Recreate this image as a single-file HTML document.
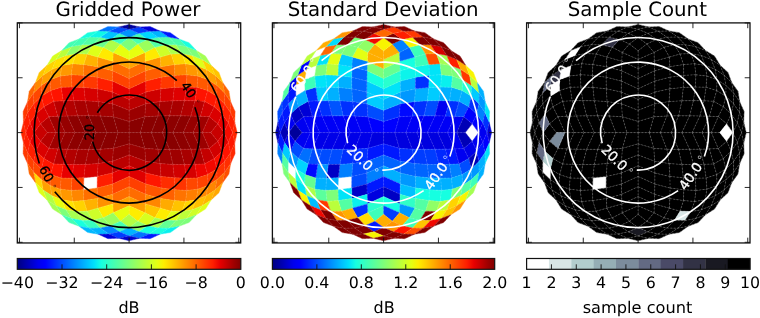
<!DOCTYPE html>
<html><head><meta charset="utf-8"><title>Gridded beam maps</title>
<style>html,body{margin:0;padding:0;background:#fff}body{will-change:transform}text{text-rendering:geometricPrecision}svg{display:block}</style></head>
<body>
<svg width="760" height="318" viewBox="0 0 760 318" font-family="'DejaVu Sans','Liberation Sans',sans-serif" fill="#000">
<rect width="760" height="318" fill="#fff"/>
<g stroke-width="0.35" stroke-linejoin="round">
<polygon points="129.10,132.60 129.10,121.42 144.84,116.85 140.28,132.60" fill="#890000" stroke="#890000"/>
<polygon points="129.10,132.60 117.92,132.60 113.36,116.85 129.10,121.42" fill="#890000" stroke="#890000"/>
<polygon points="129.10,132.60 129.10,143.78 113.36,148.35 117.92,132.60" fill="#890000" stroke="#890000"/>
<polygon points="129.10,132.60 140.28,132.60 144.84,148.35 129.10,143.78" fill="#890000" stroke="#890000"/>
<polygon points="140.28,132.60 144.84,116.85 157.83,116.00 151.37,132.60" fill="#890000" stroke="#890000"/>
<polygon points="129.10,121.42 129.10,110.32 145.69,103.85 144.84,116.85" fill="#9b0000" stroke="#9b0000"/>
<polygon points="129.10,121.42 113.36,116.85 112.51,103.85 129.10,110.32" fill="#9b0000" stroke="#9b0000"/>
<polygon points="117.92,132.60 106.83,132.60 100.37,116.00 113.36,116.85" fill="#890000" stroke="#890000"/>
<polygon points="117.92,132.60 113.36,148.35 100.37,149.20 106.83,132.60" fill="#890000" stroke="#890000"/>
<polygon points="129.10,143.78 129.10,154.88 112.51,161.35 113.36,148.35" fill="#9b0000" stroke="#9b0000"/>
<polygon points="129.10,143.78 144.84,148.35 145.69,161.35 129.10,154.88" fill="#9b0000" stroke="#9b0000"/>
<polygon points="140.28,132.60 151.37,132.60 157.83,149.20 144.84,148.35" fill="#890000" stroke="#890000"/>
<polygon points="151.37,132.60 157.83,116.00 169.59,115.82 162.28,132.60" fill="#890000" stroke="#890000"/>
<polygon points="144.84,116.85 145.69,103.85 160.09,101.60 157.83,116.00" fill="#a40000" stroke="#a40000"/>
<polygon points="129.10,110.32 129.10,99.41 145.87,92.10 145.69,103.85" fill="#bb0000" stroke="#bb0000"/>
<polygon points="129.10,110.32 112.51,103.85 112.33,92.10 129.10,99.41" fill="#bb0000" stroke="#bb0000"/>
<polygon points="113.36,116.85 100.37,116.00 98.11,101.60 112.51,103.85" fill="#a40000" stroke="#a40000"/>
<polygon points="106.83,132.60 95.92,132.60 88.61,115.82 100.37,116.00" fill="#890000" stroke="#890000"/>
<polygon points="106.83,132.60 100.37,149.20 88.61,149.38 95.92,132.60" fill="#890000" stroke="#890000"/>
<polygon points="113.36,148.35 112.51,161.35 98.11,163.60 100.37,149.20" fill="#a40000" stroke="#a40000"/>
<polygon points="129.10,154.88 129.10,165.79 112.33,173.10 112.51,161.35" fill="#bb0000" stroke="#bb0000"/>
<polygon points="129.10,154.88 145.69,161.35 145.87,173.10 129.10,165.79" fill="#bb0000" stroke="#bb0000"/>
<polygon points="144.84,148.35 157.83,149.20 160.09,163.60 145.69,161.35" fill="#9f0000" stroke="#9f0000"/>
<polygon points="151.37,132.60 162.28,132.60 169.59,149.38 157.83,149.20" fill="#890000" stroke="#890000"/>
<polygon points="162.28,132.60 169.59,115.82 180.56,115.87 172.92,132.60" fill="#8d0000" stroke="#8d0000"/>
<polygon points="157.83,116.00 160.09,101.60 172.87,100.78 169.59,115.82" fill="#a80000" stroke="#a80000"/>
<polygon points="145.69,103.85 145.87,92.10 160.90,88.81 160.09,101.60" fill="#cd0000" stroke="#cd0000"/>
<polygon points="129.10,99.41 129.10,88.76 145.82,81.12 145.87,92.10" fill="#e40000" stroke="#e40000"/>
<polygon points="129.10,99.41 112.33,92.10 112.38,81.12 129.10,88.76" fill="#e40000" stroke="#e40000"/>
<polygon points="112.51,103.85 98.11,101.60 97.30,88.81 112.33,92.10" fill="#cd0000" stroke="#cd0000"/>
<polygon points="100.37,116.00 88.61,115.82 85.33,100.78 98.11,101.60" fill="#a80000" stroke="#a80000"/>
<polygon points="95.92,132.60 85.28,132.60 77.64,115.87 88.61,115.82" fill="#8d0000" stroke="#8d0000"/>
<polygon points="95.92,132.60 88.61,149.38 77.64,149.33 85.28,132.60" fill="#8d0000" stroke="#8d0000"/>
<polygon points="100.37,149.20 98.11,163.60 85.33,164.42 88.61,149.38" fill="#a80000" stroke="#a80000"/>
<polygon points="112.51,161.35 112.33,173.10 97.30,176.39 98.11,163.60" fill="#cd0000" stroke="#cd0000"/>
<polygon points="129.10,165.79 129.10,176.44 112.38,184.08 112.33,173.10" fill="#e40000" stroke="#e40000"/>
<polygon points="129.10,165.79 145.87,173.10 145.82,184.08 129.10,176.44" fill="#df0000" stroke="#df0000"/>
<polygon points="145.69,161.35 160.09,163.60 160.90,176.39 145.87,173.10" fill="#c40000" stroke="#c40000"/>
<polygon points="157.83,149.20 169.59,149.38 172.87,164.42 160.09,163.60" fill="#9f0000" stroke="#9f0000"/>
<polygon points="162.28,132.60 172.92,132.60 180.56,149.33 169.59,149.38" fill="#890000" stroke="#890000"/>
<polygon points="172.92,132.60 180.56,115.87 190.84,116.05 183.20,132.60" fill="#8d0000" stroke="#8d0000"/>
<polygon points="169.59,115.82 172.87,100.78 184.46,100.62 180.56,115.87" fill="#a80000" stroke="#a80000"/>
<polygon points="160.09,101.60 160.90,88.81 174.30,87.38 172.87,100.78" fill="#d60000" stroke="#d60000"/>
<polygon points="145.87,92.10 145.82,81.12 161.06,77.22 160.90,88.81" fill="#ff1e00" stroke="#ff1e00"/>
<polygon points="129.10,88.76 129.10,78.47 145.64,70.83 145.82,81.12" fill="#ff4300" stroke="#ff4300"/>
<polygon points="129.10,88.76 112.38,81.12 112.56,70.83 129.10,78.47" fill="#ff4300" stroke="#ff4300"/>
<polygon points="112.33,92.10 97.30,88.81 97.14,77.22 112.38,81.12" fill="#ff1e00" stroke="#ff1e00"/>
<polygon points="98.11,101.60 85.33,100.78 83.90,87.38 97.30,88.81" fill="#d60000" stroke="#d60000"/>
<polygon points="88.61,115.82 77.64,115.87 73.74,100.62 85.33,100.78" fill="#a80000" stroke="#a80000"/>
<polygon points="85.28,132.60 75.00,132.60 67.36,116.05 77.64,115.87" fill="#8d0000" stroke="#8d0000"/>
<polygon points="85.28,132.60 77.64,149.33 67.36,149.15 75.00,132.60" fill="#8d0000" stroke="#8d0000"/>
<polygon points="88.61,149.38 85.33,164.42 73.74,164.58 77.64,149.33" fill="#a80000" stroke="#a80000"/>
<polygon points="98.11,163.60 97.30,176.39 83.90,177.82 85.33,164.42" fill="#d60000" stroke="#d60000"/>
<polygon points="112.33,173.10 112.38,184.08 97.14,187.98 97.30,176.39" fill="#ff1e00" stroke="#ff1e00"/>
<polygon points="129.10,176.44 129.10,186.73 112.56,194.37 112.38,184.08" fill="#ff4300" stroke="#ff4300"/>
<polygon points="129.10,176.44 145.82,184.08 145.64,194.37 129.10,186.73" fill="#ff3f00" stroke="#ff3f00"/>
<polygon points="145.87,173.10 160.90,176.39 161.06,187.98 145.82,184.08" fill="#ff1600" stroke="#ff1600"/>
<polygon points="160.09,163.60 172.87,164.42 174.30,177.82 160.90,176.39" fill="#c80000" stroke="#c80000"/>
<polygon points="169.59,149.38 180.56,149.33 184.46,164.58 172.87,164.42" fill="#9f0000" stroke="#9f0000"/>
<polygon points="172.92,132.60 183.20,132.60 190.84,149.15 180.56,149.33" fill="#8d0000" stroke="#8d0000"/>
<polygon points="183.20,132.60 190.84,116.05 200.43,116.31 193.02,132.60" fill="#960000" stroke="#960000"/>
<polygon points="180.56,115.87 184.46,100.62 195.02,100.84 190.84,116.05" fill="#b20000" stroke="#b20000"/>
<polygon points="172.87,100.78 174.30,87.38 186.31,86.96 184.46,100.62" fill="#df0000" stroke="#df0000"/>
<polygon points="160.90,88.81 161.06,77.22 174.72,75.37 174.30,87.38" fill="#ff3800" stroke="#ff3800"/>
<polygon points="145.82,81.12 145.64,70.83 160.85,66.65 161.06,77.22" fill="#ff5d00" stroke="#ff5d00"/>
<polygon points="129.10,78.47 129.10,68.65 145.38,61.23 145.64,70.83" fill="#ff6c00" stroke="#ff6c00"/>
<polygon points="129.10,78.47 112.56,70.83 112.82,61.23 129.10,68.65" fill="#ff6c00" stroke="#ff6c00"/>
<polygon points="112.38,81.12 97.14,77.22 97.35,66.65 112.56,70.83" fill="#ff5d00" stroke="#ff5d00"/>
<polygon points="97.30,88.81 83.90,87.38 83.48,75.37 97.14,77.22" fill="#ff3800" stroke="#ff3800"/>
<polygon points="85.33,100.78 73.74,100.62 71.89,86.96 83.90,87.38" fill="#df0000" stroke="#df0000"/>
<polygon points="77.64,115.87 67.36,116.05 63.18,100.84 73.74,100.62" fill="#b20000" stroke="#b20000"/>
<polygon points="75.00,132.60 65.18,132.60 57.77,116.31 67.36,116.05" fill="#960000" stroke="#960000"/>
<polygon points="75.00,132.60 67.36,149.15 57.77,148.89 65.18,132.60" fill="#960000" stroke="#960000"/>
<polygon points="77.64,149.33 73.74,164.58 63.18,164.36 67.36,149.15" fill="#b20000" stroke="#b20000"/>
<polygon points="85.33,164.42 83.90,177.82 71.89,178.24 73.74,164.58" fill="#df0000" stroke="#df0000"/>
<polygon points="112.38,184.08 112.56,194.37 97.35,198.55 97.14,187.98" fill="#ff5d00" stroke="#ff5d00"/>
<polygon points="129.10,186.73 129.10,196.55 112.82,203.97 112.56,194.37" fill="#ff6c00" stroke="#ff6c00"/>
<polygon points="129.10,186.73 145.64,194.37 145.38,203.97 129.10,196.55" fill="#ff6c00" stroke="#ff6c00"/>
<polygon points="145.82,184.08 161.06,187.98 160.85,198.55 145.64,194.37" fill="#ff5500" stroke="#ff5500"/>
<polygon points="160.90,176.39 174.30,177.82 174.72,189.83 161.06,187.98" fill="#ff2d00" stroke="#ff2d00"/>
<polygon points="172.87,164.42 184.46,164.58 186.31,178.24 174.30,177.82" fill="#d10000" stroke="#d10000"/>
<polygon points="180.56,149.33 190.84,149.15 195.02,164.36 184.46,164.58" fill="#a80000" stroke="#a80000"/>
<polygon points="183.20,132.60 193.02,132.60 200.43,148.89 190.84,149.15" fill="#920000" stroke="#920000"/>
<polygon points="193.02,132.60 200.43,116.31 209.26,116.65 202.27,132.60" fill="#9f0000" stroke="#9f0000"/>
<polygon points="190.84,116.05 195.02,100.84 204.61,101.31 200.43,116.31" fill="#bb0000" stroke="#bb0000"/>
<polygon points="184.46,100.62 186.31,86.96 197.05,87.17 195.02,100.84" fill="#e80000" stroke="#e80000"/>
<polygon points="174.30,87.38 174.72,75.37 186.89,74.78 186.31,86.96" fill="#ff4300" stroke="#ff4300"/>
<polygon points="161.06,77.22 160.85,66.65 174.51,64.61 174.72,75.37" fill="#ff6f00" stroke="#ff6f00"/>
<polygon points="145.64,70.83 145.38,61.23 160.38,57.06 160.85,66.65" fill="#ff9100" stroke="#ff9100"/>
<polygon points="129.10,68.65 129.10,59.40 145.04,52.41 145.38,61.23" fill="#ffa300" stroke="#ffa300"/>
<polygon points="129.10,68.65 112.82,61.23 113.16,52.41 129.10,59.40" fill="#ffa300" stroke="#ffa300"/>
<polygon points="112.56,70.83 97.35,66.65 97.82,57.06 112.82,61.23" fill="#ff9100" stroke="#ff9100"/>
<polygon points="97.14,77.22 83.48,75.37 83.69,64.61 97.35,66.65" fill="#ff6f00" stroke="#ff6f00"/>
<polygon points="83.90,87.38 71.89,86.96 71.31,74.78 83.48,75.37" fill="#ff4300" stroke="#ff4300"/>
<polygon points="73.74,100.62 63.18,100.84 61.15,87.17 71.89,86.96" fill="#e80000" stroke="#e80000"/>
<polygon points="67.36,116.05 57.77,116.31 53.59,101.31 63.18,100.84" fill="#bb0000" stroke="#bb0000"/>
<polygon points="65.18,132.60 55.93,132.60 48.94,116.65 57.77,116.31" fill="#9f0000" stroke="#9f0000"/>
<polygon points="65.18,132.60 57.77,148.89 48.94,148.55 55.93,132.60" fill="#9f0000" stroke="#9f0000"/>
<polygon points="67.36,149.15 63.18,164.36 53.59,163.89 57.77,148.89" fill="#bb0000" stroke="#bb0000"/>
<polygon points="73.74,164.58 71.89,178.24 61.15,178.03 63.18,164.36" fill="#e80000" stroke="#e80000"/>
<polygon points="83.90,177.82 83.48,189.83 71.31,190.42 71.89,178.24" fill="#ff4300" stroke="#ff4300"/>
<polygon points="97.14,187.98 97.35,198.55 83.69,200.59 83.48,189.83" fill="#ff6f00" stroke="#ff6f00"/>
<polygon points="112.56,194.37 112.82,203.97 97.82,208.14 97.35,198.55" fill="#ff9100" stroke="#ff9100"/>
<polygon points="129.10,196.55 129.10,205.80 113.16,212.79 112.82,203.97" fill="#ffa300" stroke="#ffa300"/>
<polygon points="129.10,196.55 145.38,203.97 145.04,212.79 129.10,205.80" fill="#ff9f00" stroke="#ff9f00"/>
<polygon points="145.64,194.37 160.85,198.55 160.38,208.14 145.38,203.97" fill="#ff8600" stroke="#ff8600"/>
<polygon points="161.06,187.98 174.72,189.83 174.51,200.59 160.85,198.55" fill="#ff6000" stroke="#ff6000"/>
<polygon points="174.30,177.82 186.31,178.24 186.89,190.42 174.72,189.83" fill="#ff3400" stroke="#ff3400"/>
<polygon points="184.46,164.58 195.02,164.36 197.05,178.03 186.31,178.24" fill="#d60000" stroke="#d60000"/>
<polygon points="190.84,149.15 200.43,148.89 204.61,163.89 195.02,164.36" fill="#ad0000" stroke="#ad0000"/>
<polygon points="193.02,132.60 202.27,132.60 209.26,148.55 200.43,148.89" fill="#9b0000" stroke="#9b0000"/>
<polygon points="202.27,132.60 209.26,116.65 217.73,123.87 210.83,132.60" fill="#b60000" stroke="#b60000"/>
<polygon points="200.43,116.31 204.61,101.31 214.33,106.74 209.26,116.65" fill="#d10000" stroke="#d10000"/>
<polygon points="195.02,100.84 197.05,87.17 207.65,90.60 204.61,101.31" fill="#ff1300" stroke="#ff1300"/>
<polygon points="186.31,86.96 186.89,74.78 197.95,76.07 197.05,87.17" fill="#ff5900" stroke="#ff5900"/>
<polygon points="174.72,75.37 174.51,64.61 185.60,63.72 186.89,74.78" fill="#ff8600" stroke="#ff8600"/>
<polygon points="160.85,66.65 160.38,57.06 171.08,54.02 174.51,64.61" fill="#ffb200" stroke="#ffb200"/>
<polygon points="145.38,61.23 145.04,52.41 154.95,47.33 160.38,57.06" fill="#ffea00" stroke="#ffea00"/>
<polygon points="129.10,59.40 129.10,50.83 137.83,43.93 145.04,52.41" fill="#e7ff0f" stroke="#e7ff0f"/>
<polygon points="129.10,59.40 113.16,52.41 120.37,43.93 129.10,50.83" fill="#e7ff0f" stroke="#e7ff0f"/>
<polygon points="112.82,61.23 97.82,57.06 103.25,47.33 113.16,52.41" fill="#ffea00" stroke="#ffea00"/>
<polygon points="97.35,66.65 83.69,64.61 87.12,54.02 97.82,57.06" fill="#ffb200" stroke="#ffb200"/>
<polygon points="83.48,75.37 71.31,74.78 72.60,63.72 83.69,64.61" fill="#ff8600" stroke="#ff8600"/>
<polygon points="71.89,86.96 61.15,87.17 60.25,76.07 71.31,74.78" fill="#ff5900" stroke="#ff5900"/>
<polygon points="63.18,100.84 53.59,101.31 50.55,90.60 61.15,87.17" fill="#ff1300" stroke="#ff1300"/>
<polygon points="57.77,116.31 48.94,116.65 43.87,106.74 53.59,101.31" fill="#d10000" stroke="#d10000"/>
<polygon points="55.93,132.60 47.37,132.60 40.47,123.87 48.94,116.65" fill="#b60000" stroke="#b60000"/>
<polygon points="55.93,132.60 48.94,148.55 40.47,141.33 47.37,132.60" fill="#b60000" stroke="#b60000"/>
<polygon points="57.77,148.89 53.59,163.89 43.87,158.46 48.94,148.55" fill="#d10000" stroke="#d10000"/>
<polygon points="63.18,164.36 61.15,178.03 50.55,174.60 53.59,163.89" fill="#ff1300" stroke="#ff1300"/>
<polygon points="71.89,178.24 71.31,190.42 60.25,189.13 61.15,178.03" fill="#ff5900" stroke="#ff5900"/>
<polygon points="83.48,189.83 83.69,200.59 72.60,201.48 71.31,190.42" fill="#ff8600" stroke="#ff8600"/>
<polygon points="97.35,198.55 97.82,208.14 87.12,211.18 83.69,200.59" fill="#ffb200" stroke="#ffb200"/>
<polygon points="112.82,203.97 113.16,212.79 103.25,217.87 97.82,208.14" fill="#ffea00" stroke="#ffea00"/>
<polygon points="129.10,205.80 129.10,214.37 120.37,221.27 113.16,212.79" fill="#e7ff0f" stroke="#e7ff0f"/>
<polygon points="129.10,205.80 145.04,212.79 137.83,221.27 129.10,214.37" fill="#feed00" stroke="#feed00"/>
<polygon points="145.38,203.97 160.38,208.14 154.95,217.87 145.04,212.79" fill="#ffc400" stroke="#ffc400"/>
<polygon points="160.85,198.55 174.51,200.59 171.08,211.18 160.38,208.14" fill="#ffab00" stroke="#ffab00"/>
<polygon points="174.72,189.83 186.89,190.42 185.60,201.48 174.51,200.59" fill="#ff7300" stroke="#ff7300"/>
<polygon points="186.31,178.24 197.05,178.03 197.95,189.13 186.89,190.42" fill="#ff4700" stroke="#ff4700"/>
<polygon points="195.02,164.36 204.61,163.89 207.65,174.60 197.05,178.03" fill="#ed0400" stroke="#ed0400"/>
<polygon points="200.43,148.89 209.26,148.55 214.33,158.46 204.61,163.89" fill="#c40000" stroke="#c40000"/>
<polygon points="202.27,132.60 210.83,132.60 217.73,141.33 209.26,148.55" fill="#b20000" stroke="#b20000"/>
<polygon points="209.26,116.65 214.33,106.74 222.24,114.07 217.73,123.87" fill="#da0000" stroke="#da0000"/>
<polygon points="204.61,101.31 207.65,90.60 216.83,96.24 214.33,106.74" fill="#ff1600" stroke="#ff1600"/>
<polygon points="197.05,87.17 197.95,76.07 208.06,79.82 207.65,90.60" fill="#ff5900" stroke="#ff5900"/>
<polygon points="186.89,74.78 185.60,63.72 196.25,65.42 197.95,76.07" fill="#ff9800" stroke="#ff9800"/>
<polygon points="174.51,64.61 171.08,54.02 181.86,53.61 185.60,63.72" fill="#ffd300" stroke="#ffd300"/>
<polygon points="160.38,57.06 154.95,47.33 165.44,44.83 171.08,54.02" fill="#ceff29" stroke="#ceff29"/>
<polygon points="145.04,52.41 137.83,43.93 147.63,39.42 154.95,47.33" fill="#9aff5d" stroke="#9aff5d"/>
<polygon points="129.10,50.83 120.37,43.93 129.10,37.60 137.83,43.93" fill="#7dff7a" stroke="#7dff7a"/>
<polygon points="113.16,52.41 103.25,47.33 110.57,39.42 120.37,43.93" fill="#adff49" stroke="#adff49"/>
<polygon points="97.82,57.06 87.12,54.02 92.76,44.83 103.25,47.33" fill="#deff19" stroke="#deff19"/>
<polygon points="83.69,64.61 72.60,63.72 76.34,53.61 87.12,54.02" fill="#ffd300" stroke="#ffd300"/>
<polygon points="71.31,74.78 60.25,76.07 61.95,65.42 72.60,63.72" fill="#ff9800" stroke="#ff9800"/>
<polygon points="61.15,87.17 50.55,90.60 50.14,79.82 60.25,76.07" fill="#ff5900" stroke="#ff5900"/>
<polygon points="53.59,101.31 43.87,106.74 41.37,96.24 50.55,90.60" fill="#ff1600" stroke="#ff1600"/>
<polygon points="48.94,116.65 40.47,123.87 35.96,114.07 43.87,106.74" fill="#da0000" stroke="#da0000"/>
<polygon points="47.37,132.60 40.47,141.33 34.14,132.60 40.47,123.87" fill="#c80000" stroke="#c80000"/>
<polygon points="48.94,148.55 43.87,158.46 35.96,151.13 40.47,141.33" fill="#da0000" stroke="#da0000"/>
<polygon points="53.59,163.89 50.55,174.60 41.37,168.96 43.87,158.46" fill="#ff1600" stroke="#ff1600"/>
<polygon points="61.15,178.03 60.25,189.13 50.14,185.38 50.55,174.60" fill="#ff5900" stroke="#ff5900"/>
<polygon points="71.31,190.42 72.60,201.48 61.95,199.78 60.25,189.13" fill="#ff9800" stroke="#ff9800"/>
<polygon points="83.69,200.59 87.12,211.18 76.34,211.59 72.60,201.48" fill="#ffd300" stroke="#ffd300"/>
<polygon points="97.82,208.14 103.25,217.87 92.76,220.37 87.12,211.18" fill="#ceff29" stroke="#ceff29"/>
<polygon points="113.16,212.79 120.37,221.27 110.57,225.78 103.25,217.87" fill="#9aff5d" stroke="#9aff5d"/>
<polygon points="129.10,214.37 137.83,221.27 129.10,227.60 120.37,221.27" fill="#b4ff43" stroke="#b4ff43"/>
<polygon points="145.04,212.79 154.95,217.87 147.63,225.78 137.83,221.27" fill="#d7ff1f" stroke="#d7ff1f"/>
<polygon points="160.38,208.14 171.08,211.18 165.44,220.37 154.95,217.87" fill="#feed00" stroke="#feed00"/>
<polygon points="174.51,200.59 185.60,201.48 181.86,211.59 171.08,211.18" fill="#ffc400" stroke="#ffc400"/>
<polygon points="186.89,190.42 197.95,189.13 196.25,199.78 185.60,201.48" fill="#ff7e00" stroke="#ff7e00"/>
<polygon points="197.05,178.03 207.65,174.60 208.06,185.38 197.95,189.13" fill="#ff4300" stroke="#ff4300"/>
<polygon points="204.61,163.89 214.33,158.46 216.83,168.96 207.65,174.60" fill="#f10800" stroke="#f10800"/>
<polygon points="209.26,148.55 217.73,141.33 222.24,151.13 214.33,158.46" fill="#d10000" stroke="#d10000"/>
<polygon points="210.83,132.60 217.73,123.87 224.06,132.60 217.73,141.33" fill="#c80000" stroke="#c80000"/>
<polygon points="217.73,123.87 222.24,114.07 228.30,122.83 224.06,132.60" fill="#e80000" stroke="#e80000"/>
<polygon points="214.33,106.74 216.83,96.24 224.49,103.65 222.24,114.07" fill="#ff1e00" stroke="#ff1e00"/>
<polygon points="207.65,90.60 208.06,79.82 217.01,85.59 216.83,96.24" fill="#ff5200" stroke="#ff5200"/>
<polygon points="197.95,76.07 196.25,65.42 206.15,69.34 208.06,79.82" fill="#ffa300" stroke="#ffa300"/>
<polygon points="185.60,63.72 181.86,53.61 192.34,55.51 196.25,65.42" fill="#ffe200" stroke="#ffe200"/>
<polygon points="171.08,54.02 165.44,44.83 176.09,44.65 181.86,53.61" fill="#adff49" stroke="#adff49"/>
<polygon points="154.95,47.33 147.63,39.42 158.04,37.17 165.44,44.83" fill="#53ffa4" stroke="#53ffa4"/>
<polygon points="137.83,43.93 129.10,37.60 138.87,33.36 147.63,39.42" fill="#46ffb1" stroke="#46ffb1"/>
<polygon points="120.37,43.93 110.57,39.42 119.33,33.36 129.10,37.60" fill="#39ffbe" stroke="#39ffbe"/>
<polygon points="103.25,47.33 92.76,44.83 100.16,37.17 110.57,39.42" fill="#6aff8d" stroke="#6aff8d"/>
<polygon points="87.12,54.02 76.34,53.61 82.11,44.65 92.76,44.83" fill="#adff49" stroke="#adff49"/>
<polygon points="72.60,63.72 61.95,65.42 65.86,55.51 76.34,53.61" fill="#ffe200" stroke="#ffe200"/>
<polygon points="60.25,76.07 50.14,79.82 52.05,69.34 61.95,65.42" fill="#ffa300" stroke="#ffa300"/>
<polygon points="50.55,90.60 41.37,96.24 41.19,85.59 50.14,79.82" fill="#ff5200" stroke="#ff5200"/>
<polygon points="43.87,106.74 35.96,114.07 33.71,103.65 41.37,96.24" fill="#ff1e00" stroke="#ff1e00"/>
<polygon points="40.47,123.87 34.14,132.60 29.90,122.83 35.96,114.07" fill="#e80000" stroke="#e80000"/>
<polygon points="40.47,141.33 35.96,151.13 29.90,142.37 34.14,132.60" fill="#e80000" stroke="#e80000"/>
<polygon points="43.87,158.46 41.37,168.96 33.71,161.55 35.96,151.13" fill="#ff1e00" stroke="#ff1e00"/>
<polygon points="50.55,174.60 50.14,185.38 41.19,179.61 41.37,168.96" fill="#ff5200" stroke="#ff5200"/>
<polygon points="60.25,189.13 61.95,199.78 52.05,195.86 50.14,185.38" fill="#ffa300" stroke="#ffa300"/>
<polygon points="72.60,201.48 76.34,211.59 65.86,209.69 61.95,199.78" fill="#ffe200" stroke="#ffe200"/>
<polygon points="87.12,211.18 92.76,220.37 82.11,220.55 76.34,211.59" fill="#adff49" stroke="#adff49"/>
<polygon points="103.25,217.87 110.57,225.78 100.16,228.03 92.76,220.37" fill="#8dff6a" stroke="#8dff6a"/>
<polygon points="120.37,221.27 129.10,227.60 119.33,231.84 110.57,225.78" fill="#46ffb1" stroke="#46ffb1"/>
<polygon points="137.83,221.27 147.63,225.78 138.87,231.84 129.10,227.60" fill="#8dff6a" stroke="#8dff6a"/>
<polygon points="154.95,217.87 165.44,220.37 158.04,228.03 147.63,225.78" fill="#a4ff53" stroke="#a4ff53"/>
<polygon points="171.08,211.18 181.86,211.59 176.09,220.55 165.44,220.37" fill="#deff19" stroke="#deff19"/>
<polygon points="185.60,201.48 196.25,199.78 192.34,209.69 181.86,211.59" fill="#ffd700" stroke="#ffd700"/>
<polygon points="197.95,189.13 208.06,185.38 206.15,195.86 196.25,199.78" fill="#ff8900" stroke="#ff8900"/>
<polygon points="207.65,174.60 216.83,168.96 217.01,179.61 208.06,185.38" fill="#ff3b00" stroke="#ff3b00"/>
<polygon points="214.33,158.46 222.24,151.13 224.49,161.55 216.83,168.96" fill="#fa0f00" stroke="#fa0f00"/>
<polygon points="217.73,141.33 224.06,132.60 228.30,142.37 222.24,151.13" fill="#df0000" stroke="#df0000"/>
<polygon points="222.24,114.07 224.49,103.65 230.49,112.42 228.30,122.83" fill="#ff1e00" stroke="#ff1e00"/>
<polygon points="216.83,96.24 217.01,85.59 224.61,93.02 224.49,103.65" fill="#ff4700" stroke="#ff4700"/>
<polygon points="208.06,79.82 206.15,69.34 215.06,75.14 217.01,85.59" fill="#ff9f00" stroke="#ff9f00"/>
<polygon points="196.25,65.42 192.34,55.51 202.20,59.47 206.15,69.34" fill="#deff19" stroke="#deff19"/>
<polygon points="181.86,53.61 176.09,44.65 186.53,46.60 192.34,55.51" fill="#7dff7a" stroke="#7dff7a"/>
<polygon points="165.44,44.83 158.04,37.17 168.66,37.05 176.09,44.65" fill="#50ffa7" stroke="#50ffa7"/>
<polygon points="147.63,39.42 138.87,33.36 149.27,31.16 158.04,37.17" fill="#00d8ff" stroke="#00d8ff"/>
<polygon points="129.10,37.60 119.33,33.36 129.10,29.17 138.87,33.36" fill="#0094ff" stroke="#0094ff"/>
<polygon points="110.57,39.42 100.16,37.17 108.93,31.16 119.33,33.36" fill="#00c4ff" stroke="#00c4ff"/>
<polygon points="92.76,44.83 82.11,44.65 89.54,37.05 100.16,37.17" fill="#53ffa4" stroke="#53ffa4"/>
<polygon points="76.34,53.61 65.86,55.51 71.67,46.60 82.11,44.65" fill="#8dff6a" stroke="#8dff6a"/>
<polygon points="61.95,65.42 52.05,69.34 56.00,59.47 65.86,55.51" fill="#ffde00" stroke="#ffde00"/>
<polygon points="50.14,79.82 41.19,85.59 43.14,75.14 52.05,69.34" fill="#ff9f00" stroke="#ff9f00"/>
<polygon points="41.37,96.24 33.71,103.65 33.59,93.02 41.19,85.59" fill="#ff4700" stroke="#ff4700"/>
<polygon points="35.96,114.07 29.90,122.83 27.71,112.42 33.71,103.65" fill="#ff1e00" stroke="#ff1e00"/>
<polygon points="34.14,132.60 29.90,142.37 25.72,132.60 29.90,122.83" fill="#f60b00" stroke="#f60b00"/>
<polygon points="35.96,151.13 33.71,161.55 27.71,152.78 29.90,142.37" fill="#ff1e00" stroke="#ff1e00"/>
<polygon points="41.37,168.96 41.19,179.61 33.59,172.18 33.71,161.55" fill="#ff4700" stroke="#ff4700"/>
<polygon points="50.14,185.38 52.05,195.86 43.14,190.06 41.19,179.61" fill="#ff9f00" stroke="#ff9f00"/>
<polygon points="61.95,199.78 65.86,209.69 56.00,205.73 52.05,195.86" fill="#e7ff0f" stroke="#e7ff0f"/>
<polygon points="76.34,211.59 82.11,220.55 71.67,218.60 65.86,209.69" fill="#a7ff50" stroke="#a7ff50"/>
<polygon points="92.76,220.37 100.16,228.03 89.54,228.15 82.11,220.55" fill="#39ffbe" stroke="#39ffbe"/>
<polygon points="110.57,225.78 119.33,231.84 108.93,234.04 100.16,228.03" fill="#0088ff" stroke="#0088ff"/>
<polygon points="129.10,227.60 138.87,231.84 129.10,236.03 119.33,231.84" fill="#00b4ff" stroke="#00b4ff"/>
<polygon points="147.63,225.78 158.04,228.03 149.27,234.04 138.87,231.84" fill="#19ffde" stroke="#19ffde"/>
<polygon points="165.44,220.37 176.09,220.55 168.66,228.15 158.04,228.03" fill="#63ff94" stroke="#63ff94"/>
<polygon points="181.86,211.59 192.34,209.69 186.53,218.60 176.09,220.55" fill="#beff39" stroke="#beff39"/>
<polygon points="196.25,199.78 206.15,195.86 202.20,205.73 192.34,209.69" fill="#ffc100" stroke="#ffc100"/>
<polygon points="208.06,185.38 217.01,179.61 215.06,190.06 206.15,195.86" fill="#ff8600" stroke="#ff8600"/>
<polygon points="216.83,168.96 224.49,161.55 224.61,172.18 217.01,179.61" fill="#ff3400" stroke="#ff3400"/>
<polygon points="222.24,151.13 228.30,142.37 230.49,152.78 224.49,161.55" fill="#ff1300" stroke="#ff1300"/>
<polygon points="224.06,132.60 228.30,122.83 232.48,132.60 228.30,142.37" fill="#f60b00" stroke="#f60b00"/>
<polygon points="228.30,122.83 230.49,112.42 234.76,122.19 232.48,132.60" fill="#ff1e00" stroke="#ff1e00"/>
<polygon points="224.49,103.65 224.61,93.02 230.70,101.77 230.49,112.42" fill="#ff3f00" stroke="#ff3f00"/>
<polygon points="217.01,85.59 215.06,75.14 222.73,82.53 224.61,93.02" fill="#ff8900" stroke="#ff8900"/>
<polygon points="206.15,69.34 202.20,59.47 211.17,65.22 215.06,75.14" fill="#ffd300" stroke="#ffd300"/>
<polygon points="192.34,55.51 186.53,46.60 196.45,50.49 202.20,59.47" fill="#7dff7a" stroke="#7dff7a"/>
<polygon points="176.09,44.65 168.66,37.05 179.15,38.93 186.53,46.60" fill="#49ffad" stroke="#49ffad"/>
<polygon points="158.04,37.17 149.27,31.16 159.92,30.96 168.66,37.05" fill="#00b4ff" stroke="#00b4ff"/>
<polygon points="138.87,33.36 129.10,29.17 139.51,26.89 149.27,31.16" fill="#003cff" stroke="#003cff"/>
<polygon points="119.33,33.36 108.93,31.16 118.69,26.89 129.10,29.17" fill="#004cff" stroke="#004cff"/>
<polygon points="100.16,37.17 89.54,37.05 98.28,30.96 108.93,31.16" fill="#0ff8e7" stroke="#0ff8e7"/>
<polygon points="82.11,44.65 71.67,46.60 79.05,38.93 89.54,37.05" fill="#43ffb4" stroke="#43ffb4"/>
<polygon points="65.86,55.51 56.00,59.47 61.75,50.49 71.67,46.60" fill="#baff3c" stroke="#baff3c"/>
<polygon points="52.05,69.34 43.14,75.14 47.03,65.22 56.00,59.47" fill="#ffd300" stroke="#ffd300"/>
<polygon points="41.19,85.59 33.59,93.02 35.47,82.53 43.14,75.14" fill="#ff8900" stroke="#ff8900"/>
<polygon points="33.71,103.65 27.71,112.42 27.50,101.77 33.59,93.02" fill="#ff3f00" stroke="#ff3f00"/>
<polygon points="29.90,122.83 25.72,132.60 23.44,122.19 27.71,112.42" fill="#ff1e00" stroke="#ff1e00"/>
<polygon points="29.90,142.37 27.71,152.78 23.44,143.01 25.72,132.60" fill="#ff1e00" stroke="#ff1e00"/>
<polygon points="33.71,161.55 33.59,172.18 27.50,163.43 27.71,152.78" fill="#ff3f00" stroke="#ff3f00"/>
<polygon points="41.19,179.61 43.14,190.06 35.47,182.67 33.59,172.18" fill="#ffd700" stroke="#ffd700"/>
<polygon points="52.05,195.86 56.00,205.73 47.03,199.98 43.14,190.06" fill="#b4ff43" stroke="#b4ff43"/>
<polygon points="65.86,209.69 71.67,218.60 61.75,214.71 56.00,205.73" fill="#7dff7a" stroke="#7dff7a"/>
<polygon points="82.11,220.55 89.54,228.15 79.05,226.27 71.67,218.60" fill="#19ffde" stroke="#19ffde"/>
<polygon points="100.16,228.03 108.93,234.04 98.28,234.24 89.54,228.15" fill="#00b4ff" stroke="#00b4ff"/>
<polygon points="119.33,231.84 129.10,236.03 118.69,238.31 108.93,234.04" fill="#003cff" stroke="#003cff"/>
<polygon points="138.87,231.84 149.27,234.04 139.51,238.31 129.10,236.03" fill="#0074ff" stroke="#0074ff"/>
<polygon points="158.04,228.03 168.66,228.15 159.92,234.24 149.27,234.04" fill="#19ffde" stroke="#19ffde"/>
<polygon points="176.09,220.55 186.53,218.60 179.15,226.27 168.66,228.15" fill="#7dff7a" stroke="#7dff7a"/>
<polygon points="192.34,209.69 202.20,205.73 196.45,214.71 186.53,218.60" fill="#ceff29" stroke="#ceff29"/>
<polygon points="206.15,195.86 215.06,190.06 211.17,199.98 202.20,205.73" fill="#ffb600" stroke="#ffb600"/>
<polygon points="217.01,179.61 224.61,172.18 222.73,182.67 215.06,190.06" fill="#ff6c00" stroke="#ff6c00"/>
<polygon points="224.49,161.55 230.49,152.78 230.70,163.43 224.61,172.18" fill="#ff2d00" stroke="#ff2d00"/>
<polygon points="228.30,142.37 232.48,132.60 234.76,143.01 230.49,152.78" fill="#ff1600" stroke="#ff1600"/>
<polygon points="230.49,112.42 230.70,101.77 235.14,111.50 234.76,122.19" fill="#ff3800" stroke="#ff3800"/>
<polygon points="224.61,93.02 222.73,82.53 228.99,91.21 230.70,101.77" fill="#ff6400" stroke="#ff6400"/>
<polygon points="215.06,75.14 211.17,65.22 219.00,72.51 222.73,82.53" fill="#ffc400" stroke="#ffc400"/>
<polygon points="202.20,59.47 196.45,50.49 205.55,56.12 211.17,65.22" fill="#a4ff53" stroke="#a4ff53"/>
<polygon points="186.53,46.60 179.15,38.93 189.17,42.66 196.45,50.49" fill="#19ffde" stroke="#19ffde"/>
<polygon points="168.66,37.05 159.92,30.96 170.47,32.67 179.15,38.93" fill="#0018ff" stroke="#0018ff"/>
<polygon points="149.27,31.16 139.51,26.89 150.19,26.51 159.92,30.96" fill="#0000da" stroke="#0000da"/>
<polygon points="129.10,29.17 118.69,26.89 129.10,24.43 139.51,26.89" fill="#00009f" stroke="#00009f"/>
<polygon points="108.93,31.16 98.28,30.96 108.01,26.51 118.69,26.89" fill="#0074ff" stroke="#0074ff"/>
<polygon points="89.54,37.05 79.05,38.93 87.73,32.67 98.28,30.96" fill="#19ffde" stroke="#19ffde"/>
<polygon points="71.67,46.60 61.75,50.49 69.03,42.66 79.05,38.93" fill="#43ffb4" stroke="#43ffb4"/>
<polygon points="56.00,59.47 47.03,65.22 52.65,56.12 61.75,50.49" fill="#d7ff1f" stroke="#d7ff1f"/>
<polygon points="43.14,75.14 35.47,82.53 39.20,72.51 47.03,65.22" fill="#ffc400" stroke="#ffc400"/>
<polygon points="33.59,93.02 27.50,101.77 29.21,91.21 35.47,82.53" fill="#ff6400" stroke="#ff6400"/>
<polygon points="27.71,112.42 23.44,122.19 23.06,111.50 27.50,101.77" fill="#ff3800" stroke="#ff3800"/>
<polygon points="25.72,132.60 23.44,143.01 20.98,132.60 23.44,122.19" fill="#ff2500" stroke="#ff2500"/>
<polygon points="27.71,152.78 27.50,163.43 23.06,153.70 23.44,143.01" fill="#ff3800" stroke="#ff3800"/>
<polygon points="33.59,172.18 35.47,182.67 29.21,173.99 27.50,163.43" fill="#ff6400" stroke="#ff6400"/>
<polygon points="43.14,190.06 47.03,199.98 39.20,192.69 35.47,182.67" fill="#deff19" stroke="#deff19"/>
<polygon points="56.00,205.73 61.75,214.71 52.65,209.08 47.03,199.98" fill="#a4ff53" stroke="#a4ff53"/>
<polygon points="71.67,218.60 79.05,226.27 69.03,222.54 61.75,214.71" fill="#43ffb4" stroke="#43ffb4"/>
<polygon points="89.54,228.15 98.28,234.24 87.73,232.53 79.05,226.27" fill="#00b8ff" stroke="#00b8ff"/>
<polygon points="108.93,234.04 118.69,238.31 108.01,238.69 98.28,234.24" fill="#0000da" stroke="#0000da"/>
<polygon points="129.10,236.03 139.51,238.31 129.10,240.77 118.69,238.31" fill="#0000cd" stroke="#0000cd"/>
<polygon points="149.27,234.04 159.92,234.24 150.19,238.69 139.51,238.31" fill="#0018ff" stroke="#0018ff"/>
<polygon points="168.66,228.15 179.15,226.27 170.47,232.53 159.92,234.24" fill="#09f0ee" stroke="#09f0ee"/>
<polygon points="186.53,218.60 196.45,214.71 189.17,222.54 179.15,226.27" fill="#7dff7a" stroke="#7dff7a"/>
<polygon points="202.20,205.73 211.17,199.98 205.55,209.08 196.45,214.71" fill="#deff19" stroke="#deff19"/>
<polygon points="215.06,190.06 222.73,182.67 219.00,192.69 211.17,199.98" fill="#ffa700" stroke="#ffa700"/>
<polygon points="224.61,172.18 230.70,163.43 228.99,173.99 222.73,182.67" fill="#ff4e00" stroke="#ff4e00"/>
<polygon points="230.49,152.78 234.76,143.01 235.14,153.70 230.70,163.43" fill="#ff2900" stroke="#ff2900"/>
<polygon points="232.48,132.60 234.76,122.19 237.22,132.60 234.76,143.01" fill="#ff2500" stroke="#ff2500"/>
</g>
<path d="M129.1 121.4L129.1 132.6M129.1 121.4L144.8 116.8M140.3 132.6L144.8 116.8M129.1 132.6L140.3 132.6M117.9 132.6L129.1 132.6M113.4 116.8L117.9 132.6M113.4 116.8L129.1 121.4M129.1 132.6L129.1 143.8M113.4 148.4L129.1 143.8M113.4 148.4L117.9 132.6M140.3 132.6L144.8 148.4M129.1 143.8L144.8 148.4M144.8 116.8L157.8 116.0M151.4 132.6L157.8 116.0M140.3 132.6L151.4 132.6M129.1 110.3L129.1 121.4M129.1 110.3L145.7 103.9M144.8 116.8L145.7 103.9M112.5 103.9L113.4 116.8M112.5 103.9L129.1 110.3M106.8 132.6L117.9 132.6M100.4 116.0L106.8 132.6M100.4 116.0L113.4 116.8M100.4 149.2L113.4 148.4M100.4 149.2L106.8 132.6M129.1 143.8L129.1 154.9M112.5 161.3L129.1 154.9M112.5 161.3L113.4 148.4M144.8 148.4L145.7 161.3M129.1 154.9L145.7 161.3M151.4 132.6L157.8 149.2M144.8 148.4L157.8 149.2M157.8 116.0L169.6 115.8M162.3 132.6L169.6 115.8M151.4 132.6L162.3 132.6M145.7 103.9L160.1 101.6M157.8 116.0L160.1 101.6M129.1 99.4L129.1 110.3M129.1 99.4L145.9 92.1M145.7 103.9L145.9 92.1M112.3 92.1L112.5 103.9M112.3 92.1L129.1 99.4M98.1 101.6L100.4 116.0M98.1 101.6L112.5 103.9M95.9 132.6L106.8 132.6M88.6 115.8L95.9 132.6M88.6 115.8L100.4 116.0M88.6 149.4L100.4 149.2M88.6 149.4L95.9 132.6M98.1 163.6L112.5 161.3M98.1 163.6L100.4 149.2M129.1 154.9L129.1 165.8M112.3 173.1L129.1 165.8M112.3 173.1L112.5 161.3M145.7 161.3L145.9 173.1M129.1 165.8L145.9 173.1M157.8 149.2L160.1 163.6M145.7 161.3L160.1 163.6M162.3 132.6L169.6 149.4M157.8 149.2L169.6 149.4M169.6 115.8L180.6 115.9M172.9 132.6L180.6 115.9M162.3 132.6L172.9 132.6M160.1 101.6L172.9 100.8M169.6 115.8L172.9 100.8M145.9 92.1L160.9 88.8M160.1 101.6L160.9 88.8M129.1 88.8L129.1 99.4M129.1 88.8L145.8 81.1M145.8 81.1L145.9 92.1M112.3 92.1L112.4 81.1M112.4 81.1L129.1 88.8M97.3 88.8L98.1 101.6M97.3 88.8L112.3 92.1M85.3 100.8L88.6 115.8M85.3 100.8L98.1 101.6M85.3 132.6L95.9 132.6M77.6 115.9L85.3 132.6M77.6 115.9L88.6 115.8M77.6 149.3L88.6 149.4M77.6 149.3L85.3 132.6M85.3 164.4L98.1 163.6M85.3 164.4L88.6 149.4M97.3 176.4L112.3 173.1M97.3 176.4L98.1 163.6M129.1 165.8L129.1 176.4M112.4 184.1L129.1 176.4M112.3 173.1L112.4 184.1M145.8 184.1L145.9 173.1M129.1 176.4L145.8 184.1M160.1 163.6L160.9 176.4M145.9 173.1L160.9 176.4M169.6 149.4L172.9 164.4M160.1 163.6L172.9 164.4M172.9 132.6L180.6 149.3M169.6 149.4L180.6 149.3M180.6 115.9L190.8 116.0M183.2 132.6L190.8 116.0M172.9 132.6L183.2 132.6M172.9 100.8L184.5 100.6M180.6 115.9L184.5 100.6M160.9 88.8L174.3 87.4M172.9 100.8L174.3 87.4M145.8 81.1L161.1 77.2M160.9 88.8L161.1 77.2M129.1 78.5L129.1 88.8M129.1 78.5L145.6 70.8M145.6 70.8L145.8 81.1M112.4 81.1L112.6 70.8M112.6 70.8L129.1 78.5M97.1 77.2L97.3 88.8M97.1 77.2L112.4 81.1M83.9 87.4L85.3 100.8M83.9 87.4L97.3 88.8M73.7 100.6L77.6 115.9M73.7 100.6L85.3 100.8M75.0 132.6L85.3 132.6M67.4 116.0L75.0 132.6M67.4 116.0L77.6 115.9M67.4 149.2L77.6 149.3M67.4 149.2L75.0 132.6M73.7 164.6L85.3 164.4M73.7 164.6L77.6 149.3M83.9 177.8L97.3 176.4M83.9 177.8L85.3 164.4M97.1 188.0L112.4 184.1M97.1 188.0L97.3 176.4M129.1 176.4L129.1 186.7M112.6 194.4L129.1 186.7M112.4 184.1L112.6 194.4M145.6 194.4L145.8 184.1M129.1 186.7L145.6 194.4M160.9 176.4L161.1 188.0M145.8 184.1L161.1 188.0M172.9 164.4L174.3 177.8M160.9 176.4L174.3 177.8M180.6 149.3L184.5 164.6M172.9 164.4L184.5 164.6M183.2 132.6L190.8 149.2M180.6 149.3L190.8 149.2M190.8 116.0L200.4 116.3M193.0 132.6L200.4 116.3M183.2 132.6L193.0 132.6M184.5 100.6L195.0 100.8M190.8 116.0L195.0 100.8M174.3 87.4L186.3 87.0M184.5 100.6L186.3 87.0M161.1 77.2L174.7 75.4M174.3 87.4L174.7 75.4M145.6 70.8L160.8 66.6M160.8 66.6L161.1 77.2M129.1 68.6L129.1 78.5M129.1 68.6L145.4 61.2M145.4 61.2L145.6 70.8M112.6 70.8L112.8 61.2M112.8 61.2L129.1 68.6M97.1 77.2L97.4 66.6M97.4 66.6L112.6 70.8M83.5 75.4L83.9 87.4M83.5 75.4L97.1 77.2M71.9 87.0L73.7 100.6M71.9 87.0L83.9 87.4M63.2 100.8L67.4 116.0M63.2 100.8L73.7 100.6M65.2 132.6L75.0 132.6M57.8 116.3L65.2 132.6M57.8 116.3L67.4 116.0M57.8 148.9L67.4 149.2M57.8 148.9L65.2 132.6M63.2 164.4L73.7 164.6M63.2 164.4L67.4 149.2M71.9 178.2L83.9 177.8M71.9 178.2L73.7 164.6M97.4 198.6L112.6 194.4M97.1 188.0L97.4 198.6M129.1 186.7L129.1 196.6M112.8 204.0L129.1 196.6M112.6 194.4L112.8 204.0M145.4 204.0L145.6 194.4M129.1 196.6L145.4 204.0M160.8 198.6L161.1 188.0M145.6 194.4L160.8 198.6M174.3 177.8L174.7 189.8M161.1 188.0L174.7 189.8M184.5 164.6L186.3 178.2M174.3 177.8L186.3 178.2M190.8 149.2L195.0 164.4M184.5 164.6L195.0 164.4M193.0 132.6L200.4 148.9M190.8 149.2L200.4 148.9M200.4 116.3L209.3 116.6M202.3 132.6L209.3 116.6M193.0 132.6L202.3 132.6M195.0 100.8L204.6 101.3M200.4 116.3L204.6 101.3M186.3 87.0L197.1 87.2M195.0 100.8L197.1 87.2M174.7 75.4L186.9 74.8M186.3 87.0L186.9 74.8M160.8 66.6L174.5 64.6M174.5 64.6L174.7 75.4M145.4 61.2L160.4 57.1M160.4 57.1L160.8 66.6M129.1 59.4L129.1 68.6M129.1 59.4L145.0 52.4M145.0 52.4L145.4 61.2M112.8 61.2L113.2 52.4M113.2 52.4L129.1 59.4M97.4 66.6L97.8 57.1M97.8 57.1L112.8 61.2M83.5 75.4L83.7 64.6M83.7 64.6L97.4 66.6M71.3 74.8L71.9 87.0M71.3 74.8L83.5 75.4M61.1 87.2L63.2 100.8M61.1 87.2L71.9 87.0M53.6 101.3L57.8 116.3M53.6 101.3L63.2 100.8M55.9 132.6L65.2 132.6M48.9 116.6L55.9 132.6M48.9 116.6L57.8 116.3M48.9 148.6L57.8 148.9M48.9 148.6L55.9 132.6M53.6 163.9L63.2 164.4M53.6 163.9L57.8 148.9M61.1 178.0L71.9 178.2M61.1 178.0L63.2 164.4M83.5 189.8L83.9 177.8M71.3 190.4L83.5 189.8M71.3 190.4L71.9 178.2M83.7 200.6L97.4 198.6M83.5 189.8L83.7 200.6M83.5 189.8L97.1 188.0M97.8 208.1L112.8 204.0M97.4 198.6L97.8 208.1M129.1 196.6L129.1 205.8M113.2 212.8L129.1 205.8M112.8 204.0L113.2 212.8M145.0 212.8L145.4 204.0M129.1 205.8L145.0 212.8M160.4 208.1L160.8 198.6M145.4 204.0L160.4 208.1M174.5 200.6L174.7 189.8M160.8 198.6L174.5 200.6M186.3 178.2L186.9 190.4M174.7 189.8L186.9 190.4M195.0 164.4L197.1 178.0M186.3 178.2L197.1 178.0M200.4 148.9L204.6 163.9M195.0 164.4L204.6 163.9M202.3 132.6L209.3 148.6M200.4 148.9L209.3 148.6M209.3 116.6L217.7 123.9M210.8 132.6L217.7 123.9M202.3 132.6L210.8 132.6M204.6 101.3L214.3 106.7M209.3 116.6L214.3 106.7M197.1 87.2L207.6 90.6M204.6 101.3L207.6 90.6M186.9 74.8L197.9 76.1M197.1 87.2L197.9 76.1M174.5 64.6L185.6 63.7M185.6 63.7L186.9 74.8M160.4 57.1L171.1 54.0M171.1 54.0L174.5 64.6M145.0 52.4L155.0 47.3M155.0 47.3L160.4 57.1M129.1 50.8L129.1 59.4M129.1 50.8L137.8 43.9M137.8 43.9L145.0 52.4M113.2 52.4L120.4 43.9M120.4 43.9L129.1 50.8M97.8 57.1L103.2 47.3M103.2 47.3L113.2 52.4M83.7 64.6L87.1 54.0M87.1 54.0L97.8 57.1M71.3 74.8L72.6 63.7M72.6 63.7L83.7 64.6M60.3 76.1L61.1 87.2M60.3 76.1L71.3 74.8M50.6 90.6L53.6 101.3M50.6 90.6L61.1 87.2M43.9 106.7L48.9 116.6M43.9 106.7L53.6 101.3M47.4 132.6L55.9 132.6M40.5 123.9L47.4 132.6M40.5 123.9L48.9 116.6M40.5 141.3L48.9 148.6M40.5 141.3L47.4 132.6M43.9 158.5L53.6 163.9M43.9 158.5L48.9 148.6M50.6 174.6L61.1 178.0M50.6 174.6L53.6 163.9M60.3 189.1L71.3 190.4M60.3 189.1L61.1 178.0M72.6 201.5L83.7 200.6M71.3 190.4L72.6 201.5M87.1 211.2L97.8 208.1M83.7 200.6L87.1 211.2M103.2 217.9L113.2 212.8M97.8 208.1L103.2 217.9M129.1 205.8L129.1 214.4M120.4 221.3L129.1 214.4M113.2 212.8L120.4 221.3M137.8 221.3L145.0 212.8M129.1 214.4L137.8 221.3M155.0 217.9L160.4 208.1M145.0 212.8L155.0 217.9M171.1 211.2L174.5 200.6M160.4 208.1L171.1 211.2M185.6 201.5L186.9 190.4M174.5 200.6L185.6 201.5M197.1 178.0L197.9 189.1M186.9 190.4L197.9 189.1M204.6 163.9L207.6 174.6M197.1 178.0L207.6 174.6M209.3 148.6L214.3 158.5M204.6 163.9L214.3 158.5M210.8 132.6L217.7 141.3M209.3 148.6L217.7 141.3M214.3 106.7L222.2 114.1M217.7 123.9L222.2 114.1M207.6 90.6L216.8 96.2M214.3 106.7L216.8 96.2M197.9 76.1L208.1 79.8M207.6 90.6L208.1 79.8M185.6 63.7L196.2 65.4M196.2 65.4L197.9 76.1M171.1 54.0L181.9 53.6M181.9 53.6L185.6 63.7M155.0 47.3L165.4 44.8M165.4 44.8L171.1 54.0M137.8 43.9L147.6 39.4M147.6 39.4L155.0 47.3M120.4 43.9L129.1 37.6M129.1 37.6L137.8 43.9M103.2 47.3L110.6 39.4M110.6 39.4L120.4 43.9M87.1 54.0L92.8 44.8M92.8 44.8L103.2 47.3M72.6 63.7L76.3 53.6M76.3 53.6L87.1 54.0M60.3 76.1L62.0 65.4M62.0 65.4L72.6 63.7M50.1 79.8L50.6 90.6M50.1 79.8L60.3 76.1M41.4 96.2L43.9 106.7M41.4 96.2L50.6 90.6M36.0 114.1L40.5 123.9M36.0 114.1L43.9 106.7M34.1 132.6L40.5 141.3M34.1 132.6L40.5 123.9M36.0 151.1L43.9 158.5M36.0 151.1L40.5 141.3M41.4 169.0L50.6 174.6M41.4 169.0L43.9 158.5M50.1 185.4L60.3 189.1M50.1 185.4L50.6 174.6M62.0 199.8L72.6 201.5M60.3 189.1L62.0 199.8M76.3 211.6L87.1 211.2M72.6 201.5L76.3 211.6M92.8 220.4L103.2 217.9M87.1 211.2L92.8 220.4M110.6 225.8L120.4 221.3M103.2 217.9L110.6 225.8M129.1 227.6L137.8 221.3M120.4 221.3L129.1 227.6M147.6 225.8L155.0 217.9M137.8 221.3L147.6 225.8M165.4 220.4L171.1 211.2M155.0 217.9L165.4 220.4M181.9 211.6L185.6 201.5M171.1 211.2L181.9 211.6M196.2 199.8L197.9 189.1M185.6 201.5L196.2 199.8M207.6 174.6L208.1 185.4M197.9 189.1L208.1 185.4M214.3 158.5L216.8 169.0M207.6 174.6L216.8 169.0M217.7 141.3L222.2 151.1M214.3 158.5L222.2 151.1M217.7 123.9L224.1 132.6M217.7 141.3L224.1 132.6M222.2 114.1L228.3 122.8M224.1 132.6L228.3 122.8M216.8 96.2L224.5 103.7M222.2 114.1L224.5 103.7M208.1 79.8L217.0 85.6M216.8 96.2L217.0 85.6M196.2 65.4L206.2 69.3M206.2 69.3L208.1 79.8M181.9 53.6L192.3 55.5M192.3 55.5L196.2 65.4M165.4 44.8L176.1 44.7M176.1 44.7L181.9 53.6M147.6 39.4L158.0 37.2M158.0 37.2L165.4 44.8M129.1 37.6L138.9 33.4M138.9 33.4L147.6 39.4M110.6 39.4L119.3 33.4M119.3 33.4L129.1 37.6M92.8 44.8L100.2 37.2M100.2 37.2L110.6 39.4M76.3 53.6L82.1 44.7M82.1 44.7L92.8 44.8M62.0 65.4L65.9 55.5M65.9 55.5L76.3 53.6M50.1 79.8L52.0 69.3M52.0 69.3L62.0 65.4M41.2 85.6L41.4 96.2M41.2 85.6L50.1 79.8M33.7 103.7L36.0 114.1M33.7 103.7L41.4 96.2M29.9 122.8L34.1 132.6M29.9 122.8L36.0 114.1M29.9 142.4L36.0 151.1M29.9 142.4L34.1 132.6M33.7 161.5L41.4 169.0M33.7 161.5L36.0 151.1M41.2 179.6L50.1 185.4M41.2 179.6L41.4 169.0M52.0 195.9L62.0 199.8M50.1 185.4L52.0 195.9M65.9 209.7L76.3 211.6M62.0 199.8L65.9 209.7M82.1 220.5L92.8 220.4M76.3 211.6L82.1 220.5M100.2 228.0L110.6 225.8M92.8 220.4L100.2 228.0M119.3 231.8L129.1 227.6M110.6 225.8L119.3 231.8M138.9 231.8L147.6 225.8M129.1 227.6L138.9 231.8M158.0 228.0L165.4 220.4M147.6 225.8L158.0 228.0M176.1 220.5L181.9 211.6M165.4 220.4L176.1 220.5M192.3 209.7L196.2 199.8M181.9 211.6L192.3 209.7M206.2 195.9L208.1 185.4M196.2 199.8L206.2 195.9M216.8 169.0L217.0 179.6M208.1 185.4L217.0 179.6M222.2 151.1L224.5 161.5M216.8 169.0L224.5 161.5M224.1 132.6L228.3 142.4M222.2 151.1L228.3 142.4M224.5 103.7L230.5 112.4M228.3 122.8L230.5 112.4M217.0 85.6L224.6 93.0M224.5 103.7L224.6 93.0M206.2 69.3L215.1 75.1M215.1 75.1L217.0 85.6M192.3 55.5L202.2 59.5M202.2 59.5L206.2 69.3M176.1 44.7L186.5 46.6M186.5 46.6L192.3 55.5M158.0 37.2L168.7 37.0M168.7 37.0L176.1 44.7M138.9 33.4L149.3 31.2M149.3 31.2L158.0 37.2M119.3 33.4L129.1 29.2M129.1 29.2L138.9 33.4M100.2 37.2L108.9 31.2M108.9 31.2L119.3 33.4M82.1 44.7L89.5 37.0M89.5 37.0L100.2 37.2M65.9 55.5L71.7 46.6M71.7 46.6L82.1 44.7M52.0 69.3L56.0 59.5M56.0 59.5L65.9 55.5M41.2 85.6L43.1 75.1M43.1 75.1L52.0 69.3M33.6 93.0L33.7 103.7M33.6 93.0L41.2 85.6M27.7 112.4L29.9 122.8M27.7 112.4L33.7 103.7M25.7 132.6L29.9 142.4M25.7 132.6L29.9 122.8M27.7 152.8L33.7 161.5M27.7 152.8L29.9 142.4M33.6 172.2L41.2 179.6M33.6 172.2L33.7 161.5M43.1 190.1L52.0 195.9M41.2 179.6L43.1 190.1M56.0 205.7L65.9 209.7M52.0 195.9L56.0 205.7M71.7 218.6L82.1 220.5M65.9 209.7L71.7 218.6M89.5 228.2L100.2 228.0M82.1 220.5L89.5 228.2M108.9 234.0L119.3 231.8M100.2 228.0L108.9 234.0M129.1 236.0L138.9 231.8M119.3 231.8L129.1 236.0M149.3 234.0L158.0 228.0M138.9 231.8L149.3 234.0M168.7 228.2L176.1 220.5M158.0 228.0L168.7 228.2M186.5 218.6L192.3 209.7M176.1 220.5L186.5 218.6M202.2 205.7L206.2 195.9M192.3 209.7L202.2 205.7M215.1 190.1L217.0 179.6M206.2 195.9L215.1 190.1M224.5 161.5L224.6 172.2M217.0 179.6L224.6 172.2M228.3 142.4L230.5 152.8M224.5 161.5L230.5 152.8M228.3 122.8L232.5 132.6M228.3 142.4L232.5 132.6M230.5 112.4L234.8 122.2M232.5 132.6L234.8 122.2M224.6 93.0L230.7 101.8M230.5 112.4L230.7 101.8M215.1 75.1L222.7 82.5M222.7 82.5L224.6 93.0M202.2 59.5L211.2 65.2M211.2 65.2L215.1 75.1M186.5 46.6L196.5 50.5M196.5 50.5L202.2 59.5M168.7 37.0L179.1 38.9M179.1 38.9L186.5 46.6M149.3 31.2L159.9 31.0M159.9 31.0L168.7 37.0M129.1 29.2L139.5 26.9M139.5 26.9L149.3 31.2M108.9 31.2L118.7 26.9M118.7 26.9L129.1 29.2M89.5 37.0L98.3 31.0M98.3 31.0L108.9 31.2M71.7 46.6L79.1 38.9M79.1 38.9L89.5 37.0M56.0 59.5L61.7 50.5M61.7 50.5L71.7 46.6M43.1 75.1L47.0 65.2M47.0 65.2L56.0 59.5M33.6 93.0L35.5 82.5M35.5 82.5L43.1 75.1M27.5 101.8L27.7 112.4M27.5 101.8L33.6 93.0M23.4 122.2L25.7 132.6M23.4 122.2L27.7 112.4M23.4 143.0L27.7 152.8M23.4 143.0L25.7 132.6M27.5 163.4L33.6 172.2M27.5 163.4L27.7 152.8M35.5 182.7L43.1 190.1M33.6 172.2L35.5 182.7M47.0 200.0L56.0 205.7M43.1 190.1L47.0 200.0M61.7 214.7L71.7 218.6M56.0 205.7L61.7 214.7M79.1 226.3L89.5 228.2M71.7 218.6L79.1 226.3M98.3 234.2L108.9 234.0M89.5 228.2L98.3 234.2M118.7 238.3L129.1 236.0M108.9 234.0L118.7 238.3M139.5 238.3L149.3 234.0M129.1 236.0L139.5 238.3M159.9 234.2L168.7 228.2M149.3 234.0L159.9 234.2M179.1 226.3L186.5 218.6M168.7 228.2L179.1 226.3M196.5 214.7L202.2 205.7M186.5 218.6L196.5 214.7M211.2 200.0L215.1 190.1M202.2 205.7L211.2 200.0M222.7 182.7L224.6 172.2M215.1 190.1L222.7 182.7M230.5 152.8L230.7 163.4M224.6 172.2L230.7 163.4M232.5 132.6L234.8 143.0M230.5 152.8L234.8 143.0M230.7 101.8L235.1 111.5M234.8 122.2L235.1 111.5M222.7 82.5L229.0 91.2M229.0 91.2L230.7 101.8M211.2 65.2L219.0 72.5M219.0 72.5L222.7 82.5M196.5 50.5L205.5 56.1M205.5 56.1L211.2 65.2M179.1 38.9L189.2 42.7M189.2 42.7L196.5 50.5M159.9 31.0L170.5 32.7M170.5 32.7L179.1 38.9M139.5 26.9L150.2 26.5M150.2 26.5L159.9 31.0M118.7 26.9L129.1 24.4M129.1 24.4L139.5 26.9M98.3 31.0L108.0 26.5M108.0 26.5L118.7 26.9M79.1 38.9L87.7 32.7M87.7 32.7L98.3 31.0M61.7 50.5L69.0 42.7M69.0 42.7L79.1 38.9M47.0 65.2L52.7 56.1M52.7 56.1L61.7 50.5M35.5 82.5L39.2 72.5M39.2 72.5L47.0 65.2M27.5 101.8L29.2 91.2M29.2 91.2L35.5 82.5M23.1 111.5L23.4 122.2M23.1 111.5L27.5 101.8M21.0 132.6L23.4 143.0M21.0 132.6L23.4 122.2M23.1 153.7L27.5 163.4M23.1 153.7L23.4 143.0M29.2 174.0L35.5 182.7M27.5 163.4L29.2 174.0M39.2 192.7L47.0 200.0M35.5 182.7L39.2 192.7M52.7 209.1L61.7 214.7M47.0 200.0L52.7 209.1M69.0 222.5L79.1 226.3M61.7 214.7L69.0 222.5M87.7 232.5L98.3 234.2M79.1 226.3L87.7 232.5M108.0 238.7L118.7 238.3M98.3 234.2L108.0 238.7M129.1 240.8L139.5 238.3M118.7 238.3L129.1 240.8M150.2 238.7L159.9 234.2M139.5 238.3L150.2 238.7M170.5 232.5L179.1 226.3M159.9 234.2L170.5 232.5M189.2 222.5L196.5 214.7M179.1 226.3L189.2 222.5M205.5 209.1L211.2 200.0M196.5 214.7L205.5 209.1M219.0 192.7L222.7 182.7M211.2 200.0L219.0 192.7M229.0 174.0L230.7 163.4M222.7 182.7L229.0 174.0M234.8 143.0L235.1 153.7M230.7 163.4L235.1 153.7M234.8 122.2L237.2 132.6M234.8 143.0L237.2 132.6" fill="none" stroke="rgba(255,255,255,0.25)" stroke-width="0.5" stroke-dasharray="1.8 1.6"/>
<g stroke-width="0.35" stroke-linejoin="round">
<polygon points="383.60,132.60 383.60,121.42 399.34,116.85 394.78,132.60" fill="#0000ff" stroke="#0000ff"/>
<polygon points="383.60,132.60 372.42,132.60 367.86,116.85 383.60,121.42" fill="#0000ff" stroke="#0000ff"/>
<polygon points="383.60,132.60 383.60,143.78 367.86,148.35 372.42,132.60" fill="#0000df" stroke="#0000df"/>
<polygon points="383.60,132.60 394.78,132.60 399.34,148.35 383.60,143.78" fill="#0000df" stroke="#0000df"/>
<polygon points="394.78,132.60 399.34,116.85 412.33,116.00 405.87,132.60" fill="#0000f6" stroke="#0000f6"/>
<polygon points="383.60,121.42 383.60,110.32 400.19,103.85 399.34,116.85" fill="#0030ff" stroke="#0030ff"/>
<polygon points="383.60,121.42 367.86,116.85 367.01,103.85 383.60,110.32" fill="#004cff" stroke="#004cff"/>
<polygon points="372.42,132.60 361.33,132.60 354.87,116.00 367.86,116.85" fill="#0000f6" stroke="#0000f6"/>
<polygon points="372.42,132.60 367.86,148.35 354.87,149.20 361.33,132.60" fill="#0000e8" stroke="#0000e8"/>
<polygon points="383.60,143.78 383.60,154.88 367.01,161.35 367.86,148.35" fill="#0018ff" stroke="#0018ff"/>
<polygon points="383.60,143.78 399.34,148.35 400.19,161.35 383.60,154.88" fill="#0018ff" stroke="#0018ff"/>
<polygon points="394.78,132.60 405.87,132.60 412.33,149.20 399.34,148.35" fill="#0000df" stroke="#0000df"/>
<polygon points="405.87,132.60 412.33,116.00 424.09,115.82 416.78,132.60" fill="#0000f6" stroke="#0000f6"/>
<polygon points="399.34,116.85 400.19,103.85 414.59,101.60 412.33,116.00" fill="#0008ff" stroke="#0008ff"/>
<polygon points="383.60,110.32 383.60,99.41 400.37,92.10 400.19,103.85" fill="#00b0ff" stroke="#00b0ff"/>
<polygon points="383.60,110.32 367.01,103.85 366.83,92.10 383.60,99.41" fill="#00ccff" stroke="#00ccff"/>
<polygon points="367.86,116.85 354.87,116.00 352.61,101.60 367.01,103.85" fill="#0030ff" stroke="#0030ff"/>
<polygon points="361.33,132.60 350.42,132.60 343.11,115.82 354.87,116.00" fill="#0000f6" stroke="#0000f6"/>
<polygon points="361.33,132.60 354.87,149.20 343.11,149.38 350.42,132.60" fill="#0000e8" stroke="#0000e8"/>
<polygon points="367.86,148.35 367.01,161.35 352.61,163.60 354.87,149.20" fill="#0030ff" stroke="#0030ff"/>
<polygon points="383.60,154.88 383.60,165.79 366.83,173.10 367.01,161.35" fill="#0064ff" stroke="#0064ff"/>
<polygon points="383.60,154.88 400.19,161.35 400.37,173.10 383.60,165.79" fill="#0064ff" stroke="#0064ff"/>
<polygon points="399.34,148.35 412.33,149.20 414.59,163.60 400.19,161.35" fill="#0030ff" stroke="#0030ff"/>
<polygon points="405.87,132.60 416.78,132.60 424.09,149.38 412.33,149.20" fill="#0000df" stroke="#0000df"/>
<polygon points="416.78,132.60 424.09,115.82 435.06,115.87 427.42,132.60" fill="#0000f6" stroke="#0000f6"/>
<polygon points="412.33,116.00 414.59,101.60 427.37,100.78 424.09,115.82" fill="#0030ff" stroke="#0030ff"/>
<polygon points="400.19,103.85 400.37,92.10 415.40,88.81 414.59,101.60" fill="#0098ff" stroke="#0098ff"/>
<polygon points="383.60,99.41 383.60,88.76 400.32,81.12 400.37,92.10" fill="#00e4f8" stroke="#00e4f8"/>
<polygon points="383.60,99.41 366.83,92.10 366.88,81.12 383.60,88.76" fill="#00ccff" stroke="#00ccff"/>
<polygon points="367.01,103.85 352.61,101.60 351.80,88.81 366.83,92.10" fill="#0064ff" stroke="#0064ff"/>
<polygon points="354.87,116.00 343.11,115.82 339.83,100.78 352.61,101.60" fill="#0030ff" stroke="#0030ff"/>
<polygon points="350.42,132.60 339.78,132.60 332.14,115.87 343.11,115.82" fill="#0000f6" stroke="#0000f6"/>
<polygon points="350.42,132.60 343.11,149.38 332.14,149.33 339.78,132.60" fill="#0000e8" stroke="#0000e8"/>
<polygon points="354.87,149.20 352.61,163.60 339.83,164.42 343.11,149.38" fill="#0030ff" stroke="#0030ff"/>
<polygon points="367.01,161.35 366.83,173.10 351.80,176.39 352.61,163.60" fill="#004cff" stroke="#004cff"/>
<polygon points="383.60,165.79 383.60,176.44 366.88,184.08 366.83,173.10" fill="#0080ff" stroke="#0080ff"/>
<polygon points="383.60,165.79 400.37,173.10 400.32,184.08 383.60,176.44" fill="#00b0ff" stroke="#00b0ff"/>
<polygon points="400.19,161.35 414.59,163.60 415.40,176.39 400.37,173.10" fill="#0064ff" stroke="#0064ff"/>
<polygon points="412.33,149.20 424.09,149.38 427.37,164.42 414.59,163.60" fill="#003cff" stroke="#003cff"/>
<polygon points="416.78,132.60 427.42,132.60 435.06,149.33 424.09,149.38" fill="#0000df" stroke="#0000df"/>
<polygon points="427.42,132.60 435.06,115.87 445.34,116.05 437.70,132.60" fill="#0000f6" stroke="#0000f6"/>
<polygon points="424.09,115.82 427.37,100.78 438.96,100.62 435.06,115.87" fill="#004cff" stroke="#004cff"/>
<polygon points="414.59,101.60 415.40,88.81 428.80,87.38 427.37,100.78" fill="#00b0ff" stroke="#00b0ff"/>
<polygon points="400.37,92.10 400.32,81.12 415.56,77.22 415.40,88.81" fill="#00b0ff" stroke="#00b0ff"/>
<polygon points="383.60,88.76 383.60,78.47 400.14,70.83 400.32,81.12" fill="#29ffce" stroke="#29ffce"/>
<polygon points="383.60,88.76 366.88,81.12 367.06,70.83 383.60,78.47" fill="#16ffe1" stroke="#16ffe1"/>
<polygon points="366.83,92.10 351.80,88.81 351.64,77.22 366.88,81.12" fill="#0064ff" stroke="#0064ff"/>
<polygon points="352.61,101.60 339.83,100.78 338.40,87.38 351.80,88.81" fill="#0080ff" stroke="#0080ff"/>
<polygon points="343.11,115.82 332.14,115.87 328.24,100.62 339.83,100.78" fill="#0054ff" stroke="#0054ff"/>
<polygon points="339.78,132.60 329.50,132.60 321.86,116.05 332.14,115.87" fill="#0000f6" stroke="#0000f6"/>
<polygon points="339.78,132.60 332.14,149.33 321.86,149.15 329.50,132.60" fill="#0000e8" stroke="#0000e8"/>
<polygon points="343.11,149.38 339.83,164.42 328.24,164.58 332.14,149.33" fill="#004cff" stroke="#004cff"/>
<polygon points="352.61,163.60 351.80,176.39 338.40,177.82 339.83,164.42" fill="#0080ff" stroke="#0080ff"/>
<polygon points="366.83,173.10 366.88,184.08 351.64,187.98 351.80,176.39" fill="#004cff" stroke="#004cff"/>
<polygon points="383.60,176.44 383.60,186.73 367.06,194.37 366.88,184.08" fill="#0018ff" stroke="#0018ff"/>
<polygon points="383.60,176.44 400.32,184.08 400.14,194.37 383.60,186.73" fill="#0018ff" stroke="#0018ff"/>
<polygon points="400.37,173.10 415.40,176.39 415.56,187.98 400.32,184.08" fill="#0098ff" stroke="#0098ff"/>
<polygon points="414.59,163.60 427.37,164.42 428.80,177.82 415.40,176.39" fill="#0064ff" stroke="#0064ff"/>
<polygon points="424.09,149.38 435.06,149.33 438.96,164.58 427.37,164.42" fill="#003cff" stroke="#003cff"/>
<polygon points="427.42,132.60 437.70,132.60 445.34,149.15 435.06,149.33" fill="#0000df" stroke="#0000df"/>
<polygon points="437.70,132.60 445.34,116.05 454.93,116.31 447.52,132.60" fill="#0000f6" stroke="#0000f6"/>
<polygon points="435.06,115.87 438.96,100.62 449.52,100.84 445.34,116.05" fill="#0000f1" stroke="#0000f1"/>
<polygon points="427.37,100.78 428.80,87.38 440.81,86.96 438.96,100.62" fill="#00ccff" stroke="#00ccff"/>
<polygon points="415.40,88.81 415.56,77.22 429.22,75.37 428.80,87.38" fill="#0030ff" stroke="#0030ff"/>
<polygon points="400.32,81.12 400.14,70.83 415.35,66.65 415.56,77.22" fill="#0cf4eb" stroke="#0cf4eb"/>
<polygon points="383.60,78.47 383.60,68.65 399.88,61.23 400.14,70.83" fill="#66ff90" stroke="#66ff90"/>
<polygon points="383.60,78.47 367.06,70.83 367.32,61.23 383.60,68.65" fill="#7dff7a" stroke="#7dff7a"/>
<polygon points="366.88,81.12 351.64,77.22 351.85,66.65 367.06,70.83" fill="#0064ff" stroke="#0064ff"/>
<polygon points="351.80,88.81 338.40,87.38 337.98,75.37 351.64,77.22" fill="#00b0ff" stroke="#00b0ff"/>
<polygon points="339.83,100.78 328.24,100.62 326.39,86.96 338.40,87.38" fill="#00b0ff" stroke="#00b0ff"/>
<polygon points="332.14,115.87 321.86,116.05 317.68,100.84 328.24,100.62" fill="#0030ff" stroke="#0030ff"/>
<polygon points="329.50,132.60 319.68,132.60 312.27,116.31 321.86,116.05" fill="#0000f6" stroke="#0000f6"/>
<polygon points="329.50,132.60 321.86,149.15 312.27,148.89 319.68,132.60" fill="#0000e8" stroke="#0000e8"/>
<polygon points="332.14,149.33 328.24,164.58 317.68,164.36 321.86,149.15" fill="#004cff" stroke="#004cff"/>
<polygon points="339.83,164.42 338.40,177.82 326.39,178.24 328.24,164.58" fill="#0000c4" stroke="#0000c4"/>
<polygon points="366.88,184.08 367.06,194.37 351.85,198.55 351.64,187.98" fill="#0000c8" stroke="#0000c8"/>
<polygon points="383.60,186.73 383.60,196.55 367.32,203.97 367.06,194.37" fill="#0000df" stroke="#0000df"/>
<polygon points="383.60,186.73 400.14,194.37 399.88,203.97 383.60,196.55" fill="#0000c4" stroke="#0000c4"/>
<polygon points="400.32,184.08 415.56,187.98 415.35,198.55 400.14,194.37" fill="#00c0ff" stroke="#00c0ff"/>
<polygon points="415.40,176.39 428.80,177.82 429.22,189.83 415.56,187.98" fill="#00b0ff" stroke="#00b0ff"/>
<polygon points="427.37,164.42 438.96,164.58 440.81,178.24 428.80,177.82" fill="#0064ff" stroke="#0064ff"/>
<polygon points="435.06,149.33 445.34,149.15 449.52,164.36 438.96,164.58" fill="#0028ff" stroke="#0028ff"/>
<polygon points="437.70,132.60 447.52,132.60 454.93,148.89 445.34,149.15" fill="#0000df" stroke="#0000df"/>
<polygon points="447.52,132.60 454.93,116.31 463.76,116.65 456.77,132.60" fill="#0000f1" stroke="#0000f1"/>
<polygon points="445.34,116.05 449.52,100.84 459.11,101.31 454.93,116.31" fill="#0030ff" stroke="#0030ff"/>
<polygon points="438.96,100.62 440.81,86.96 451.55,87.17 449.52,100.84" fill="#00b0ff" stroke="#00b0ff"/>
<polygon points="428.80,87.38 429.22,75.37 441.39,74.78 440.81,86.96" fill="#00e4f8" stroke="#00e4f8"/>
<polygon points="415.56,77.22 415.35,66.65 429.01,64.61 429.22,75.37" fill="#0cf4eb" stroke="#0cf4eb"/>
<polygon points="400.14,70.83 399.88,61.23 414.88,57.06 415.35,66.65" fill="#16ffe1" stroke="#16ffe1"/>
<polygon points="383.60,68.65 383.60,59.40 399.54,52.41 399.88,61.23" fill="#baff3c" stroke="#baff3c"/>
<polygon points="383.60,68.65 367.32,61.23 367.66,52.41 383.60,59.40" fill="#ffae00" stroke="#ffae00"/>
<polygon points="367.06,70.83 351.85,66.65 352.32,57.06 367.32,61.23" fill="#0080ff" stroke="#0080ff"/>
<polygon points="351.64,77.22 337.98,75.37 338.19,64.61 351.85,66.65" fill="#00e4f8" stroke="#00e4f8"/>
<polygon points="338.40,87.38 326.39,86.96 325.81,74.78 337.98,75.37" fill="#00dcfe" stroke="#00dcfe"/>
<polygon points="328.24,100.62 317.68,100.84 315.65,87.17 326.39,86.96" fill="#00ccff" stroke="#00ccff"/>
<polygon points="321.86,116.05 312.27,116.31 308.09,101.31 317.68,100.84" fill="#0018ff" stroke="#0018ff"/>
<polygon points="319.68,132.60 310.43,132.60 303.44,116.65 312.27,116.31" fill="#0000f6" stroke="#0000f6"/>
<polygon points="319.68,132.60 312.27,148.89 303.44,148.55 310.43,132.60" fill="#0000f6" stroke="#0000f6"/>
<polygon points="321.86,149.15 317.68,164.36 308.09,163.89 312.27,148.89" fill="#004cff" stroke="#004cff"/>
<polygon points="328.24,164.58 326.39,178.24 315.65,178.03 317.68,164.36" fill="#0098ff" stroke="#0098ff"/>
<polygon points="338.40,177.82 337.98,189.83 325.81,190.42 326.39,178.24" fill="#00b0ff" stroke="#00b0ff"/>
<polygon points="351.64,187.98 351.85,198.55 338.19,200.59 337.98,189.83" fill="#00e4f8" stroke="#00e4f8"/>
<polygon points="367.06,194.37 367.32,203.97 352.32,208.14 351.85,198.55" fill="#09f0ee" stroke="#09f0ee"/>
<polygon points="383.60,196.55 383.60,205.80 367.66,212.79 367.32,203.97" fill="#29ffce" stroke="#29ffce"/>
<polygon points="383.60,196.55 399.88,203.97 399.54,212.79 383.60,205.80" fill="#16ffe1" stroke="#16ffe1"/>
<polygon points="400.14,194.37 415.35,198.55 414.88,208.14 399.88,203.97" fill="#30ffc7" stroke="#30ffc7"/>
<polygon points="415.56,187.98 429.22,189.83 429.01,200.59 415.35,198.55" fill="#16ffe1" stroke="#16ffe1"/>
<polygon points="428.80,177.82 440.81,178.24 441.39,190.42 429.22,189.83" fill="#00b0ff" stroke="#00b0ff"/>
<polygon points="438.96,164.58 449.52,164.36 451.55,178.03 440.81,178.24" fill="#0064ff" stroke="#0064ff"/>
<polygon points="445.34,149.15 454.93,148.89 459.11,163.89 449.52,164.36" fill="#0018ff" stroke="#0018ff"/>
<polygon points="447.52,132.60 456.77,132.60 463.76,148.55 454.93,148.89" fill="#0000f1" stroke="#0000f1"/>
<polygon points="456.77,132.60 463.76,116.65 472.23,123.87 465.33,132.60" fill="#0000b6" stroke="#0000b6"/>
<polygon points="454.93,116.31 459.11,101.31 468.83,106.74 463.76,116.65" fill="#004cff" stroke="#004cff"/>
<polygon points="449.52,100.84 451.55,87.17 462.15,90.60 459.11,101.31" fill="#00b0ff" stroke="#00b0ff"/>
<polygon points="440.81,86.96 441.39,74.78 452.45,76.07 451.55,87.17" fill="#09f0ee" stroke="#09f0ee"/>
<polygon points="429.22,75.37 429.01,64.61 440.10,63.72 441.39,74.78" fill="#00e4f8" stroke="#00e4f8"/>
<polygon points="415.35,66.65 414.88,57.06 425.58,54.02 429.01,64.61" fill="#3cffba" stroke="#3cffba"/>
<polygon points="399.88,61.23 399.54,52.41 409.45,47.33 414.88,57.06" fill="#0064ff" stroke="#0064ff"/>
<polygon points="383.60,59.40 383.60,50.83 392.33,43.93 399.54,52.41" fill="#ffae00" stroke="#ffae00"/>
<polygon points="383.60,59.40 367.66,52.41 374.87,43.93 383.60,50.83" fill="#ffae00" stroke="#ffae00"/>
<polygon points="367.32,61.23 352.32,57.06 357.75,47.33 367.66,52.41" fill="#e4ff13" stroke="#e4ff13"/>
<polygon points="351.85,66.65 338.19,64.61 341.62,54.02 352.32,57.06" fill="#00ccff" stroke="#00ccff"/>
<polygon points="337.98,75.37 325.81,74.78 327.10,63.72 338.19,64.61" fill="#baff3c" stroke="#baff3c"/>
<polygon points="326.39,86.96 315.65,87.17 314.75,76.07 325.81,74.78" fill="#00e4f8" stroke="#00e4f8"/>
<polygon points="317.68,100.84 308.09,101.31 305.05,90.60 315.65,87.17" fill="#0030ff" stroke="#0030ff"/>
<polygon points="312.27,116.31 303.44,116.65 298.37,106.74 308.09,101.31" fill="#0000d6" stroke="#0000d6"/>
<polygon points="310.43,132.60 301.87,132.60 294.97,123.87 303.44,116.65" fill="#0000f1" stroke="#0000f1"/>
<polygon points="310.43,132.60 303.44,148.55 294.97,141.33 301.87,132.60" fill="#0000f1" stroke="#0000f1"/>
<polygon points="312.27,148.89 308.09,163.89 298.37,158.46 303.44,148.55" fill="#0070ff" stroke="#0070ff"/>
<polygon points="317.68,164.36 315.65,178.03 305.05,174.60 308.09,163.89" fill="#0008ff" stroke="#0008ff"/>
<polygon points="326.39,178.24 325.81,190.42 314.75,189.13 315.65,178.03" fill="#00b0ff" stroke="#00b0ff"/>
<polygon points="337.98,189.83 338.19,200.59 327.10,201.48 325.81,190.42" fill="#7dff7a" stroke="#7dff7a"/>
<polygon points="351.85,198.55 352.32,208.14 341.62,211.18 338.19,200.59" fill="#53ffa4" stroke="#53ffa4"/>
<polygon points="367.32,203.97 367.66,212.79 357.75,217.87 352.32,208.14" fill="#0030ff" stroke="#0030ff"/>
<polygon points="383.60,205.80 383.60,214.37 374.87,221.27 367.66,212.79" fill="#3cffba" stroke="#3cffba"/>
<polygon points="383.60,205.80 399.54,212.79 392.33,221.27 383.60,214.37" fill="#003cff" stroke="#003cff"/>
<polygon points="399.88,203.97 414.88,208.14 409.45,217.87 399.54,212.79" fill="#0098ff" stroke="#0098ff"/>
<polygon points="415.35,198.55 429.01,200.59 425.58,211.18 414.88,208.14" fill="#53ffa4" stroke="#53ffa4"/>
<polygon points="429.22,189.83 441.39,190.42 440.10,201.48 429.01,200.59" fill="#16ffe1" stroke="#16ffe1"/>
<polygon points="440.81,178.24 451.55,178.03 452.45,189.13 441.39,190.42" fill="#00b0ff" stroke="#00b0ff"/>
<polygon points="449.52,164.36 459.11,163.89 462.15,174.60 451.55,178.03" fill="#0080ff" stroke="#0080ff"/>
<polygon points="454.93,148.89 463.76,148.55 468.83,158.46 459.11,163.89" fill="#0000f1" stroke="#0000f1"/>
<polygon points="456.77,132.60 465.33,132.60 472.23,141.33 463.76,148.55" fill="#0000b6" stroke="#0000b6"/>
<polygon points="463.76,116.65 468.83,106.74 476.74,114.07 472.23,123.87" fill="#0000ff" stroke="#0000ff"/>
<polygon points="459.11,101.31 462.15,90.60 471.33,96.24 468.83,106.74" fill="#00b0ff" stroke="#00b0ff"/>
<polygon points="451.55,87.17 452.45,76.07 462.56,79.82 462.15,90.60" fill="#53ffa4" stroke="#53ffa4"/>
<polygon points="441.39,74.78 440.10,63.72 450.75,65.42 452.45,76.07" fill="#7dff7a" stroke="#7dff7a"/>
<polygon points="429.01,64.61 425.58,54.02 436.36,53.61 440.10,63.72" fill="#ff4e00" stroke="#ff4e00"/>
<polygon points="414.88,57.06 409.45,47.33 419.94,44.83 425.58,54.02" fill="#3cffba" stroke="#3cffba"/>
<polygon points="399.54,52.41 392.33,43.93 402.13,39.42 409.45,47.33" fill="#0080ff" stroke="#0080ff"/>
<polygon points="383.60,50.83 374.87,43.93 383.60,37.60 392.33,43.93" fill="#f8f500" stroke="#f8f500"/>
<polygon points="367.66,52.41 357.75,47.33 365.07,39.42 374.87,43.93" fill="#90ff66" stroke="#90ff66"/>
<polygon points="352.32,57.06 341.62,54.02 347.26,44.83 357.75,47.33" fill="#7dff7a" stroke="#7dff7a"/>
<polygon points="338.19,64.61 327.10,63.72 330.84,53.61 341.62,54.02" fill="#e4ff13" stroke="#e4ff13"/>
<polygon points="325.81,74.78 314.75,76.07 316.45,65.42 327.10,63.72" fill="#7dff7a" stroke="#7dff7a"/>
<polygon points="315.65,87.17 305.05,90.60 304.64,79.82 314.75,76.07" fill="#3cffba" stroke="#3cffba"/>
<polygon points="308.09,101.31 298.37,106.74 295.87,96.24 305.05,90.60" fill="#00b0ff" stroke="#00b0ff"/>
<polygon points="303.44,116.65 294.97,123.87 290.46,114.07 298.37,106.74" fill="#0000c4" stroke="#0000c4"/>
<polygon points="301.87,132.60 294.97,141.33 288.64,132.60 294.97,123.87" fill="#00009b" stroke="#00009b"/>
<polygon points="303.44,148.55 298.37,158.46 290.46,151.13 294.97,141.33" fill="#004cff" stroke="#004cff"/>
<polygon points="308.09,163.89 305.05,174.60 295.87,168.96 298.37,158.46" fill="#00d4ff" stroke="#00d4ff"/>
<polygon points="315.65,178.03 314.75,189.13 304.64,185.38 305.05,174.60" fill="#66ff90" stroke="#66ff90"/>
<polygon points="325.81,190.42 327.10,201.48 316.45,199.78 314.75,189.13" fill="#5aff9d" stroke="#5aff9d"/>
<polygon points="338.19,200.59 341.62,211.18 330.84,211.59 327.10,201.48" fill="#baff3c" stroke="#baff3c"/>
<polygon points="352.32,208.14 357.75,217.87 347.26,220.37 341.62,211.18" fill="#ffae00" stroke="#ffae00"/>
<polygon points="367.66,212.79 374.87,221.27 365.07,225.78 357.75,217.87" fill="#ffde00" stroke="#ffde00"/>
<polygon points="383.60,214.37 392.33,221.27 383.60,227.60 374.87,221.27" fill="#ffae00" stroke="#ffae00"/>
<polygon points="399.54,212.79 409.45,217.87 402.13,225.78 392.33,221.27" fill="#ffae00" stroke="#ffae00"/>
<polygon points="414.88,208.14 425.58,211.18 419.94,220.37 409.45,217.87" fill="#53ffa4" stroke="#53ffa4"/>
<polygon points="429.01,200.59 440.10,201.48 436.36,211.59 425.58,211.18" fill="#90ff66" stroke="#90ff66"/>
<polygon points="441.39,190.42 452.45,189.13 450.75,199.78 440.10,201.48" fill="#16ffe1" stroke="#16ffe1"/>
<polygon points="451.55,178.03 462.15,174.60 462.56,185.38 452.45,189.13" fill="#00b0ff" stroke="#00b0ff"/>
<polygon points="459.11,163.89 468.83,158.46 471.33,168.96 462.15,174.60" fill="#004cff" stroke="#004cff"/>
<polygon points="463.76,148.55 472.23,141.33 476.74,151.13 468.83,158.46" fill="#0000e8" stroke="#0000e8"/>
<polygon points="472.23,123.87 476.74,114.07 482.80,122.83 478.56,132.60" fill="#0000ff" stroke="#0000ff"/>
<polygon points="468.83,106.74 471.33,96.24 478.99,103.65 476.74,114.07" fill="#0030ff" stroke="#0030ff"/>
<polygon points="462.15,90.60 462.56,79.82 471.51,85.59 471.33,96.24" fill="#29ffce" stroke="#29ffce"/>
<polygon points="452.45,76.07 450.75,65.42 460.65,69.34 462.56,79.82" fill="#7dff7a" stroke="#7dff7a"/>
<polygon points="440.10,63.72 436.36,53.61 446.84,55.51 450.75,65.42" fill="#a4ff53" stroke="#a4ff53"/>
<polygon points="425.58,54.02 419.94,44.83 430.59,44.65 436.36,53.61" fill="#ff9400" stroke="#ff9400"/>
<polygon points="409.45,47.33 402.13,39.42 412.54,37.17 419.94,44.83" fill="#f8f500" stroke="#f8f500"/>
<polygon points="392.33,43.93 383.60,37.60 393.37,33.36 402.13,39.42" fill="#800000" stroke="#800000"/>
<polygon points="374.87,43.93 365.07,39.42 373.83,33.36 383.60,37.60" fill="#f10800" stroke="#f10800"/>
<polygon points="357.75,47.33 347.26,44.83 354.66,37.17 365.07,39.42" fill="#7dff7a" stroke="#7dff7a"/>
<polygon points="341.62,54.02 330.84,53.61 336.61,44.65 347.26,44.83" fill="#7dff7a" stroke="#7dff7a"/>
<polygon points="327.10,63.72 316.45,65.42 320.36,55.51 330.84,53.61" fill="#00e4f8" stroke="#00e4f8"/>
<polygon points="298.37,106.74 290.46,114.07 288.21,103.65 295.87,96.24" fill="#0098ff" stroke="#0098ff"/>
<polygon points="294.97,123.87 288.64,132.60 284.40,122.83 290.46,114.07" fill="#0000f1" stroke="#0000f1"/>
<polygon points="294.97,141.33 290.46,151.13 284.40,142.37 288.64,132.60" fill="#0000f1" stroke="#0000f1"/>
<polygon points="298.37,158.46 295.87,168.96 288.21,161.55 290.46,151.13" fill="#0098ff" stroke="#0098ff"/>
<polygon points="305.05,174.60 304.64,185.38 295.69,179.61 295.87,168.96" fill="#1fffd7" stroke="#1fffd7"/>
<polygon points="314.75,189.13 316.45,199.78 306.55,195.86 304.64,185.38" fill="#adff49" stroke="#adff49"/>
<polygon points="327.10,201.48 330.84,211.59 320.36,209.69 316.45,199.78" fill="#ff3800" stroke="#ff3800"/>
<polygon points="341.62,211.18 347.26,220.37 336.61,220.55 330.84,211.59" fill="#ff9400" stroke="#ff9400"/>
<polygon points="357.75,217.87 365.07,225.78 354.66,228.03 347.26,220.37" fill="#800000" stroke="#800000"/>
<polygon points="374.87,221.27 383.60,227.60 373.83,231.84 365.07,225.78" fill="#0018ff" stroke="#0018ff"/>
<polygon points="392.33,221.27 402.13,225.78 393.37,231.84 383.60,227.60" fill="#ff9400" stroke="#ff9400"/>
<polygon points="409.45,217.87 419.94,220.37 412.54,228.03 402.13,225.78" fill="#3cffba" stroke="#3cffba"/>
<polygon points="425.58,211.18 436.36,211.59 430.59,220.55 419.94,220.37" fill="#800000" stroke="#800000"/>
<polygon points="440.10,201.48 450.75,199.78 446.84,209.69 436.36,211.59" fill="#baff3c" stroke="#baff3c"/>
<polygon points="452.45,189.13 462.56,185.38 460.65,195.86 450.75,199.78" fill="#7dff7a" stroke="#7dff7a"/>
<polygon points="462.15,174.60 471.33,168.96 471.51,179.61 462.56,185.38" fill="#0098ff" stroke="#0098ff"/>
<polygon points="468.83,158.46 476.74,151.13 478.99,161.55 471.33,168.96" fill="#0000b6" stroke="#0000b6"/>
<polygon points="472.23,141.33 478.56,132.60 482.80,142.37 476.74,151.13" fill="#0000f1" stroke="#0000f1"/>
<polygon points="476.74,114.07 478.99,103.65 484.99,112.42 482.80,122.83" fill="#0080ff" stroke="#0080ff"/>
<polygon points="471.33,96.24 471.51,85.59 479.11,93.02 478.99,103.65" fill="#00ccff" stroke="#00ccff"/>
<polygon points="462.56,79.82 460.65,69.34 469.56,75.14 471.51,85.59" fill="#ff3800" stroke="#ff3800"/>
<polygon points="450.75,65.42 446.84,55.51 456.70,59.47 460.65,69.34" fill="#ff1e00" stroke="#ff1e00"/>
<polygon points="436.36,53.61 430.59,44.65 441.03,46.60 446.84,55.51" fill="#d60000" stroke="#d60000"/>
<polygon points="419.94,44.83 412.54,37.17 423.16,37.05 430.59,44.65" fill="#800000" stroke="#800000"/>
<polygon points="402.13,39.42 393.37,33.36 403.77,31.16 412.54,37.17" fill="#ff1e00" stroke="#ff1e00"/>
<polygon points="383.60,37.60 373.83,33.36 383.60,29.17 393.37,33.36" fill="#ff6800" stroke="#ff6800"/>
<polygon points="365.07,39.42 354.66,37.17 363.43,31.16 373.83,33.36" fill="#800000" stroke="#800000"/>
<polygon points="347.26,44.83 336.61,44.65 344.04,37.05 354.66,37.17" fill="#800000" stroke="#800000"/>
<polygon points="330.84,53.61 320.36,55.51 326.17,46.60 336.61,44.65" fill="#ff6800" stroke="#ff6800"/>
<polygon points="316.45,65.42 306.55,69.34 310.50,59.47 320.36,55.51" fill="#baff3c" stroke="#baff3c"/>
<polygon points="304.64,79.82 295.69,85.59 297.64,75.14 306.55,69.34" fill="#ffae00" stroke="#ffae00"/>
<polygon points="295.87,96.24 288.21,103.65 288.09,93.02 295.69,85.59" fill="#0018ff" stroke="#0018ff"/>
<polygon points="290.46,114.07 284.40,122.83 282.21,112.42 288.21,103.65" fill="#0018ff" stroke="#0018ff"/>
<polygon points="288.64,132.60 284.40,142.37 280.22,132.60 284.40,122.83" fill="#0000b6" stroke="#0000b6"/>
<polygon points="290.46,151.13 288.21,161.55 282.21,152.78 284.40,142.37" fill="#00ccff" stroke="#00ccff"/>
<polygon points="304.64,185.38 306.55,195.86 297.64,190.06 295.69,179.61" fill="#00e4f8" stroke="#00e4f8"/>
<polygon points="316.45,199.78 320.36,209.69 310.50,205.73 306.55,195.86" fill="#00bcff" stroke="#00bcff"/>
<polygon points="330.84,211.59 336.61,220.55 326.17,218.60 320.36,209.69" fill="#800000" stroke="#800000"/>
<polygon points="347.26,220.37 354.66,228.03 344.04,228.15 336.61,220.55" fill="#800000" stroke="#800000"/>
<polygon points="365.07,225.78 373.83,231.84 363.43,234.04 354.66,228.03" fill="#800000" stroke="#800000"/>
<polygon points="383.60,227.60 393.37,231.84 383.60,236.03 373.83,231.84" fill="#800000" stroke="#800000"/>
<polygon points="402.13,225.78 412.54,228.03 403.77,234.04 393.37,231.84" fill="#ff1300" stroke="#ff1300"/>
<polygon points="419.94,220.37 430.59,220.55 423.16,228.15 412.54,228.03" fill="#ffc400" stroke="#ffc400"/>
<polygon points="436.36,211.59 446.84,209.69 441.03,218.60 430.59,220.55" fill="#f8f500" stroke="#f8f500"/>
<polygon points="450.75,199.78 460.65,195.86 456.70,205.73 446.84,209.69" fill="#ffd300" stroke="#ffd300"/>
<polygon points="462.56,185.38 471.51,179.61 469.56,190.06 460.65,195.86" fill="#53ffa4" stroke="#53ffa4"/>
<polygon points="471.33,168.96 478.99,161.55 479.11,172.18 471.51,179.61" fill="#0098ff" stroke="#0098ff"/>
<polygon points="476.74,151.13 482.80,142.37 484.99,152.78 478.99,161.55" fill="#0018ff" stroke="#0018ff"/>
<polygon points="478.56,132.60 482.80,122.83 486.98,132.60 482.80,142.37" fill="#0000f1" stroke="#0000f1"/>
<polygon points="482.80,122.83 484.99,112.42 489.26,122.19 486.98,132.60" fill="#0030ff" stroke="#0030ff"/>
<polygon points="478.99,103.65 479.11,93.02 485.20,101.77 484.99,112.42" fill="#0098ff" stroke="#0098ff"/>
<polygon points="471.51,85.59 469.56,75.14 477.23,82.53 479.11,93.02" fill="#baff3c" stroke="#baff3c"/>
<polygon points="460.65,69.34 456.70,59.47 465.67,65.22 469.56,75.14" fill="#ffae00" stroke="#ffae00"/>
<polygon points="446.84,55.51 441.03,46.60 450.95,50.49 456.70,59.47" fill="#800000" stroke="#800000"/>
<polygon points="430.59,44.65 423.16,37.05 433.65,38.93 441.03,46.60" fill="#800000" stroke="#800000"/>
<polygon points="412.54,37.17 403.77,31.16 414.42,30.96 423.16,37.05" fill="#ff3800" stroke="#ff3800"/>
<polygon points="393.37,33.36 383.60,29.17 394.01,26.89 403.77,31.16" fill="#ff3800" stroke="#ff3800"/>
<polygon points="373.83,33.36 363.43,31.16 373.19,26.89 383.60,29.17" fill="#800000" stroke="#800000"/>
<polygon points="354.66,37.17 344.04,37.05 352.78,30.96 363.43,31.16" fill="#800000" stroke="#800000"/>
<polygon points="336.61,44.65 326.17,46.60 333.55,38.93 344.04,37.05" fill="#00dcfe" stroke="#00dcfe"/>
<polygon points="306.55,69.34 297.64,75.14 301.53,65.22 310.50,59.47" fill="#0000ff" stroke="#0000ff"/>
<polygon points="295.69,85.59 288.09,93.02 289.97,82.53 297.64,75.14" fill="#0000f1" stroke="#0000f1"/>
<polygon points="288.21,103.65 282.21,112.42 282.00,101.77 288.09,93.02" fill="#0030ff" stroke="#0030ff"/>
<polygon points="284.40,122.83 280.22,132.60 277.94,122.19 282.21,112.42" fill="#0018ff" stroke="#0018ff"/>
<polygon points="284.40,142.37 282.21,152.78 277.94,143.01 280.22,132.60" fill="#0018ff" stroke="#0018ff"/>
<polygon points="288.21,161.55 288.09,172.18 282.00,163.43 282.21,152.78" fill="#53ffa4" stroke="#53ffa4"/>
<polygon points="295.69,179.61 297.64,190.06 289.97,182.67 288.09,172.18" fill="#baff3c" stroke="#baff3c"/>
<polygon points="306.55,195.86 310.50,205.73 301.53,199.98 297.64,190.06" fill="#f8f500" stroke="#f8f500"/>
<polygon points="320.36,209.69 326.17,218.60 316.25,214.71 310.50,205.73" fill="#f10800" stroke="#f10800"/>
<polygon points="336.61,220.55 344.04,228.15 333.55,226.27 326.17,218.60" fill="#800000" stroke="#800000"/>
<polygon points="354.66,228.03 363.43,234.04 352.78,234.24 344.04,228.15" fill="#800000" stroke="#800000"/>
<polygon points="373.83,231.84 383.60,236.03 373.19,238.31 363.43,234.04" fill="#f8f500" stroke="#f8f500"/>
<polygon points="393.37,231.84 403.77,234.04 394.01,238.31 383.60,236.03" fill="#800000" stroke="#800000"/>
<polygon points="412.54,228.03 423.16,228.15 414.42,234.24 403.77,234.04" fill="#ff4e00" stroke="#ff4e00"/>
<polygon points="430.59,220.55 441.03,218.60 433.65,226.27 423.16,228.15" fill="#f10800" stroke="#f10800"/>
<polygon points="446.84,209.69 456.70,205.73 450.95,214.71 441.03,218.60" fill="#ffc400" stroke="#ffc400"/>
<polygon points="460.65,195.86 469.56,190.06 465.67,199.98 456.70,205.73" fill="#f8f500" stroke="#f8f500"/>
<polygon points="471.51,179.61 479.11,172.18 477.23,182.67 469.56,190.06" fill="#3cffba" stroke="#3cffba"/>
<polygon points="478.99,161.55 484.99,152.78 485.20,163.43 479.11,172.18" fill="#00b0ff" stroke="#00b0ff"/>
<polygon points="482.80,142.37 486.98,132.60 489.26,143.01 484.99,152.78" fill="#0000ff" stroke="#0000ff"/>
<polygon points="484.99,112.42 485.20,101.77 489.64,111.50 489.26,122.19" fill="#00e4f8" stroke="#00e4f8"/>
<polygon points="479.11,93.02 477.23,82.53 483.49,91.21 485.20,101.77" fill="#00b0ff" stroke="#00b0ff"/>
<polygon points="469.56,75.14 465.67,65.22 473.50,72.51 477.23,82.53" fill="#f8f500" stroke="#f8f500"/>
<polygon points="456.70,59.47 450.95,50.49 460.05,56.12 465.67,65.22" fill="#800000" stroke="#800000"/>
<polygon points="441.03,46.60 433.65,38.93 443.67,42.66 450.95,50.49" fill="#800000" stroke="#800000"/>
<polygon points="423.16,37.05 414.42,30.96 424.97,32.67 433.65,38.93" fill="#800000" stroke="#800000"/>
<polygon points="403.77,31.16 394.01,26.89 404.69,26.51 414.42,30.96" fill="#800000" stroke="#800000"/>
<polygon points="383.60,29.17 373.19,26.89 383.60,24.43 394.01,26.89" fill="#800000" stroke="#800000"/>
<polygon points="363.43,31.16 352.78,30.96 362.51,26.51 373.19,26.89" fill="#800000" stroke="#800000"/>
<polygon points="344.04,37.05 333.55,38.93 342.23,32.67 352.78,30.96" fill="#ff9400" stroke="#ff9400"/>
<polygon points="326.17,46.60 316.25,50.49 323.53,42.66 333.55,38.93" fill="#ffae00" stroke="#ffae00"/>
<polygon points="310.50,59.47 301.53,65.22 307.15,56.12 316.25,50.49" fill="#baff3c" stroke="#baff3c"/>
<polygon points="297.64,75.14 289.97,82.53 293.70,72.51 301.53,65.22" fill="#7dff7a" stroke="#7dff7a"/>
<polygon points="288.09,93.02 282.00,101.77 283.71,91.21 289.97,82.53" fill="#53ffa4" stroke="#53ffa4"/>
<polygon points="282.21,112.42 277.94,122.19 277.56,111.50 282.00,101.77" fill="#004cff" stroke="#004cff"/>
<polygon points="280.22,132.60 277.94,143.01 275.48,132.60 277.94,122.19" fill="#0000b6" stroke="#0000b6"/>
<polygon points="282.21,152.78 282.00,163.43 277.56,153.70 277.94,143.01" fill="#0080ff" stroke="#0080ff"/>
<polygon points="288.09,172.18 289.97,182.67 283.71,173.99 282.00,163.43" fill="#7dff7a" stroke="#7dff7a"/>
<polygon points="297.64,190.06 301.53,199.98 293.70,192.69 289.97,182.67" fill="#800000" stroke="#800000"/>
<polygon points="310.50,205.73 316.25,214.71 307.15,209.08 301.53,199.98" fill="#800000" stroke="#800000"/>
<polygon points="326.17,218.60 333.55,226.27 323.53,222.54 316.25,214.71" fill="#800000" stroke="#800000"/>
<polygon points="344.04,228.15 352.78,234.24 342.23,232.53 333.55,226.27" fill="#800000" stroke="#800000"/>
<polygon points="363.43,234.04 373.19,238.31 362.51,238.69 352.78,234.24" fill="#800000" stroke="#800000"/>
<polygon points="383.60,236.03 394.01,238.31 383.60,240.77 373.19,238.31" fill="#800000" stroke="#800000"/>
<polygon points="403.77,234.04 414.42,234.24 404.69,238.69 394.01,238.31" fill="#800000" stroke="#800000"/>
<polygon points="423.16,228.15 433.65,226.27 424.97,232.53 414.42,234.24" fill="#800000" stroke="#800000"/>
<polygon points="441.03,218.60 450.95,214.71 443.67,222.54 433.65,226.27" fill="#800000" stroke="#800000"/>
<polygon points="456.70,205.73 465.67,199.98 460.05,209.08 450.95,214.71" fill="#ff9400" stroke="#ff9400"/>
<polygon points="469.56,190.06 477.23,182.67 473.50,192.69 465.67,199.98" fill="#a4ff53" stroke="#a4ff53"/>
<polygon points="479.11,172.18 485.20,163.43 483.49,173.99 477.23,182.67" fill="#00b0ff" stroke="#00b0ff"/>
<polygon points="484.99,152.78 489.26,143.01 489.64,153.70 485.20,163.43" fill="#00e4f8" stroke="#00e4f8"/>
<polygon points="486.98,132.60 489.26,122.19 491.72,132.60 489.26,143.01" fill="#0000d6" stroke="#0000d6"/>
</g>
<path d="M383.6 121.4L383.6 132.6M383.6 121.4L399.3 116.8M394.8 132.6L399.3 116.8M383.6 132.6L394.8 132.6M372.4 132.6L383.6 132.6M367.9 116.8L372.4 132.6M367.9 116.8L383.6 121.4M383.6 132.6L383.6 143.8M367.9 148.4L383.6 143.8M367.9 148.4L372.4 132.6M394.8 132.6L399.3 148.4M383.6 143.8L399.3 148.4M399.3 116.8L412.3 116.0M405.9 132.6L412.3 116.0M394.8 132.6L405.9 132.6M383.6 110.3L383.6 121.4M383.6 110.3L400.2 103.9M399.3 116.8L400.2 103.9M367.0 103.9L367.9 116.8M367.0 103.9L383.6 110.3M361.3 132.6L372.4 132.6M354.9 116.0L361.3 132.6M354.9 116.0L367.9 116.8M354.9 149.2L367.9 148.4M354.9 149.2L361.3 132.6M383.6 143.8L383.6 154.9M367.0 161.3L383.6 154.9M367.0 161.3L367.9 148.4M399.3 148.4L400.2 161.3M383.6 154.9L400.2 161.3M405.9 132.6L412.3 149.2M399.3 148.4L412.3 149.2M412.3 116.0L424.1 115.8M416.8 132.6L424.1 115.8M405.9 132.6L416.8 132.6M400.2 103.9L414.6 101.6M412.3 116.0L414.6 101.6M383.6 99.4L383.6 110.3M383.6 99.4L400.4 92.1M400.2 103.9L400.4 92.1M366.8 92.1L367.0 103.9M366.8 92.1L383.6 99.4M352.6 101.6L354.9 116.0M352.6 101.6L367.0 103.9M350.4 132.6L361.3 132.6M343.1 115.8L350.4 132.6M343.1 115.8L354.9 116.0M343.1 149.4L354.9 149.2M343.1 149.4L350.4 132.6M352.6 163.6L367.0 161.3M352.6 163.6L354.9 149.2M383.6 154.9L383.6 165.8M366.8 173.1L383.6 165.8M366.8 173.1L367.0 161.3M400.2 161.3L400.4 173.1M383.6 165.8L400.4 173.1M412.3 149.2L414.6 163.6M400.2 161.3L414.6 163.6M416.8 132.6L424.1 149.4M412.3 149.2L424.1 149.4M424.1 115.8L435.1 115.9M427.4 132.6L435.1 115.9M416.8 132.6L427.4 132.6M414.6 101.6L427.4 100.8M424.1 115.8L427.4 100.8M400.4 92.1L415.4 88.8M414.6 101.6L415.4 88.8M383.6 88.8L383.6 99.4M383.6 88.8L400.3 81.1M400.3 81.1L400.4 92.1M366.8 92.1L366.9 81.1M366.9 81.1L383.6 88.8M351.8 88.8L352.6 101.6M351.8 88.8L366.8 92.1M339.8 100.8L343.1 115.8M339.8 100.8L352.6 101.6M339.8 132.6L350.4 132.6M332.1 115.9L339.8 132.6M332.1 115.9L343.1 115.8M332.1 149.3L343.1 149.4M332.1 149.3L339.8 132.6M339.8 164.4L352.6 163.6M339.8 164.4L343.1 149.4M351.8 176.4L366.8 173.1M351.8 176.4L352.6 163.6M383.6 165.8L383.6 176.4M366.9 184.1L383.6 176.4M366.8 173.1L366.9 184.1M400.3 184.1L400.4 173.1M383.6 176.4L400.3 184.1M414.6 163.6L415.4 176.4M400.4 173.1L415.4 176.4M424.1 149.4L427.4 164.4M414.6 163.6L427.4 164.4M427.4 132.6L435.1 149.3M424.1 149.4L435.1 149.3M435.1 115.9L445.3 116.0M437.7 132.6L445.3 116.0M427.4 132.6L437.7 132.6M427.4 100.8L439.0 100.6M435.1 115.9L439.0 100.6M415.4 88.8L428.8 87.4M427.4 100.8L428.8 87.4M400.3 81.1L415.6 77.2M415.4 88.8L415.6 77.2M383.6 78.5L383.6 88.8M383.6 78.5L400.1 70.8M400.1 70.8L400.3 81.1M366.9 81.1L367.1 70.8M367.1 70.8L383.6 78.5M351.6 77.2L351.8 88.8M351.6 77.2L366.9 81.1M338.4 87.4L339.8 100.8M338.4 87.4L351.8 88.8M328.2 100.6L332.1 115.9M328.2 100.6L339.8 100.8M329.5 132.6L339.8 132.6M321.9 116.0L329.5 132.6M321.9 116.0L332.1 115.9M321.9 149.2L332.1 149.3M321.9 149.2L329.5 132.6M328.2 164.6L339.8 164.4M328.2 164.6L332.1 149.3M338.4 177.8L351.8 176.4M338.4 177.8L339.8 164.4M351.6 188.0L366.9 184.1M351.6 188.0L351.8 176.4M383.6 176.4L383.6 186.7M367.1 194.4L383.6 186.7M366.9 184.1L367.1 194.4M400.1 194.4L400.3 184.1M383.6 186.7L400.1 194.4M415.4 176.4L415.6 188.0M400.3 184.1L415.6 188.0M427.4 164.4L428.8 177.8M415.4 176.4L428.8 177.8M435.1 149.3L439.0 164.6M427.4 164.4L439.0 164.6M437.7 132.6L445.3 149.2M435.1 149.3L445.3 149.2M445.3 116.0L454.9 116.3M447.5 132.6L454.9 116.3M437.7 132.6L447.5 132.6M439.0 100.6L449.5 100.8M445.3 116.0L449.5 100.8M428.8 87.4L440.8 87.0M439.0 100.6L440.8 87.0M415.6 77.2L429.2 75.4M428.8 87.4L429.2 75.4M400.1 70.8L415.3 66.6M415.3 66.6L415.6 77.2M383.6 68.6L383.6 78.5M383.6 68.6L399.9 61.2M399.9 61.2L400.1 70.8M367.1 70.8L367.3 61.2M367.3 61.2L383.6 68.6M351.6 77.2L351.9 66.6M351.9 66.6L367.1 70.8M338.0 75.4L338.4 87.4M338.0 75.4L351.6 77.2M326.4 87.0L328.2 100.6M326.4 87.0L338.4 87.4M317.7 100.8L321.9 116.0M317.7 100.8L328.2 100.6M319.7 132.6L329.5 132.6M312.3 116.3L319.7 132.6M312.3 116.3L321.9 116.0M312.3 148.9L321.9 149.2M312.3 148.9L319.7 132.6M317.7 164.4L328.2 164.6M317.7 164.4L321.9 149.2M326.4 178.2L338.4 177.8M326.4 178.2L328.2 164.6M351.9 198.6L367.1 194.4M351.6 188.0L351.9 198.6M383.6 186.7L383.6 196.6M367.3 204.0L383.6 196.6M367.1 194.4L367.3 204.0M399.9 204.0L400.1 194.4M383.6 196.6L399.9 204.0M415.3 198.6L415.6 188.0M400.1 194.4L415.3 198.6M428.8 177.8L429.2 189.8M415.6 188.0L429.2 189.8M439.0 164.6L440.8 178.2M428.8 177.8L440.8 178.2M445.3 149.2L449.5 164.4M439.0 164.6L449.5 164.4M447.5 132.6L454.9 148.9M445.3 149.2L454.9 148.9M454.9 116.3L463.8 116.6M456.8 132.6L463.8 116.6M447.5 132.6L456.8 132.6M449.5 100.8L459.1 101.3M454.9 116.3L459.1 101.3M440.8 87.0L451.6 87.2M449.5 100.8L451.6 87.2M429.2 75.4L441.4 74.8M440.8 87.0L441.4 74.8M415.3 66.6L429.0 64.6M429.0 64.6L429.2 75.4M399.9 61.2L414.9 57.1M414.9 57.1L415.3 66.6M383.6 59.4L383.6 68.6M383.6 59.4L399.5 52.4M399.5 52.4L399.9 61.2M367.3 61.2L367.7 52.4M367.7 52.4L383.6 59.4M351.9 66.6L352.3 57.1M352.3 57.1L367.3 61.2M338.0 75.4L338.2 64.6M338.2 64.6L351.9 66.6M325.8 74.8L326.4 87.0M325.8 74.8L338.0 75.4M315.6 87.2L317.7 100.8M315.6 87.2L326.4 87.0M308.1 101.3L312.3 116.3M308.1 101.3L317.7 100.8M310.4 132.6L319.7 132.6M303.4 116.6L310.4 132.6M303.4 116.6L312.3 116.3M303.4 148.6L312.3 148.9M303.4 148.6L310.4 132.6M308.1 163.9L317.7 164.4M308.1 163.9L312.3 148.9M315.6 178.0L326.4 178.2M315.6 178.0L317.7 164.4M338.0 189.8L338.4 177.8M325.8 190.4L338.0 189.8M325.8 190.4L326.4 178.2M338.2 200.6L351.9 198.6M338.0 189.8L338.2 200.6M338.0 189.8L351.6 188.0M352.3 208.1L367.3 204.0M351.9 198.6L352.3 208.1M383.6 196.6L383.6 205.8M367.7 212.8L383.6 205.8M367.3 204.0L367.7 212.8M399.5 212.8L399.9 204.0M383.6 205.8L399.5 212.8M414.9 208.1L415.3 198.6M399.9 204.0L414.9 208.1M429.0 200.6L429.2 189.8M415.3 198.6L429.0 200.6M440.8 178.2L441.4 190.4M429.2 189.8L441.4 190.4M449.5 164.4L451.6 178.0M440.8 178.2L451.6 178.0M454.9 148.9L459.1 163.9M449.5 164.4L459.1 163.9M456.8 132.6L463.8 148.6M454.9 148.9L463.8 148.6M463.8 116.6L472.2 123.9M465.3 132.6L472.2 123.9M456.8 132.6L465.3 132.6M459.1 101.3L468.8 106.7M463.8 116.6L468.8 106.7M451.6 87.2L462.1 90.6M459.1 101.3L462.1 90.6M441.4 74.8L452.4 76.1M451.6 87.2L452.4 76.1M429.0 64.6L440.1 63.7M440.1 63.7L441.4 74.8M414.9 57.1L425.6 54.0M425.6 54.0L429.0 64.6M399.5 52.4L409.5 47.3M409.5 47.3L414.9 57.1M383.6 50.8L383.6 59.4M383.6 50.8L392.3 43.9M392.3 43.9L399.5 52.4M367.7 52.4L374.9 43.9M374.9 43.9L383.6 50.8M352.3 57.1L357.7 47.3M357.7 47.3L367.7 52.4M338.2 64.6L341.6 54.0M341.6 54.0L352.3 57.1M325.8 74.8L327.1 63.7M327.1 63.7L338.2 64.6M314.8 76.1L315.6 87.2M314.8 76.1L325.8 74.8M305.1 90.6L308.1 101.3M305.1 90.6L315.6 87.2M298.4 106.7L303.4 116.6M298.4 106.7L308.1 101.3M301.9 132.6L310.4 132.6M295.0 123.9L301.9 132.6M295.0 123.9L303.4 116.6M295.0 141.3L303.4 148.6M295.0 141.3L301.9 132.6M298.4 158.5L308.1 163.9M298.4 158.5L303.4 148.6M305.1 174.6L315.6 178.0M305.1 174.6L308.1 163.9M314.8 189.1L325.8 190.4M314.8 189.1L315.6 178.0M327.1 201.5L338.2 200.6M325.8 190.4L327.1 201.5M341.6 211.2L352.3 208.1M338.2 200.6L341.6 211.2M357.7 217.9L367.7 212.8M352.3 208.1L357.7 217.9M383.6 205.8L383.6 214.4M374.9 221.3L383.6 214.4M367.7 212.8L374.9 221.3M392.3 221.3L399.5 212.8M383.6 214.4L392.3 221.3M409.5 217.9L414.9 208.1M399.5 212.8L409.5 217.9M425.6 211.2L429.0 200.6M414.9 208.1L425.6 211.2M440.1 201.5L441.4 190.4M429.0 200.6L440.1 201.5M451.6 178.0L452.4 189.1M441.4 190.4L452.4 189.1M459.1 163.9L462.1 174.6M451.6 178.0L462.1 174.6M463.8 148.6L468.8 158.5M459.1 163.9L468.8 158.5M465.3 132.6L472.2 141.3M463.8 148.6L472.2 141.3M468.8 106.7L476.7 114.1M472.2 123.9L476.7 114.1M462.1 90.6L471.3 96.2M468.8 106.7L471.3 96.2M452.4 76.1L462.6 79.8M462.1 90.6L462.6 79.8M440.1 63.7L450.7 65.4M450.7 65.4L452.4 76.1M425.6 54.0L436.4 53.6M436.4 53.6L440.1 63.7M409.5 47.3L419.9 44.8M419.9 44.8L425.6 54.0M392.3 43.9L402.1 39.4M402.1 39.4L409.5 47.3M374.9 43.9L383.6 37.6M383.6 37.6L392.3 43.9M357.7 47.3L365.1 39.4M365.1 39.4L374.9 43.9M341.6 54.0L347.3 44.8M347.3 44.8L357.7 47.3M327.1 63.7L330.8 53.6M330.8 53.6L341.6 54.0M314.8 76.1L316.5 65.4M316.5 65.4L327.1 63.7M304.6 79.8L305.1 90.6M304.6 79.8L314.8 76.1M295.9 96.2L298.4 106.7M295.9 96.2L305.1 90.6M290.5 114.1L295.0 123.9M290.5 114.1L298.4 106.7M288.6 132.6L295.0 141.3M288.6 132.6L295.0 123.9M290.5 151.1L298.4 158.5M290.5 151.1L295.0 141.3M295.9 169.0L305.1 174.6M295.9 169.0L298.4 158.5M304.6 185.4L314.8 189.1M304.6 185.4L305.1 174.6M316.5 199.8L327.1 201.5M314.8 189.1L316.5 199.8M330.8 211.6L341.6 211.2M327.1 201.5L330.8 211.6M347.3 220.4L357.7 217.9M341.6 211.2L347.3 220.4M365.1 225.8L374.9 221.3M357.7 217.9L365.1 225.8M383.6 227.6L392.3 221.3M374.9 221.3L383.6 227.6M402.1 225.8L409.5 217.9M392.3 221.3L402.1 225.8M419.9 220.4L425.6 211.2M409.5 217.9L419.9 220.4M436.4 211.6L440.1 201.5M425.6 211.2L436.4 211.6M450.7 199.8L452.4 189.1M440.1 201.5L450.7 199.8M462.1 174.6L462.6 185.4M452.4 189.1L462.6 185.4M468.8 158.5L471.3 169.0M462.1 174.6L471.3 169.0M472.2 141.3L476.7 151.1M468.8 158.5L476.7 151.1M476.7 114.1L482.8 122.8M478.6 132.6L482.8 122.8M472.2 123.9L478.6 132.6M471.3 96.2L479.0 103.7M476.7 114.1L479.0 103.7M462.6 79.8L471.5 85.6M471.3 96.2L471.5 85.6M450.7 65.4L460.7 69.3M460.7 69.3L462.6 79.8M436.4 53.6L446.8 55.5M446.8 55.5L450.7 65.4M419.9 44.8L430.6 44.7M430.6 44.7L436.4 53.6M402.1 39.4L412.5 37.2M412.5 37.2L419.9 44.8M383.6 37.6L393.4 33.4M393.4 33.4L402.1 39.4M365.1 39.4L373.8 33.4M373.8 33.4L383.6 37.6M347.3 44.8L354.7 37.2M354.7 37.2L365.1 39.4M330.8 53.6L336.6 44.7M336.6 44.7L347.3 44.8M316.5 65.4L320.4 55.5M320.4 55.5L330.8 53.6M288.2 103.7L290.5 114.1M288.2 103.7L295.9 96.2M284.4 122.8L288.6 132.6M284.4 122.8L290.5 114.1M284.4 142.4L290.5 151.1M284.4 142.4L288.6 132.6M288.2 161.5L295.9 169.0M288.2 161.5L290.5 151.1M295.7 179.6L304.6 185.4M295.7 179.6L295.9 169.0M306.5 195.9L316.5 199.8M304.6 185.4L306.5 195.9M320.4 209.7L330.8 211.6M316.5 199.8L320.4 209.7M336.6 220.5L347.3 220.4M330.8 211.6L336.6 220.5M354.7 228.0L365.1 225.8M347.3 220.4L354.7 228.0M373.8 231.8L383.6 227.6M365.1 225.8L373.8 231.8M393.4 231.8L402.1 225.8M383.6 227.6L393.4 231.8M412.5 228.0L419.9 220.4M402.1 225.8L412.5 228.0M430.6 220.5L436.4 211.6M419.9 220.4L430.6 220.5M446.8 209.7L450.7 199.8M436.4 211.6L446.8 209.7M460.7 195.9L462.6 185.4M450.7 199.8L460.7 195.9M471.3 169.0L471.5 179.6M462.6 185.4L471.5 179.6M476.7 151.1L479.0 161.5M471.3 169.0L479.0 161.5M472.2 141.3L478.6 132.6M478.6 132.6L482.8 142.4M476.7 151.1L482.8 142.4M479.0 103.7L485.0 112.4M482.8 122.8L485.0 112.4M471.5 85.6L479.1 93.0M479.0 103.7L479.1 93.0M460.7 69.3L469.6 75.1M469.6 75.1L471.5 85.6M446.8 55.5L456.7 59.5M456.7 59.5L460.7 69.3M430.6 44.7L441.0 46.6M441.0 46.6L446.8 55.5M412.5 37.2L423.2 37.0M423.2 37.0L430.6 44.7M393.4 33.4L403.8 31.2M403.8 31.2L412.5 37.2M373.8 33.4L383.6 29.2M383.6 29.2L393.4 33.4M354.7 37.2L363.4 31.2M363.4 31.2L373.8 33.4M336.6 44.7L344.0 37.0M344.0 37.0L354.7 37.2M320.4 55.5L326.2 46.6M326.2 46.6L336.6 44.7M306.5 69.3L316.5 65.4M306.5 69.3L310.5 59.5M310.5 59.5L320.4 55.5M295.7 85.6L304.6 79.8M295.7 85.6L297.6 75.1M297.6 75.1L306.5 69.3M304.6 79.8L306.5 69.3M288.1 93.0L288.2 103.7M288.1 93.0L295.7 85.6M295.7 85.6L295.9 96.2M282.2 112.4L284.4 122.8M282.2 112.4L288.2 103.7M280.2 132.6L284.4 142.4M280.2 132.6L284.4 122.8M282.2 152.8L288.2 161.5M282.2 152.8L284.4 142.4M297.6 190.1L306.5 195.9M295.7 179.6L297.6 190.1M310.5 205.7L320.4 209.7M306.5 195.9L310.5 205.7M326.2 218.6L336.6 220.5M320.4 209.7L326.2 218.6M344.0 228.2L354.7 228.0M336.6 220.5L344.0 228.2M363.4 234.0L373.8 231.8M354.7 228.0L363.4 234.0M383.6 236.0L393.4 231.8M373.8 231.8L383.6 236.0M403.8 234.0L412.5 228.0M393.4 231.8L403.8 234.0M423.2 228.2L430.6 220.5M412.5 228.0L423.2 228.2M441.0 218.6L446.8 209.7M430.6 220.5L441.0 218.6M456.7 205.7L460.7 195.9M446.8 209.7L456.7 205.7M469.6 190.1L471.5 179.6M460.7 195.9L469.6 190.1M479.0 161.5L479.1 172.2M471.5 179.6L479.1 172.2M482.8 142.4L485.0 152.8M479.0 161.5L485.0 152.8M482.8 122.8L487.0 132.6M482.8 142.4L487.0 132.6M485.0 112.4L489.3 122.2M487.0 132.6L489.3 122.2M479.1 93.0L485.2 101.8M485.0 112.4L485.2 101.8M469.6 75.1L477.2 82.5M477.2 82.5L479.1 93.0M456.7 59.5L465.7 65.2M465.7 65.2L469.6 75.1M441.0 46.6L451.0 50.5M451.0 50.5L456.7 59.5M423.2 37.0L433.6 38.9M433.6 38.9L441.0 46.6M403.8 31.2L414.4 31.0M414.4 31.0L423.2 37.0M383.6 29.2L394.0 26.9M394.0 26.9L403.8 31.2M363.4 31.2L373.2 26.9M373.2 26.9L383.6 29.2M344.0 37.0L352.8 31.0M352.8 31.0L363.4 31.2M326.2 46.6L333.6 38.9M333.6 38.9L344.0 37.0M297.6 75.1L301.5 65.2M301.5 65.2L310.5 59.5M288.1 93.0L290.0 82.5M290.0 82.5L297.6 75.1M282.0 101.8L282.2 112.4M282.0 101.8L288.1 93.0M277.9 122.2L280.2 132.6M277.9 122.2L282.2 112.4M277.9 143.0L282.2 152.8M277.9 143.0L280.2 132.6M288.1 172.2L288.2 161.5M282.0 163.4L288.1 172.2M282.0 163.4L282.2 152.8M290.0 182.7L297.6 190.1M288.1 172.2L290.0 182.7M288.1 172.2L295.7 179.6M301.5 200.0L310.5 205.7M297.6 190.1L301.5 200.0M316.2 214.7L326.2 218.6M310.5 205.7L316.2 214.7M333.6 226.3L344.0 228.2M326.2 218.6L333.6 226.3M352.8 234.2L363.4 234.0M344.0 228.2L352.8 234.2M373.2 238.3L383.6 236.0M363.4 234.0L373.2 238.3M394.0 238.3L403.8 234.0M383.6 236.0L394.0 238.3M414.4 234.2L423.2 228.2M403.8 234.0L414.4 234.2M433.6 226.3L441.0 218.6M423.2 228.2L433.6 226.3M451.0 214.7L456.7 205.7M441.0 218.6L451.0 214.7M465.7 200.0L469.6 190.1M456.7 205.7L465.7 200.0M477.2 182.7L479.1 172.2M469.6 190.1L477.2 182.7M485.0 152.8L485.2 163.4M479.1 172.2L485.2 163.4M487.0 132.6L489.3 143.0M485.0 152.8L489.3 143.0M485.2 101.8L489.6 111.5M489.3 122.2L489.6 111.5M477.2 82.5L483.5 91.2M483.5 91.2L485.2 101.8M465.7 65.2L473.5 72.5M473.5 72.5L477.2 82.5M451.0 50.5L460.0 56.1M460.0 56.1L465.7 65.2M433.6 38.9L443.7 42.7M443.7 42.7L451.0 50.5M414.4 31.0L425.0 32.7M425.0 32.7L433.6 38.9M394.0 26.9L404.7 26.5M404.7 26.5L414.4 31.0M373.2 26.9L383.6 24.4M383.6 24.4L394.0 26.9M352.8 31.0L362.5 26.5M362.5 26.5L373.2 26.9M333.6 38.9L342.2 32.7M342.2 32.7L352.8 31.0M316.2 50.5L326.2 46.6M316.2 50.5L323.5 42.7M323.5 42.7L333.6 38.9M301.5 65.2L307.2 56.1M307.2 56.1L316.2 50.5M310.5 59.5L316.2 50.5M290.0 82.5L293.7 72.5M293.7 72.5L301.5 65.2M282.0 101.8L283.7 91.2M283.7 91.2L290.0 82.5M277.6 111.5L277.9 122.2M277.6 111.5L282.0 101.8M275.5 132.6L277.9 143.0M275.5 132.6L277.9 122.2M277.6 153.7L282.0 163.4M277.6 153.7L277.9 143.0M283.7 174.0L290.0 182.7M282.0 163.4L283.7 174.0M293.7 192.7L301.5 200.0M290.0 182.7L293.7 192.7M307.2 209.1L316.2 214.7M301.5 200.0L307.2 209.1M323.5 222.5L333.6 226.3M316.2 214.7L323.5 222.5M342.2 232.5L352.8 234.2M333.6 226.3L342.2 232.5M362.5 238.7L373.2 238.3M352.8 234.2L362.5 238.7M383.6 240.8L394.0 238.3M373.2 238.3L383.6 240.8M404.7 238.7L414.4 234.2M394.0 238.3L404.7 238.7M425.0 232.5L433.6 226.3M414.4 234.2L425.0 232.5M443.7 222.5L451.0 214.7M433.6 226.3L443.7 222.5M460.0 209.1L465.7 200.0M451.0 214.7L460.0 209.1M473.5 192.7L477.2 182.7M465.7 200.0L473.5 192.7M483.5 174.0L485.2 163.4M477.2 182.7L483.5 174.0M489.3 143.0L489.6 153.7M485.2 163.4L489.6 153.7M489.3 122.2L491.7 132.6M489.3 143.0L491.7 132.6" fill="none" stroke="rgba(255,255,255,0.3)" stroke-width="0.5" stroke-dasharray="1.8 1.6"/>
<g stroke-width="0.35" stroke-linejoin="round">
<polygon points="638.10,132.60 638.10,121.42 653.84,116.85 649.28,132.60" fill="#000000" stroke="#000000"/>
<polygon points="638.10,132.60 626.92,132.60 622.36,116.85 638.10,121.42" fill="#000000" stroke="#000000"/>
<polygon points="638.10,132.60 638.10,143.78 622.36,148.35 626.92,132.60" fill="#000000" stroke="#000000"/>
<polygon points="638.10,132.60 649.28,132.60 653.84,148.35 638.10,143.78" fill="#000000" stroke="#000000"/>
<polygon points="649.28,132.60 653.84,116.85 666.83,116.00 660.37,132.60" fill="#000000" stroke="#000000"/>
<polygon points="638.10,121.42 638.10,110.32 654.69,103.85 653.84,116.85" fill="#000000" stroke="#000000"/>
<polygon points="638.10,121.42 622.36,116.85 621.51,103.85 638.10,110.32" fill="#000000" stroke="#000000"/>
<polygon points="626.92,132.60 615.83,132.60 609.37,116.00 622.36,116.85" fill="#000000" stroke="#000000"/>
<polygon points="626.92,132.60 622.36,148.35 609.37,149.20 615.83,132.60" fill="#000000" stroke="#000000"/>
<polygon points="638.10,143.78 638.10,154.88 621.51,161.35 622.36,148.35" fill="#000000" stroke="#000000"/>
<polygon points="638.10,143.78 653.84,148.35 654.69,161.35 638.10,154.88" fill="#000000" stroke="#000000"/>
<polygon points="649.28,132.60 660.37,132.60 666.83,149.20 653.84,148.35" fill="#000000" stroke="#000000"/>
<polygon points="660.37,132.60 666.83,116.00 678.59,115.82 671.28,132.60" fill="#000000" stroke="#000000"/>
<polygon points="653.84,116.85 654.69,103.85 669.09,101.60 666.83,116.00" fill="#000000" stroke="#000000"/>
<polygon points="638.10,110.32 638.10,99.41 654.87,92.10 654.69,103.85" fill="#000000" stroke="#000000"/>
<polygon points="638.10,110.32 621.51,103.85 621.33,92.10 638.10,99.41" fill="#000000" stroke="#000000"/>
<polygon points="622.36,116.85 609.37,116.00 607.11,101.60 621.51,103.85" fill="#000000" stroke="#000000"/>
<polygon points="615.83,132.60 604.92,132.60 597.61,115.82 609.37,116.00" fill="#000000" stroke="#000000"/>
<polygon points="615.83,132.60 609.37,149.20 597.61,149.38 604.92,132.60" fill="#000000" stroke="#000000"/>
<polygon points="622.36,148.35 621.51,161.35 607.11,163.60 609.37,149.20" fill="#000000" stroke="#000000"/>
<polygon points="638.10,154.88 638.10,165.79 621.33,173.10 621.51,161.35" fill="#000000" stroke="#000000"/>
<polygon points="638.10,154.88 654.69,161.35 654.87,173.10 638.10,165.79" fill="#000000" stroke="#000000"/>
<polygon points="653.84,148.35 666.83,149.20 669.09,163.60 654.69,161.35" fill="#000000" stroke="#000000"/>
<polygon points="660.37,132.60 671.28,132.60 678.59,149.38 666.83,149.20" fill="#000000" stroke="#000000"/>
<polygon points="671.28,132.60 678.59,115.82 689.56,115.87 681.92,132.60" fill="#000000" stroke="#000000"/>
<polygon points="666.83,116.00 669.09,101.60 681.87,100.78 678.59,115.82" fill="#000000" stroke="#000000"/>
<polygon points="654.69,103.85 654.87,92.10 669.90,88.81 669.09,101.60" fill="#000000" stroke="#000000"/>
<polygon points="638.10,99.41 638.10,88.76 654.82,81.12 654.87,92.10" fill="#000000" stroke="#000000"/>
<polygon points="638.10,99.41 621.33,92.10 621.38,81.12 638.10,88.76" fill="#000000" stroke="#000000"/>
<polygon points="621.51,103.85 607.11,101.60 606.30,88.81 621.33,92.10" fill="#000000" stroke="#000000"/>
<polygon points="609.37,116.00 597.61,115.82 594.33,100.78 607.11,101.60" fill="#000000" stroke="#000000"/>
<polygon points="604.92,132.60 594.28,132.60 586.64,115.87 597.61,115.82" fill="#000000" stroke="#000000"/>
<polygon points="604.92,132.60 597.61,149.38 586.64,149.33 594.28,132.60" fill="#000000" stroke="#000000"/>
<polygon points="609.37,149.20 607.11,163.60 594.33,164.42 597.61,149.38" fill="#000000" stroke="#000000"/>
<polygon points="621.51,161.35 621.33,173.10 606.30,176.39 607.11,163.60" fill="#000000" stroke="#000000"/>
<polygon points="638.10,165.79 638.10,176.44 621.38,184.08 621.33,173.10" fill="#000000" stroke="#000000"/>
<polygon points="638.10,165.79 654.87,173.10 654.82,184.08 638.10,176.44" fill="#000000" stroke="#000000"/>
<polygon points="654.69,161.35 669.09,163.60 669.90,176.39 654.87,173.10" fill="#000000" stroke="#000000"/>
<polygon points="666.83,149.20 678.59,149.38 681.87,164.42 669.09,163.60" fill="#000000" stroke="#000000"/>
<polygon points="671.28,132.60 681.92,132.60 689.56,149.33 678.59,149.38" fill="#000000" stroke="#000000"/>
<polygon points="681.92,132.60 689.56,115.87 699.84,116.05 692.20,132.60" fill="#000000" stroke="#000000"/>
<polygon points="678.59,115.82 681.87,100.78 693.46,100.62 689.56,115.87" fill="#000000" stroke="#000000"/>
<polygon points="669.09,101.60 669.90,88.81 683.30,87.38 681.87,100.78" fill="#000000" stroke="#000000"/>
<polygon points="654.87,92.10 654.82,81.12 670.06,77.22 669.90,88.81" fill="#000000" stroke="#000000"/>
<polygon points="638.10,88.76 638.10,78.47 654.64,70.83 654.82,81.12" fill="#000000" stroke="#000000"/>
<polygon points="638.10,88.76 621.38,81.12 621.56,70.83 638.10,78.47" fill="#000000" stroke="#000000"/>
<polygon points="621.33,92.10 606.30,88.81 606.14,77.22 621.38,81.12" fill="#000000" stroke="#000000"/>
<polygon points="607.11,101.60 594.33,100.78 592.90,87.38 606.30,88.81" fill="#000000" stroke="#000000"/>
<polygon points="597.61,115.82 586.64,115.87 582.74,100.62 594.33,100.78" fill="#000000" stroke="#000000"/>
<polygon points="594.28,132.60 584.00,132.60 576.36,116.05 586.64,115.87" fill="#000000" stroke="#000000"/>
<polygon points="594.28,132.60 586.64,149.33 576.36,149.15 584.00,132.60" fill="#000000" stroke="#000000"/>
<polygon points="597.61,149.38 594.33,164.42 582.74,164.58 586.64,149.33" fill="#000000" stroke="#000000"/>
<polygon points="607.11,163.60 606.30,176.39 592.90,177.82 594.33,164.42" fill="#000000" stroke="#000000"/>
<polygon points="621.33,173.10 621.38,184.08 606.14,187.98 606.30,176.39" fill="#000000" stroke="#000000"/>
<polygon points="638.10,176.44 638.10,186.73 621.56,194.37 621.38,184.08" fill="#000000" stroke="#000000"/>
<polygon points="638.10,176.44 654.82,184.08 654.64,194.37 638.10,186.73" fill="#000000" stroke="#000000"/>
<polygon points="654.87,173.10 669.90,176.39 670.06,187.98 654.82,184.08" fill="#000000" stroke="#000000"/>
<polygon points="669.09,163.60 681.87,164.42 683.30,177.82 669.90,176.39" fill="#000000" stroke="#000000"/>
<polygon points="678.59,149.38 689.56,149.33 693.46,164.58 681.87,164.42" fill="#000000" stroke="#000000"/>
<polygon points="681.92,132.60 692.20,132.60 699.84,149.15 689.56,149.33" fill="#000000" stroke="#000000"/>
<polygon points="692.20,132.60 699.84,116.05 709.43,116.31 702.02,132.60" fill="#000000" stroke="#000000"/>
<polygon points="689.56,115.87 693.46,100.62 704.02,100.84 699.84,116.05" fill="#000000" stroke="#000000"/>
<polygon points="681.87,100.78 683.30,87.38 695.31,86.96 693.46,100.62" fill="#000000" stroke="#000000"/>
<polygon points="669.90,88.81 670.06,77.22 683.72,75.37 683.30,87.38" fill="#000000" stroke="#000000"/>
<polygon points="654.82,81.12 654.64,70.83 669.85,66.65 670.06,77.22" fill="#000000" stroke="#000000"/>
<polygon points="638.10,78.47 638.10,68.65 654.38,61.23 654.64,70.83" fill="#000000" stroke="#000000"/>
<polygon points="638.10,78.47 621.56,70.83 621.82,61.23 638.10,68.65" fill="#000000" stroke="#000000"/>
<polygon points="621.38,81.12 606.14,77.22 606.35,66.65 621.56,70.83" fill="#000000" stroke="#000000"/>
<polygon points="606.30,88.81 592.90,87.38 592.48,75.37 606.14,77.22" fill="#000000" stroke="#000000"/>
<polygon points="594.33,100.78 582.74,100.62 580.89,86.96 592.90,87.38" fill="#000000" stroke="#000000"/>
<polygon points="586.64,115.87 576.36,116.05 572.18,100.84 582.74,100.62" fill="#000000" stroke="#000000"/>
<polygon points="584.00,132.60 574.18,132.60 566.77,116.31 576.36,116.05" fill="#000000" stroke="#000000"/>
<polygon points="584.00,132.60 576.36,149.15 566.77,148.89 574.18,132.60" fill="#000000" stroke="#000000"/>
<polygon points="586.64,149.33 582.74,164.58 572.18,164.36 576.36,149.15" fill="#000000" stroke="#000000"/>
<polygon points="594.33,164.42 592.90,177.82 580.89,178.24 582.74,164.58" fill="#000000" stroke="#000000"/>
<polygon points="621.38,184.08 621.56,194.37 606.35,198.55 606.14,187.98" fill="#000000" stroke="#000000"/>
<polygon points="638.10,186.73 638.10,196.55 621.82,203.97 621.56,194.37" fill="#000000" stroke="#000000"/>
<polygon points="638.10,186.73 654.64,194.37 654.38,203.97 638.10,196.55" fill="#000000" stroke="#000000"/>
<polygon points="654.82,184.08 670.06,187.98 669.85,198.55 654.64,194.37" fill="#000000" stroke="#000000"/>
<polygon points="669.90,176.39 683.30,177.82 683.72,189.83 670.06,187.98" fill="#000000" stroke="#000000"/>
<polygon points="681.87,164.42 693.46,164.58 695.31,178.24 683.30,177.82" fill="#000000" stroke="#000000"/>
<polygon points="689.56,149.33 699.84,149.15 704.02,164.36 693.46,164.58" fill="#000000" stroke="#000000"/>
<polygon points="692.20,132.60 702.02,132.60 709.43,148.89 699.84,149.15" fill="#000000" stroke="#000000"/>
<polygon points="702.02,132.60 709.43,116.31 718.26,116.65 711.27,132.60" fill="#000000" stroke="#000000"/>
<polygon points="699.84,116.05 704.02,100.84 713.61,101.31 709.43,116.31" fill="#000000" stroke="#000000"/>
<polygon points="693.46,100.62 695.31,86.96 706.05,87.17 704.02,100.84" fill="#000000" stroke="#000000"/>
<polygon points="683.30,87.38 683.72,75.37 695.89,74.78 695.31,86.96" fill="#000000" stroke="#000000"/>
<polygon points="670.06,77.22 669.85,66.65 683.51,64.61 683.72,75.37" fill="#000000" stroke="#000000"/>
<polygon points="654.64,70.83 654.38,61.23 669.38,57.06 669.85,66.65" fill="#000000" stroke="#000000"/>
<polygon points="638.10,68.65 638.10,59.40 654.04,52.41 654.38,61.23" fill="#000000" stroke="#000000"/>
<polygon points="638.10,68.65 621.82,61.23 622.16,52.41 638.10,59.40" fill="#000000" stroke="#000000"/>
<polygon points="621.56,70.83 606.35,66.65 606.82,57.06 621.82,61.23" fill="#000000" stroke="#000000"/>
<polygon points="606.14,77.22 592.48,75.37 592.69,64.61 606.35,66.65" fill="#000000" stroke="#000000"/>
<polygon points="592.90,87.38 580.89,86.96 580.31,74.78 592.48,75.37" fill="#000000" stroke="#000000"/>
<polygon points="582.74,100.62 572.18,100.84 570.15,87.17 580.89,86.96" fill="#000000" stroke="#000000"/>
<polygon points="576.36,116.05 566.77,116.31 562.59,101.31 572.18,100.84" fill="#000000" stroke="#000000"/>
<polygon points="574.18,132.60 564.93,132.60 557.94,116.65 566.77,116.31" fill="#000000" stroke="#000000"/>
<polygon points="574.18,132.60 566.77,148.89 557.94,148.55 564.93,132.60" fill="#000000" stroke="#000000"/>
<polygon points="576.36,149.15 572.18,164.36 562.59,163.89 566.77,148.89" fill="#000000" stroke="#000000"/>
<polygon points="582.74,164.58 580.89,178.24 570.15,178.03 572.18,164.36" fill="#000000" stroke="#000000"/>
<polygon points="592.90,177.82 592.48,189.83 580.31,190.42 580.89,178.24" fill="#000000" stroke="#000000"/>
<polygon points="606.14,187.98 606.35,198.55 592.69,200.59 592.48,189.83" fill="#000000" stroke="#000000"/>
<polygon points="621.56,194.37 621.82,203.97 606.82,208.14 606.35,198.55" fill="#000000" stroke="#000000"/>
<polygon points="638.10,196.55 638.10,205.80 622.16,212.79 621.82,203.97" fill="#000000" stroke="#000000"/>
<polygon points="638.10,196.55 654.38,203.97 654.04,212.79 638.10,205.80" fill="#000000" stroke="#000000"/>
<polygon points="654.64,194.37 669.85,198.55 669.38,208.14 654.38,203.97" fill="#000000" stroke="#000000"/>
<polygon points="670.06,187.98 683.72,189.83 683.51,200.59 669.85,198.55" fill="#000000" stroke="#000000"/>
<polygon points="683.30,177.82 695.31,178.24 695.89,190.42 683.72,189.83" fill="#000000" stroke="#000000"/>
<polygon points="693.46,164.58 704.02,164.36 706.05,178.03 695.31,178.24" fill="#000000" stroke="#000000"/>
<polygon points="699.84,149.15 709.43,148.89 713.61,163.89 704.02,164.36" fill="#000000" stroke="#000000"/>
<polygon points="702.02,132.60 711.27,132.60 718.26,148.55 709.43,148.89" fill="#000000" stroke="#000000"/>
<polygon points="711.27,132.60 718.26,116.65 726.73,123.87 719.83,132.60" fill="#000000" stroke="#000000"/>
<polygon points="709.43,116.31 713.61,101.31 723.33,106.74 718.26,116.65" fill="#000000" stroke="#000000"/>
<polygon points="704.02,100.84 706.05,87.17 716.65,90.60 713.61,101.31" fill="#000000" stroke="#000000"/>
<polygon points="695.31,86.96 695.89,74.78 706.95,76.07 706.05,87.17" fill="#000000" stroke="#000000"/>
<polygon points="683.72,75.37 683.51,64.61 694.60,63.72 695.89,74.78" fill="#000000" stroke="#000000"/>
<polygon points="669.85,66.65 669.38,57.06 680.08,54.02 683.51,64.61" fill="#000000" stroke="#000000"/>
<polygon points="654.38,61.23 654.04,52.41 663.95,47.33 669.38,57.06" fill="#000000" stroke="#000000"/>
<polygon points="638.10,59.40 638.10,50.83 646.83,43.93 654.04,52.41" fill="#000000" stroke="#000000"/>
<polygon points="638.10,59.40 622.16,52.41 629.37,43.93 638.10,50.83" fill="#000000" stroke="#000000"/>
<polygon points="621.82,61.23 606.82,57.06 612.25,47.33 622.16,52.41" fill="#000000" stroke="#000000"/>
<polygon points="606.35,66.65 592.69,64.61 596.12,54.02 606.82,57.06" fill="#000000" stroke="#000000"/>
<polygon points="592.48,75.37 580.31,74.78 581.60,63.72 592.69,64.61" fill="#000000" stroke="#000000"/>
<polygon points="580.89,86.96 570.15,87.17 569.25,76.07 580.31,74.78" fill="#000000" stroke="#000000"/>
<polygon points="572.18,100.84 562.59,101.31 559.55,90.60 570.15,87.17" fill="#000000" stroke="#000000"/>
<polygon points="566.77,116.31 557.94,116.65 552.87,106.74 562.59,101.31" fill="#000000" stroke="#000000"/>
<polygon points="564.93,132.60 556.37,132.60 549.47,123.87 557.94,116.65" fill="#000000" stroke="#000000"/>
<polygon points="564.93,132.60 557.94,148.55 549.47,141.33 556.37,132.60" fill="#7c8c9c" stroke="#7c8c9c"/>
<polygon points="566.77,148.89 562.59,163.89 552.87,158.46 557.94,148.55" fill="#000000" stroke="#000000"/>
<polygon points="572.18,164.36 570.15,178.03 559.55,174.60 562.59,163.89" fill="#000000" stroke="#000000"/>
<polygon points="580.89,178.24 580.31,190.42 569.25,189.13 570.15,178.03" fill="#000000" stroke="#000000"/>
<polygon points="592.48,189.83 592.69,200.59 581.60,201.48 580.31,190.42" fill="#000000" stroke="#000000"/>
<polygon points="606.35,198.55 606.82,208.14 596.12,211.18 592.69,200.59" fill="#000000" stroke="#000000"/>
<polygon points="621.82,203.97 622.16,212.79 612.25,217.87 606.82,208.14" fill="#000000" stroke="#000000"/>
<polygon points="638.10,205.80 638.10,214.37 629.37,221.27 622.16,212.79" fill="#000000" stroke="#000000"/>
<polygon points="638.10,205.80 654.04,212.79 646.83,221.27 638.10,214.37" fill="#000000" stroke="#000000"/>
<polygon points="654.38,203.97 669.38,208.14 663.95,217.87 654.04,212.79" fill="#000000" stroke="#000000"/>
<polygon points="669.85,198.55 683.51,200.59 680.08,211.18 669.38,208.14" fill="#000000" stroke="#000000"/>
<polygon points="683.72,189.83 695.89,190.42 694.60,201.48 683.51,200.59" fill="#000000" stroke="#000000"/>
<polygon points="695.31,178.24 706.05,178.03 706.95,189.13 695.89,190.42" fill="#000000" stroke="#000000"/>
<polygon points="704.02,164.36 713.61,163.89 716.65,174.60 706.05,178.03" fill="#000000" stroke="#000000"/>
<polygon points="709.43,148.89 718.26,148.55 723.33,158.46 713.61,163.89" fill="#000000" stroke="#000000"/>
<polygon points="711.27,132.60 719.83,132.60 726.73,141.33 718.26,148.55" fill="#000000" stroke="#000000"/>
<polygon points="718.26,116.65 723.33,106.74 731.24,114.07 726.73,123.87" fill="#000000" stroke="#000000"/>
<polygon points="713.61,101.31 716.65,90.60 725.83,96.24 723.33,106.74" fill="#000000" stroke="#000000"/>
<polygon points="706.05,87.17 706.95,76.07 717.06,79.82 716.65,90.60" fill="#000000" stroke="#000000"/>
<polygon points="695.89,74.78 694.60,63.72 705.25,65.42 706.95,76.07" fill="#000000" stroke="#000000"/>
<polygon points="683.51,64.61 680.08,54.02 690.86,53.61 694.60,63.72" fill="#000000" stroke="#000000"/>
<polygon points="669.38,57.06 663.95,47.33 674.44,44.83 680.08,54.02" fill="#000000" stroke="#000000"/>
<polygon points="654.04,52.41 646.83,43.93 656.63,39.42 663.95,47.33" fill="#000000" stroke="#000000"/>
<polygon points="638.10,50.83 629.37,43.93 638.10,37.60 646.83,43.93" fill="#000000" stroke="#000000"/>
<polygon points="622.16,52.41 612.25,47.33 619.57,39.42 629.37,43.93" fill="#000000" stroke="#000000"/>
<polygon points="606.82,57.06 596.12,54.02 601.76,44.83 612.25,47.33" fill="#000000" stroke="#000000"/>
<polygon points="592.69,64.61 581.60,63.72 585.34,53.61 596.12,54.02" fill="#000000" stroke="#000000"/>
<polygon points="580.31,74.78 569.25,76.07 570.95,65.42 581.60,63.72" fill="#000000" stroke="#000000"/>
<polygon points="570.15,87.17 559.55,90.60 559.14,79.82 569.25,76.07" fill="#000000" stroke="#000000"/>
<polygon points="562.59,101.31 552.87,106.74 550.37,96.24 559.55,90.60" fill="#000000" stroke="#000000"/>
<polygon points="557.94,116.65 549.47,123.87 544.96,114.07 552.87,106.74" fill="#000000" stroke="#000000"/>
<polygon points="556.37,132.60 549.47,141.33 543.14,132.60 549.47,123.87" fill="#000000" stroke="#000000"/>
<polygon points="557.94,148.55 552.87,158.46 544.96,151.13 549.47,141.33" fill="#000000" stroke="#000000"/>
<polygon points="562.59,163.89 559.55,174.60 550.37,168.96 552.87,158.46" fill="#000000" stroke="#000000"/>
<polygon points="570.15,178.03 569.25,189.13 559.14,185.38 559.55,174.60" fill="#000000" stroke="#000000"/>
<polygon points="580.31,190.42 581.60,201.48 570.95,199.78 569.25,189.13" fill="#000000" stroke="#000000"/>
<polygon points="592.69,200.59 596.12,211.18 585.34,211.59 581.60,201.48" fill="#000000" stroke="#000000"/>
<polygon points="606.82,208.14 612.25,217.87 601.76,220.37 596.12,211.18" fill="#000000" stroke="#000000"/>
<polygon points="622.16,212.79 629.37,221.27 619.57,225.78 612.25,217.87" fill="#000000" stroke="#000000"/>
<polygon points="638.10,214.37 646.83,221.27 638.10,227.60 629.37,221.27" fill="#000000" stroke="#000000"/>
<polygon points="654.04,212.79 663.95,217.87 656.63,225.78 646.83,221.27" fill="#000000" stroke="#000000"/>
<polygon points="669.38,208.14 680.08,211.18 674.44,220.37 663.95,217.87" fill="#000000" stroke="#000000"/>
<polygon points="683.51,200.59 694.60,201.48 690.86,211.59 680.08,211.18" fill="#000000" stroke="#000000"/>
<polygon points="695.89,190.42 706.95,189.13 705.25,199.78 694.60,201.48" fill="#000000" stroke="#000000"/>
<polygon points="706.05,178.03 716.65,174.60 717.06,185.38 706.95,189.13" fill="#000000" stroke="#000000"/>
<polygon points="713.61,163.89 723.33,158.46 725.83,168.96 716.65,174.60" fill="#000000" stroke="#000000"/>
<polygon points="718.26,148.55 726.73,141.33 731.24,151.13 723.33,158.46" fill="#000000" stroke="#000000"/>
<polygon points="719.83,132.60 726.73,123.87 733.06,132.60 726.73,141.33" fill="#ffffff" stroke="#ffffff"/>
<polygon points="726.73,123.87 731.24,114.07 737.30,122.83 733.06,132.60" fill="#000000" stroke="#000000"/>
<polygon points="723.33,106.74 725.83,96.24 733.49,103.65 731.24,114.07" fill="#000000" stroke="#000000"/>
<polygon points="716.65,90.60 717.06,79.82 726.01,85.59 725.83,96.24" fill="#000000" stroke="#000000"/>
<polygon points="706.95,76.07 705.25,65.42 715.15,69.34 717.06,79.82" fill="#000000" stroke="#000000"/>
<polygon points="694.60,63.72 690.86,53.61 701.34,55.51 705.25,65.42" fill="#000000" stroke="#000000"/>
<polygon points="680.08,54.02 674.44,44.83 685.09,44.65 690.86,53.61" fill="#000000" stroke="#000000"/>
<polygon points="663.95,47.33 656.63,39.42 667.04,37.17 674.44,44.83" fill="#000000" stroke="#000000"/>
<polygon points="646.83,43.93 638.10,37.60 647.87,33.36 656.63,39.42" fill="#000000" stroke="#000000"/>
<polygon points="629.37,43.93 619.57,39.42 628.33,33.36 638.10,37.60" fill="#000000" stroke="#000000"/>
<polygon points="612.25,47.33 601.76,44.83 609.16,37.17 619.57,39.42" fill="#323245" stroke="#323245"/>
<polygon points="596.12,54.02 585.34,53.61 591.11,44.65 601.76,44.83" fill="#000000" stroke="#000000"/>
<polygon points="581.60,63.72 570.95,65.42 574.86,55.51 585.34,53.61" fill="#000000" stroke="#000000"/>
<polygon points="569.25,76.07 559.14,79.82 561.05,69.34 570.95,65.42" fill="#ffffff" stroke="#ffffff"/>
<polygon points="559.55,90.60 550.37,96.24 550.19,85.59 559.14,79.82" fill="#ffffff" stroke="#ffffff"/>
<polygon points="552.87,106.74 544.96,114.07 542.71,103.65 550.37,96.24" fill="#000000" stroke="#000000"/>
<polygon points="549.47,123.87 543.14,132.60 538.90,122.83 544.96,114.07" fill="#636a83" stroke="#636a83"/>
<polygon points="549.47,141.33 544.96,151.13 538.90,142.37 543.14,132.60" fill="#000000" stroke="#000000"/>
<polygon points="552.87,158.46 550.37,168.96 542.71,161.55 544.96,151.13" fill="#b2cdcd" stroke="#b2cdcd"/>
<polygon points="559.55,174.60 559.14,185.38 550.19,179.61 550.37,168.96" fill="#000000" stroke="#000000"/>
<polygon points="569.25,189.13 570.95,199.78 561.05,195.86 559.14,185.38" fill="#000000" stroke="#000000"/>
<polygon points="581.60,201.48 585.34,211.59 574.86,209.69 570.95,199.78" fill="#000000" stroke="#000000"/>
<polygon points="596.12,211.18 601.76,220.37 591.11,220.55 585.34,211.59" fill="#000000" stroke="#000000"/>
<polygon points="612.25,217.87 619.57,225.78 609.16,228.03 601.76,220.37" fill="#000000" stroke="#000000"/>
<polygon points="629.37,221.27 638.10,227.60 628.33,231.84 619.57,225.78" fill="#000000" stroke="#000000"/>
<polygon points="646.83,221.27 656.63,225.78 647.87,231.84 638.10,227.60" fill="#000000" stroke="#000000"/>
<polygon points="663.95,217.87 674.44,220.37 667.04,228.03 656.63,225.78" fill="#000000" stroke="#000000"/>
<polygon points="680.08,211.18 690.86,211.59 685.09,220.55 674.44,220.37" fill="#d8e6e6" stroke="#d8e6e6"/>
<polygon points="694.60,201.48 705.25,199.78 701.34,209.69 690.86,211.59" fill="#000000" stroke="#000000"/>
<polygon points="706.95,189.13 717.06,185.38 715.15,195.86 705.25,199.78" fill="#000000" stroke="#000000"/>
<polygon points="716.65,174.60 725.83,168.96 726.01,179.61 717.06,185.38" fill="#000000" stroke="#000000"/>
<polygon points="723.33,158.46 731.24,151.13 733.49,161.55 725.83,168.96" fill="#000000" stroke="#000000"/>
<polygon points="726.73,141.33 733.06,132.60 737.30,142.37 731.24,151.13" fill="#000000" stroke="#000000"/>
<polygon points="731.24,114.07 733.49,103.65 739.49,112.42 737.30,122.83" fill="#000000" stroke="#000000"/>
<polygon points="725.83,96.24 726.01,85.59 733.61,93.02 733.49,103.65" fill="#000000" stroke="#000000"/>
<polygon points="717.06,79.82 715.15,69.34 724.06,75.14 726.01,85.59" fill="#000000" stroke="#000000"/>
<polygon points="705.25,65.42 701.34,55.51 711.20,59.47 715.15,69.34" fill="#000000" stroke="#000000"/>
<polygon points="690.86,53.61 685.09,44.65 695.53,46.60 701.34,55.51" fill="#000000" stroke="#000000"/>
<polygon points="674.44,44.83 667.04,37.17 677.66,37.05 685.09,44.65" fill="#000000" stroke="#000000"/>
<polygon points="656.63,39.42 647.87,33.36 658.27,31.16 667.04,37.17" fill="#000000" stroke="#000000"/>
<polygon points="638.10,37.60 628.33,33.36 638.10,29.17 647.87,33.36" fill="#000000" stroke="#000000"/>
<polygon points="619.57,39.42 609.16,37.17 617.93,31.16 628.33,33.36" fill="#000000" stroke="#000000"/>
<polygon points="601.76,44.83 591.11,44.65 598.54,37.05 609.16,37.17" fill="#000000" stroke="#000000"/>
<polygon points="585.34,53.61 574.86,55.51 580.67,46.60 591.11,44.65" fill="#000000" stroke="#000000"/>
<polygon points="570.95,65.42 561.05,69.34 565.00,59.47 574.86,55.51" fill="#000000" stroke="#000000"/>
<polygon points="559.14,79.82 550.19,85.59 552.14,75.14 561.05,69.34" fill="#323245" stroke="#323245"/>
<polygon points="550.37,96.24 542.71,103.65 542.59,93.02 550.19,85.59" fill="#000000" stroke="#000000"/>
<polygon points="544.96,114.07 538.90,122.83 536.71,112.42 542.71,103.65" fill="#000000" stroke="#000000"/>
<polygon points="543.14,132.60 538.90,142.37 534.72,132.60 538.90,122.83" fill="#000000" stroke="#000000"/>
<polygon points="544.96,151.13 542.71,161.55 536.71,152.78 538.90,142.37" fill="#636a83" stroke="#636a83"/>
<polygon points="550.37,168.96 550.19,179.61 542.59,172.18 542.71,161.55" fill="#ffffff" stroke="#ffffff"/>
<polygon points="559.14,185.38 561.05,195.86 552.14,190.06 550.19,179.61" fill="#000000" stroke="#000000"/>
<polygon points="570.95,199.78 574.86,209.69 565.00,205.73 561.05,195.86" fill="#000000" stroke="#000000"/>
<polygon points="585.34,211.59 591.11,220.55 580.67,218.60 574.86,209.69" fill="#000000" stroke="#000000"/>
<polygon points="601.76,220.37 609.16,228.03 598.54,228.15 591.11,220.55" fill="#000000" stroke="#000000"/>
<polygon points="619.57,225.78 628.33,231.84 617.93,234.04 609.16,228.03" fill="#000000" stroke="#000000"/>
<polygon points="638.10,227.60 647.87,231.84 638.10,236.03 628.33,231.84" fill="#191922" stroke="#191922"/>
<polygon points="656.63,225.78 667.04,228.03 658.27,234.04 647.87,231.84" fill="#000000" stroke="#000000"/>
<polygon points="674.44,220.37 685.09,220.55 677.66,228.15 667.04,228.03" fill="#000000" stroke="#000000"/>
<polygon points="690.86,211.59 701.34,209.69 695.53,218.60 685.09,220.55" fill="#000000" stroke="#000000"/>
<polygon points="705.25,199.78 715.15,195.86 711.20,205.73 701.34,209.69" fill="#000000" stroke="#000000"/>
<polygon points="717.06,185.38 726.01,179.61 724.06,190.06 715.15,195.86" fill="#000000" stroke="#000000"/>
<polygon points="725.83,168.96 733.49,161.55 733.61,172.18 726.01,179.61" fill="#000000" stroke="#000000"/>
<polygon points="731.24,151.13 737.30,142.37 739.49,152.78 733.49,161.55" fill="#000000" stroke="#000000"/>
<polygon points="733.06,132.60 737.30,122.83 741.48,132.60 737.30,142.37" fill="#000000" stroke="#000000"/>
<polygon points="737.30,122.83 739.49,112.42 743.76,122.19 741.48,132.60" fill="#000000" stroke="#000000"/>
<polygon points="733.49,103.65 733.61,93.02 739.70,101.77 739.49,112.42" fill="#000000" stroke="#000000"/>
<polygon points="726.01,85.59 724.06,75.14 731.73,82.53 733.61,93.02" fill="#000000" stroke="#000000"/>
<polygon points="715.15,69.34 711.20,59.47 720.17,65.22 724.06,75.14" fill="#000000" stroke="#000000"/>
<polygon points="701.34,55.51 695.53,46.60 705.45,50.49 711.20,59.47" fill="#000000" stroke="#000000"/>
<polygon points="685.09,44.65 677.66,37.05 688.15,38.93 695.53,46.60" fill="#000000" stroke="#000000"/>
<polygon points="667.04,37.17 658.27,31.16 668.92,30.96 677.66,37.05" fill="#000000" stroke="#000000"/>
<polygon points="647.87,33.36 638.10,29.17 648.51,26.89 658.27,31.16" fill="#000000" stroke="#000000"/>
<polygon points="628.33,33.36 617.93,31.16 627.69,26.89 638.10,29.17" fill="#000000" stroke="#000000"/>
<polygon points="609.16,37.17 598.54,37.05 607.28,30.96 617.93,31.16" fill="#000000" stroke="#000000"/>
<polygon points="591.11,44.65 580.67,46.60 588.05,38.93 598.54,37.05" fill="#000000" stroke="#000000"/>
<polygon points="574.86,55.51 565.00,59.47 570.75,50.49 580.67,46.60" fill="#ffffff" stroke="#ffffff"/>
<polygon points="561.05,69.34 552.14,75.14 556.03,65.22 565.00,59.47" fill="#000000" stroke="#000000"/>
<polygon points="550.19,85.59 542.59,93.02 544.47,82.53 552.14,75.14" fill="#636a83" stroke="#636a83"/>
<polygon points="542.71,103.65 536.71,112.42 536.50,101.77 542.59,93.02" fill="#000000" stroke="#000000"/>
<polygon points="538.90,122.83 534.72,132.60 532.44,122.19 536.71,112.42" fill="#000000" stroke="#000000"/>
<polygon points="538.90,142.37 536.71,152.78 532.44,143.01 534.72,132.60" fill="#000000" stroke="#000000"/>
<polygon points="542.71,161.55 542.59,172.18 536.50,163.43 536.71,152.78" fill="#000000" stroke="#000000"/>
<polygon points="550.19,179.61 552.14,190.06 544.47,182.67 542.59,172.18" fill="#000000" stroke="#000000"/>
<polygon points="561.05,195.86 565.00,205.73 556.03,199.98 552.14,190.06" fill="#000000" stroke="#000000"/>
<polygon points="574.86,209.69 580.67,218.60 570.75,214.71 565.00,205.73" fill="#000000" stroke="#000000"/>
<polygon points="591.11,220.55 598.54,228.15 588.05,226.27 580.67,218.60" fill="#000000" stroke="#000000"/>
<polygon points="609.16,228.03 617.93,234.04 607.28,234.24 598.54,228.15" fill="#000000" stroke="#000000"/>
<polygon points="628.33,231.84 638.10,236.03 627.69,238.31 617.93,234.04" fill="#000000" stroke="#000000"/>
<polygon points="647.87,231.84 658.27,234.04 648.51,238.31 638.10,236.03" fill="#000000" stroke="#000000"/>
<polygon points="667.04,228.03 677.66,228.15 668.92,234.24 658.27,234.04" fill="#000000" stroke="#000000"/>
<polygon points="685.09,220.55 695.53,218.60 688.15,226.27 677.66,228.15" fill="#000000" stroke="#000000"/>
<polygon points="701.34,209.69 711.20,205.73 705.45,214.71 695.53,218.60" fill="#000000" stroke="#000000"/>
<polygon points="715.15,195.86 724.06,190.06 720.17,199.98 711.20,205.73" fill="#000000" stroke="#000000"/>
<polygon points="726.01,179.61 733.61,172.18 731.73,182.67 724.06,190.06" fill="#000000" stroke="#000000"/>
<polygon points="733.49,161.55 739.49,152.78 739.70,163.43 733.61,172.18" fill="#000000" stroke="#000000"/>
<polygon points="737.30,142.37 741.48,132.60 743.76,143.01 739.49,152.78" fill="#000000" stroke="#000000"/>
<polygon points="739.49,112.42 739.70,101.77 744.14,111.50 743.76,122.19" fill="#000000" stroke="#000000"/>
<polygon points="733.61,93.02 731.73,82.53 737.99,91.21 739.70,101.77" fill="#000000" stroke="#000000"/>
<polygon points="724.06,75.14 720.17,65.22 728.00,72.51 731.73,82.53" fill="#000000" stroke="#000000"/>
<polygon points="711.20,59.47 705.45,50.49 714.55,56.12 720.17,65.22" fill="#000000" stroke="#000000"/>
<polygon points="695.53,46.60 688.15,38.93 698.17,42.66 705.45,50.49" fill="#000000" stroke="#000000"/>
<polygon points="677.66,37.05 668.92,30.96 679.47,32.67 688.15,38.93" fill="#000000" stroke="#000000"/>
<polygon points="658.27,31.16 648.51,26.89 659.19,26.51 668.92,30.96" fill="#000000" stroke="#000000"/>
<polygon points="638.10,29.17 627.69,26.89 638.10,24.43 648.51,26.89" fill="#000000" stroke="#000000"/>
<polygon points="617.93,31.16 607.28,30.96 617.01,26.51 627.69,26.89" fill="#000000" stroke="#000000"/>
<polygon points="598.54,37.05 588.05,38.93 596.73,32.67 607.28,30.96" fill="#000000" stroke="#000000"/>
<polygon points="580.67,46.60 570.75,50.49 578.03,42.66 588.05,38.93" fill="#000000" stroke="#000000"/>
<polygon points="565.00,59.47 556.03,65.22 561.65,56.12 570.75,50.49" fill="#000000" stroke="#000000"/>
<polygon points="552.14,75.14 544.47,82.53 548.20,72.51 556.03,65.22" fill="#000000" stroke="#000000"/>
<polygon points="542.59,93.02 536.50,101.77 538.21,91.21 544.47,82.53" fill="#000000" stroke="#000000"/>
<polygon points="536.71,112.42 532.44,122.19 532.06,111.50 536.50,101.77" fill="#000000" stroke="#000000"/>
<polygon points="534.72,132.60 532.44,143.01 529.98,132.60 532.44,122.19" fill="#000000" stroke="#000000"/>
<polygon points="536.71,152.78 536.50,163.43 532.06,153.70 532.44,143.01" fill="#000000" stroke="#000000"/>
<polygon points="542.59,172.18 544.47,182.67 538.21,173.99 536.50,163.43" fill="#000000" stroke="#000000"/>
<polygon points="552.14,190.06 556.03,199.98 548.20,192.69 544.47,182.67" fill="#000000" stroke="#000000"/>
<polygon points="565.00,205.73 570.75,214.71 561.65,209.08 556.03,199.98" fill="#000000" stroke="#000000"/>
<polygon points="580.67,218.60 588.05,226.27 578.03,222.54 570.75,214.71" fill="#000000" stroke="#000000"/>
<polygon points="598.54,228.15 607.28,234.24 596.73,232.53 588.05,226.27" fill="#000000" stroke="#000000"/>
<polygon points="617.93,234.04 627.69,238.31 617.01,238.69 607.28,234.24" fill="#000000" stroke="#000000"/>
<polygon points="638.10,236.03 648.51,238.31 638.10,240.77 627.69,238.31" fill="#000000" stroke="#000000"/>
<polygon points="658.27,234.04 668.92,234.24 659.19,238.69 648.51,238.31" fill="#000000" stroke="#000000"/>
<polygon points="677.66,228.15 688.15,226.27 679.47,232.53 668.92,234.24" fill="#000000" stroke="#000000"/>
<polygon points="695.53,218.60 705.45,214.71 698.17,222.54 688.15,226.27" fill="#000000" stroke="#000000"/>
<polygon points="711.20,205.73 720.17,199.98 714.55,209.08 705.45,214.71" fill="#000000" stroke="#000000"/>
<polygon points="724.06,190.06 731.73,182.67 728.00,192.69 720.17,199.98" fill="#000000" stroke="#000000"/>
<polygon points="733.61,172.18 739.70,163.43 737.99,173.99 731.73,182.67" fill="#000000" stroke="#000000"/>
<polygon points="739.49,152.78 743.76,143.01 744.14,153.70 739.70,163.43" fill="#000000" stroke="#000000"/>
<polygon points="741.48,132.60 743.76,122.19 746.22,132.60 743.76,143.01" fill="#000000" stroke="#000000"/>
</g>
<path d="M638.1 121.4L638.1 132.6M638.1 121.4L653.8 116.8M649.3 132.6L653.8 116.8M638.1 132.6L649.3 132.6M626.9 132.6L638.1 132.6M622.4 116.8L626.9 132.6M622.4 116.8L638.1 121.4M638.1 132.6L638.1 143.8M622.4 148.4L638.1 143.8M622.4 148.4L626.9 132.6M649.3 132.6L653.8 148.4M638.1 143.8L653.8 148.4M653.8 116.8L666.8 116.0M660.4 132.6L666.8 116.0M649.3 132.6L660.4 132.6M638.1 110.3L638.1 121.4M638.1 110.3L654.7 103.9M653.8 116.8L654.7 103.9M621.5 103.9L622.4 116.8M621.5 103.9L638.1 110.3M615.8 132.6L626.9 132.6M609.4 116.0L615.8 132.6M609.4 116.0L622.4 116.8M609.4 149.2L622.4 148.4M609.4 149.2L615.8 132.6M638.1 143.8L638.1 154.9M621.5 161.3L638.1 154.9M621.5 161.3L622.4 148.4M653.8 148.4L654.7 161.3M638.1 154.9L654.7 161.3M660.4 132.6L666.8 149.2M653.8 148.4L666.8 149.2M666.8 116.0L678.6 115.8M671.3 132.6L678.6 115.8M660.4 132.6L671.3 132.6M654.7 103.9L669.1 101.6M666.8 116.0L669.1 101.6M638.1 99.4L638.1 110.3M638.1 99.4L654.9 92.1M654.7 103.9L654.9 92.1M621.3 92.1L621.5 103.9M621.3 92.1L638.1 99.4M607.1 101.6L609.4 116.0M607.1 101.6L621.5 103.9M604.9 132.6L615.8 132.6M597.6 115.8L604.9 132.6M597.6 115.8L609.4 116.0M597.6 149.4L609.4 149.2M597.6 149.4L604.9 132.6M607.1 163.6L621.5 161.3M607.1 163.6L609.4 149.2M638.1 154.9L638.1 165.8M621.3 173.1L638.1 165.8M621.3 173.1L621.5 161.3M654.7 161.3L654.9 173.1M638.1 165.8L654.9 173.1M666.8 149.2L669.1 163.6M654.7 161.3L669.1 163.6M671.3 132.6L678.6 149.4M666.8 149.2L678.6 149.4M678.6 115.8L689.6 115.9M681.9 132.6L689.6 115.9M671.3 132.6L681.9 132.6M669.1 101.6L681.9 100.8M678.6 115.8L681.9 100.8M654.9 92.1L669.9 88.8M669.1 101.6L669.9 88.8M638.1 88.8L638.1 99.4M638.1 88.8L654.8 81.1M654.8 81.1L654.9 92.1M621.3 92.1L621.4 81.1M621.4 81.1L638.1 88.8M606.3 88.8L607.1 101.6M606.3 88.8L621.3 92.1M594.3 100.8L597.6 115.8M594.3 100.8L607.1 101.6M594.3 132.6L604.9 132.6M586.6 115.9L594.3 132.6M586.6 115.9L597.6 115.8M586.6 149.3L597.6 149.4M586.6 149.3L594.3 132.6M594.3 164.4L607.1 163.6M594.3 164.4L597.6 149.4M606.3 176.4L621.3 173.1M606.3 176.4L607.1 163.6M638.1 165.8L638.1 176.4M621.4 184.1L638.1 176.4M621.3 173.1L621.4 184.1M654.8 184.1L654.9 173.1M638.1 176.4L654.8 184.1M669.1 163.6L669.9 176.4M654.9 173.1L669.9 176.4M678.6 149.4L681.9 164.4M669.1 163.6L681.9 164.4M681.9 132.6L689.6 149.3M678.6 149.4L689.6 149.3M689.6 115.9L699.8 116.0M692.2 132.6L699.8 116.0M681.9 132.6L692.2 132.6M681.9 100.8L693.5 100.6M689.6 115.9L693.5 100.6M669.9 88.8L683.3 87.4M681.9 100.8L683.3 87.4M654.8 81.1L670.1 77.2M669.9 88.8L670.1 77.2M638.1 78.5L638.1 88.8M638.1 78.5L654.6 70.8M654.6 70.8L654.8 81.1M621.4 81.1L621.6 70.8M621.6 70.8L638.1 78.5M606.1 77.2L606.3 88.8M606.1 77.2L621.4 81.1M592.9 87.4L594.3 100.8M592.9 87.4L606.3 88.8M582.7 100.6L586.6 115.9M582.7 100.6L594.3 100.8M584.0 132.6L594.3 132.6M576.4 116.0L584.0 132.6M576.4 116.0L586.6 115.9M576.4 149.2L586.6 149.3M576.4 149.2L584.0 132.6M582.7 164.6L594.3 164.4M582.7 164.6L586.6 149.3M592.9 177.8L606.3 176.4M592.9 177.8L594.3 164.4M606.1 188.0L621.4 184.1M606.1 188.0L606.3 176.4M638.1 176.4L638.1 186.7M621.6 194.4L638.1 186.7M621.4 184.1L621.6 194.4M654.6 194.4L654.8 184.1M638.1 186.7L654.6 194.4M669.9 176.4L670.1 188.0M654.8 184.1L670.1 188.0M681.9 164.4L683.3 177.8M669.9 176.4L683.3 177.8M689.6 149.3L693.5 164.6M681.9 164.4L693.5 164.6M692.2 132.6L699.8 149.2M689.6 149.3L699.8 149.2M699.8 116.0L709.4 116.3M702.0 132.6L709.4 116.3M692.2 132.6L702.0 132.6M693.5 100.6L704.0 100.8M699.8 116.0L704.0 100.8M683.3 87.4L695.3 87.0M693.5 100.6L695.3 87.0M670.1 77.2L683.7 75.4M683.3 87.4L683.7 75.4M654.6 70.8L669.8 66.6M669.8 66.6L670.1 77.2M638.1 68.6L638.1 78.5M638.1 68.6L654.4 61.2M654.4 61.2L654.6 70.8M621.6 70.8L621.8 61.2M621.8 61.2L638.1 68.6M606.1 77.2L606.4 66.6M606.4 66.6L621.6 70.8M592.5 75.4L592.9 87.4M592.5 75.4L606.1 77.2M580.9 87.0L582.7 100.6M580.9 87.0L592.9 87.4M572.2 100.8L576.4 116.0M572.2 100.8L582.7 100.6M574.2 132.6L584.0 132.6M566.8 116.3L574.2 132.6M566.8 116.3L576.4 116.0M566.8 148.9L576.4 149.2M566.8 148.9L574.2 132.6M572.2 164.4L582.7 164.6M572.2 164.4L576.4 149.2M580.9 178.2L592.9 177.8M580.9 178.2L582.7 164.6M606.4 198.6L621.6 194.4M606.1 188.0L606.4 198.6M638.1 186.7L638.1 196.6M621.8 204.0L638.1 196.6M621.6 194.4L621.8 204.0M654.4 204.0L654.6 194.4M638.1 196.6L654.4 204.0M669.8 198.6L670.1 188.0M654.6 194.4L669.8 198.6M683.3 177.8L683.7 189.8M670.1 188.0L683.7 189.8M693.5 164.6L695.3 178.2M683.3 177.8L695.3 178.2M699.8 149.2L704.0 164.4M693.5 164.6L704.0 164.4M702.0 132.6L709.4 148.9M699.8 149.2L709.4 148.9M709.4 116.3L718.3 116.6M711.3 132.6L718.3 116.6M702.0 132.6L711.3 132.6M704.0 100.8L713.6 101.3M709.4 116.3L713.6 101.3M695.3 87.0L706.1 87.2M704.0 100.8L706.1 87.2M683.7 75.4L695.9 74.8M695.3 87.0L695.9 74.8M669.8 66.6L683.5 64.6M683.5 64.6L683.7 75.4M654.4 61.2L669.4 57.1M669.4 57.1L669.8 66.6M638.1 59.4L638.1 68.6M638.1 59.4L654.0 52.4M654.0 52.4L654.4 61.2M621.8 61.2L622.2 52.4M622.2 52.4L638.1 59.4M606.4 66.6L606.8 57.1M606.8 57.1L621.8 61.2M592.5 75.4L592.7 64.6M592.7 64.6L606.4 66.6M580.3 74.8L580.9 87.0M580.3 74.8L592.5 75.4M570.1 87.2L572.2 100.8M570.1 87.2L580.9 87.0M562.6 101.3L566.8 116.3M562.6 101.3L572.2 100.8M564.9 132.6L574.2 132.6M557.9 116.6L564.9 132.6M557.9 116.6L566.8 116.3M557.9 148.6L566.8 148.9M557.9 148.6L564.9 132.6M562.6 163.9L572.2 164.4M562.6 163.9L566.8 148.9M570.1 178.0L580.9 178.2M570.1 178.0L572.2 164.4M592.5 189.8L592.9 177.8M580.3 190.4L592.5 189.8M580.3 190.4L580.9 178.2M592.7 200.6L606.4 198.6M592.5 189.8L592.7 200.6M592.5 189.8L606.1 188.0M606.8 208.1L621.8 204.0M606.4 198.6L606.8 208.1M638.1 196.6L638.1 205.8M622.2 212.8L638.1 205.8M621.8 204.0L622.2 212.8M654.0 212.8L654.4 204.0M638.1 205.8L654.0 212.8M669.4 208.1L669.8 198.6M654.4 204.0L669.4 208.1M683.5 200.6L683.7 189.8M669.8 198.6L683.5 200.6M695.3 178.2L695.9 190.4M683.7 189.8L695.9 190.4M704.0 164.4L706.1 178.0M695.3 178.2L706.1 178.0M709.4 148.9L713.6 163.9M704.0 164.4L713.6 163.9M711.3 132.6L718.3 148.6M709.4 148.9L718.3 148.6M718.3 116.6L726.7 123.9M719.8 132.6L726.7 123.9M711.3 132.6L719.8 132.6M713.6 101.3L723.3 106.7M718.3 116.6L723.3 106.7M706.1 87.2L716.6 90.6M713.6 101.3L716.6 90.6M695.9 74.8L706.9 76.1M706.1 87.2L706.9 76.1M683.5 64.6L694.6 63.7M694.6 63.7L695.9 74.8M669.4 57.1L680.1 54.0M680.1 54.0L683.5 64.6M654.0 52.4L664.0 47.3M664.0 47.3L669.4 57.1M638.1 50.8L638.1 59.4M638.1 50.8L646.8 43.9M646.8 43.9L654.0 52.4M622.2 52.4L629.4 43.9M629.4 43.9L638.1 50.8M606.8 57.1L612.2 47.3M612.2 47.3L622.2 52.4M592.7 64.6L596.1 54.0M596.1 54.0L606.8 57.1M580.3 74.8L581.6 63.7M581.6 63.7L592.7 64.6M569.3 76.1L570.1 87.2M569.3 76.1L580.3 74.8M559.6 90.6L562.6 101.3M559.6 90.6L570.1 87.2M552.9 106.7L557.9 116.6M552.9 106.7L562.6 101.3M556.4 132.6L564.9 132.6M549.5 123.9L556.4 132.6M549.5 123.9L557.9 116.6M549.5 141.3L557.9 148.6M549.5 141.3L556.4 132.6M552.9 158.5L562.6 163.9M552.9 158.5L557.9 148.6M559.6 174.6L570.1 178.0M559.6 174.6L562.6 163.9M569.3 189.1L580.3 190.4M569.3 189.1L570.1 178.0M581.6 201.5L592.7 200.6M580.3 190.4L581.6 201.5M596.1 211.2L606.8 208.1M592.7 200.6L596.1 211.2M612.2 217.9L622.2 212.8M606.8 208.1L612.2 217.9M638.1 205.8L638.1 214.4M629.4 221.3L638.1 214.4M622.2 212.8L629.4 221.3M646.8 221.3L654.0 212.8M638.1 214.4L646.8 221.3M664.0 217.9L669.4 208.1M654.0 212.8L664.0 217.9M680.1 211.2L683.5 200.6M669.4 208.1L680.1 211.2M694.6 201.5L695.9 190.4M683.5 200.6L694.6 201.5M706.1 178.0L706.9 189.1M695.9 190.4L706.9 189.1M713.6 163.9L716.6 174.6M706.1 178.0L716.6 174.6M718.3 148.6L723.3 158.5M713.6 163.9L723.3 158.5M719.8 132.6L726.7 141.3M718.3 148.6L726.7 141.3M723.3 106.7L731.2 114.1M726.7 123.9L731.2 114.1M716.6 90.6L725.8 96.2M723.3 106.7L725.8 96.2M706.9 76.1L717.1 79.8M716.6 90.6L717.1 79.8M694.6 63.7L705.2 65.4M705.2 65.4L706.9 76.1M680.1 54.0L690.9 53.6M690.9 53.6L694.6 63.7M664.0 47.3L674.4 44.8M674.4 44.8L680.1 54.0M646.8 43.9L656.6 39.4M656.6 39.4L664.0 47.3M629.4 43.9L638.1 37.6M638.1 37.6L646.8 43.9M612.2 47.3L619.6 39.4M619.6 39.4L629.4 43.9M596.1 54.0L601.8 44.8M601.8 44.8L612.2 47.3M581.6 63.7L585.3 53.6M585.3 53.6L596.1 54.0M569.3 76.1L571.0 65.4M571.0 65.4L581.6 63.7M559.1 79.8L559.6 90.6M559.1 79.8L569.3 76.1M550.4 96.2L552.9 106.7M550.4 96.2L559.6 90.6M545.0 114.1L549.5 123.9M545.0 114.1L552.9 106.7M543.1 132.6L549.5 141.3M543.1 132.6L549.5 123.9M545.0 151.1L552.9 158.5M545.0 151.1L549.5 141.3M550.4 169.0L559.6 174.6M550.4 169.0L552.9 158.5M559.1 185.4L569.3 189.1M559.1 185.4L559.6 174.6M571.0 199.8L581.6 201.5M569.3 189.1L571.0 199.8M585.3 211.6L596.1 211.2M581.6 201.5L585.3 211.6M601.8 220.4L612.2 217.9M596.1 211.2L601.8 220.4M619.6 225.8L629.4 221.3M612.2 217.9L619.6 225.8M638.1 227.6L646.8 221.3M629.4 221.3L638.1 227.6M656.6 225.8L664.0 217.9M646.8 221.3L656.6 225.8M674.4 220.4L680.1 211.2M664.0 217.9L674.4 220.4M690.9 211.6L694.6 201.5M680.1 211.2L690.9 211.6M705.2 199.8L706.9 189.1M694.6 201.5L705.2 199.8M716.6 174.6L717.1 185.4M706.9 189.1L717.1 185.4M723.3 158.5L725.8 169.0M716.6 174.6L725.8 169.0M726.7 141.3L731.2 151.1M723.3 158.5L731.2 151.1M726.7 123.9L733.1 132.6M726.7 141.3L733.1 132.6M731.2 114.1L737.3 122.8M733.1 132.6L737.3 122.8M725.8 96.2L733.5 103.7M731.2 114.1L733.5 103.7M717.1 79.8L726.0 85.6M725.8 96.2L726.0 85.6M705.2 65.4L715.2 69.3M715.2 69.3L717.1 79.8M690.9 53.6L701.3 55.5M701.3 55.5L705.2 65.4M674.4 44.8L685.1 44.7M685.1 44.7L690.9 53.6M656.6 39.4L667.0 37.2M667.0 37.2L674.4 44.8M638.1 37.6L647.9 33.4M647.9 33.4L656.6 39.4M619.6 39.4L628.3 33.4M628.3 33.4L638.1 37.6M601.8 44.8L609.2 37.2M609.2 37.2L619.6 39.4M585.3 53.6L591.1 44.7M591.1 44.7L601.8 44.8M571.0 65.4L574.9 55.5M574.9 55.5L585.3 53.6M559.1 79.8L561.0 69.3M561.0 69.3L571.0 65.4M550.2 85.6L550.4 96.2M550.2 85.6L559.1 79.8M542.7 103.7L545.0 114.1M542.7 103.7L550.4 96.2M538.9 122.8L543.1 132.6M538.9 122.8L545.0 114.1M538.9 142.4L545.0 151.1M538.9 142.4L543.1 132.6M542.7 161.5L550.4 169.0M542.7 161.5L545.0 151.1M550.2 179.6L559.1 185.4M550.2 179.6L550.4 169.0M561.0 195.9L571.0 199.8M559.1 185.4L561.0 195.9M574.9 209.7L585.3 211.6M571.0 199.8L574.9 209.7M591.1 220.5L601.8 220.4M585.3 211.6L591.1 220.5M609.2 228.0L619.6 225.8M601.8 220.4L609.2 228.0M628.3 231.8L638.1 227.6M619.6 225.8L628.3 231.8M647.9 231.8L656.6 225.8M638.1 227.6L647.9 231.8M667.0 228.0L674.4 220.4M656.6 225.8L667.0 228.0M685.1 220.5L690.9 211.6M674.4 220.4L685.1 220.5M701.3 209.7L705.2 199.8M690.9 211.6L701.3 209.7M715.2 195.9L717.1 185.4M705.2 199.8L715.2 195.9M725.8 169.0L726.0 179.6M717.1 185.4L726.0 179.6M731.2 151.1L733.5 161.5M725.8 169.0L733.5 161.5M733.1 132.6L737.3 142.4M731.2 151.1L737.3 142.4M733.5 103.7L739.5 112.4M737.3 122.8L739.5 112.4M726.0 85.6L733.6 93.0M733.5 103.7L733.6 93.0M715.2 69.3L724.1 75.1M724.1 75.1L726.0 85.6M701.3 55.5L711.2 59.5M711.2 59.5L715.2 69.3M685.1 44.7L695.5 46.6M695.5 46.6L701.3 55.5M667.0 37.2L677.7 37.0M677.7 37.0L685.1 44.7M647.9 33.4L658.3 31.2M658.3 31.2L667.0 37.2M628.3 33.4L638.1 29.2M638.1 29.2L647.9 33.4M609.2 37.2L617.9 31.2M617.9 31.2L628.3 33.4M591.1 44.7L598.5 37.0M598.5 37.0L609.2 37.2M574.9 55.5L580.7 46.6M580.7 46.6L591.1 44.7M561.0 69.3L565.0 59.5M565.0 59.5L574.9 55.5M550.2 85.6L552.1 75.1M552.1 75.1L561.0 69.3M542.6 93.0L542.7 103.7M542.6 93.0L550.2 85.6M536.7 112.4L538.9 122.8M536.7 112.4L542.7 103.7M534.7 132.6L538.9 142.4M534.7 132.6L538.9 122.8M536.7 152.8L542.7 161.5M536.7 152.8L538.9 142.4M542.6 172.2L550.2 179.6M542.6 172.2L542.7 161.5M552.1 190.1L561.0 195.9M550.2 179.6L552.1 190.1M565.0 205.7L574.9 209.7M561.0 195.9L565.0 205.7M580.7 218.6L591.1 220.5M574.9 209.7L580.7 218.6M598.5 228.2L609.2 228.0M591.1 220.5L598.5 228.2M617.9 234.0L628.3 231.8M609.2 228.0L617.9 234.0M638.1 236.0L647.9 231.8M628.3 231.8L638.1 236.0M658.3 234.0L667.0 228.0M647.9 231.8L658.3 234.0M677.7 228.2L685.1 220.5M667.0 228.0L677.7 228.2M695.5 218.6L701.3 209.7M685.1 220.5L695.5 218.6M711.2 205.7L715.2 195.9M701.3 209.7L711.2 205.7M724.1 190.1L726.0 179.6M715.2 195.9L724.1 190.1M733.5 161.5L733.6 172.2M726.0 179.6L733.6 172.2M737.3 142.4L739.5 152.8M733.5 161.5L739.5 152.8M737.3 122.8L741.5 132.6M737.3 142.4L741.5 132.6M739.5 112.4L743.8 122.2M741.5 132.6L743.8 122.2M733.6 93.0L739.7 101.8M739.5 112.4L739.7 101.8M724.1 75.1L731.7 82.5M731.7 82.5L733.6 93.0M711.2 59.5L720.2 65.2M720.2 65.2L724.1 75.1M695.5 46.6L705.5 50.5M705.5 50.5L711.2 59.5M677.7 37.0L688.1 38.9M688.1 38.9L695.5 46.6M658.3 31.2L668.9 31.0M668.9 31.0L677.7 37.0M638.1 29.2L648.5 26.9M648.5 26.9L658.3 31.2M617.9 31.2L627.7 26.9M627.7 26.9L638.1 29.2M598.5 37.0L607.3 31.0M607.3 31.0L617.9 31.2M580.7 46.6L588.1 38.9M588.1 38.9L598.5 37.0M565.0 59.5L570.7 50.5M570.7 50.5L580.7 46.6M552.1 75.1L556.0 65.2M556.0 65.2L565.0 59.5M542.6 93.0L544.5 82.5M544.5 82.5L552.1 75.1M536.5 101.8L536.7 112.4M536.5 101.8L542.6 93.0M532.4 122.2L534.7 132.6M532.4 122.2L536.7 112.4M532.4 143.0L536.7 152.8M532.4 143.0L534.7 132.6M536.5 163.4L542.6 172.2M536.5 163.4L536.7 152.8M544.5 182.7L552.1 190.1M542.6 172.2L544.5 182.7M556.0 200.0L565.0 205.7M552.1 190.1L556.0 200.0M570.7 214.7L580.7 218.6M565.0 205.7L570.7 214.7M588.1 226.3L598.5 228.2M580.7 218.6L588.1 226.3M607.3 234.2L617.9 234.0M598.5 228.2L607.3 234.2M627.7 238.3L638.1 236.0M617.9 234.0L627.7 238.3M648.5 238.3L658.3 234.0M638.1 236.0L648.5 238.3M668.9 234.2L677.7 228.2M658.3 234.0L668.9 234.2M688.1 226.3L695.5 218.6M677.7 228.2L688.1 226.3M705.5 214.7L711.2 205.7M695.5 218.6L705.5 214.7M720.2 200.0L724.1 190.1M711.2 205.7L720.2 200.0M731.7 182.7L733.6 172.2M724.1 190.1L731.7 182.7M739.5 152.8L739.7 163.4M733.6 172.2L739.7 163.4M741.5 132.6L743.8 143.0M739.5 152.8L743.8 143.0M739.7 101.8L744.1 111.5M743.8 122.2L744.1 111.5M731.7 82.5L738.0 91.2M738.0 91.2L739.7 101.8M720.2 65.2L728.0 72.5M728.0 72.5L731.7 82.5M705.5 50.5L714.5 56.1M714.5 56.1L720.2 65.2M688.1 38.9L698.2 42.7M698.2 42.7L705.5 50.5M668.9 31.0L679.5 32.7M679.5 32.7L688.1 38.9M648.5 26.9L659.2 26.5M659.2 26.5L668.9 31.0M627.7 26.9L638.1 24.4M638.1 24.4L648.5 26.9M607.3 31.0L617.0 26.5M617.0 26.5L627.7 26.9M588.1 38.9L596.7 32.7M596.7 32.7L607.3 31.0M570.7 50.5L578.0 42.7M578.0 42.7L588.1 38.9M556.0 65.2L561.7 56.1M561.7 56.1L570.7 50.5M544.5 82.5L548.2 72.5M548.2 72.5L556.0 65.2M536.5 101.8L538.2 91.2M538.2 91.2L544.5 82.5M532.1 111.5L532.4 122.2M532.1 111.5L536.5 101.8M530.0 132.6L532.4 143.0M530.0 132.6L532.4 122.2M532.1 153.7L536.5 163.4M532.1 153.7L532.4 143.0M538.2 174.0L544.5 182.7M536.5 163.4L538.2 174.0M548.2 192.7L556.0 200.0M544.5 182.7L548.2 192.7M561.7 209.1L570.7 214.7M556.0 200.0L561.7 209.1M578.0 222.5L588.1 226.3M570.7 214.7L578.0 222.5M596.7 232.5L607.3 234.2M588.1 226.3L596.7 232.5M617.0 238.7L627.7 238.3M607.3 234.2L617.0 238.7M638.1 240.8L648.5 238.3M627.7 238.3L638.1 240.8M659.2 238.7L668.9 234.2M648.5 238.3L659.2 238.7M679.5 232.5L688.1 226.3M668.9 234.2L679.5 232.5M698.2 222.5L705.5 214.7M688.1 226.3L698.2 222.5M714.5 209.1L720.2 200.0M705.5 214.7L714.5 209.1M728.0 192.7L731.7 182.7M720.2 200.0L728.0 192.7M738.0 174.0L739.7 163.4M731.7 182.7L738.0 174.0M743.8 143.0L744.1 153.7M739.7 163.4L744.1 153.7M743.8 122.2L746.2 132.6M743.8 143.0L746.2 132.6" fill="none" stroke="rgba(255,255,255,0.5)" stroke-width="0.5" stroke-dasharray="1.8 1.6"/>
<path d="M92.71 141.68 A37.50 37.52 0 1 0 97.30 112.72" fill="none" stroke="#000" stroke-width="1.60" stroke-linecap="butt"/>
<path d="M176.81 80.69 A70.48 70.51 0 1 0 194.90 107.33" fill="none" stroke="#000" stroke-width="1.60" stroke-linecap="butt"/>
<path d="M54.78 191.74 A94.96 95.00 0 1 0 39.31 163.53" fill="none" stroke="#000" stroke-width="1.60" stroke-linecap="butt"/>
<text transform="translate(91.92 127.70) rotate(-90.0)" text-anchor="middle" font-size="12.9" fill="#000" stroke="#000" stroke-width="0.3" y="1.8">20<tspan font-size="8" dy="-1.5" dx="4.5" fill-opacity="0.7" stroke="none">°</tspan></text>
<text transform="translate(188.68 94.92) rotate(56.0)" text-anchor="middle" font-size="12.9" fill="#000" stroke="#000" stroke-width="0.3" y="1.8">40<tspan font-size="8" dy="-1.5" dx="4.5" fill-opacity="0.7" stroke="none">°</tspan></text>
<text transform="translate(46.13 178.80) rotate(62.0)" text-anchor="middle" font-size="12.9" fill="#000" stroke="#000" stroke-width="0.3" y="1.8">60<tspan font-size="8" dy="-1.5" dx="4.5" fill-opacity="0.7" stroke="none">°</tspan></text>
<path d="M382.29 170.10 A37.50 37.52 0 1 0 347.66 143.32" fill="none" stroke="#fff" stroke-width="1.60" stroke-linecap="butt"/>
<path d="M449.87 156.60 A70.48 70.51 0 1 0 423.62 190.64" fill="none" stroke="#fff" stroke-width="1.60" stroke-linecap="butt"/>
<path d="M295.68 96.70 A94.96 95.00 0 1 0 321.55 60.68" fill="none" stroke="#fff" stroke-width="1.60" stroke-linecap="butt"/>
<text transform="translate(361.03 162.56) rotate(45.0)" text-anchor="middle" font-size="13.4" fill="#fff" stroke="#fff" stroke-width="0.3" y="2.0">20.0<tspan font-size="11" dy="-1.5" dx="3" fill-opacity="0.7" stroke="none">°</tspan></text>
<text transform="translate(440.62 174.05) rotate(-55.0)" text-anchor="middle" font-size="13.4" fill="#fff" stroke="#fff" stroke-width="0.3" y="2.0">40.0<tspan font-size="11" dy="-1.5" dx="3" fill-opacity="0.7" stroke="none">°</tspan></text>
<text transform="translate(306.78 76.76) rotate(-54.0)" text-anchor="middle" font-size="13.4" fill="#fff" stroke="#fff" stroke-width="0.3" y="2.0">60.0<tspan font-size="11" dy="-1.5" dx="3" fill-opacity="0.7" stroke="none">°</tspan></text>
<path d="M636.79 170.10 A37.50 37.52 0 1 0 602.16 143.32" fill="none" stroke="#fff" stroke-width="1.60" stroke-linecap="butt"/>
<path d="M704.37 156.60 A70.48 70.51 0 1 0 678.12 190.64" fill="none" stroke="#fff" stroke-width="1.60" stroke-linecap="butt"/>
<path d="M550.18 96.70 A94.96 95.00 0 1 0 576.05 60.68" fill="none" stroke="#fff" stroke-width="1.60" stroke-linecap="butt"/>
<text transform="translate(615.53 162.56) rotate(45.0)" text-anchor="middle" font-size="13.4" fill="#fff" stroke="#fff" stroke-width="0.3" y="2.0">20.0<tspan font-size="11" dy="-1.5" dx="3" fill-opacity="0.7" stroke="none">°</tspan></text>
<text transform="translate(695.12 174.05) rotate(-55.0)" text-anchor="middle" font-size="13.4" fill="#fff" stroke="#fff" stroke-width="0.3" y="2.0">40.0<tspan font-size="11" dy="-1.5" dx="3" fill-opacity="0.7" stroke="none">°</tspan></text>
<text transform="translate(561.28 76.76) rotate(-54.0)" text-anchor="middle" font-size="13.4" fill="#fff" stroke="#fff" stroke-width="0.3" y="2.0">60.0<tspan font-size="11" dy="-1.5" dx="3" fill-opacity="0.7" stroke="none">°</tspan></text>
<rect x="17.30" y="22.90" width="223.40" height="220.06" fill="none" stroke="#111" stroke-width="1.3"/>
<path d="M19.45 22.90v5.3M19.45 242.96v-5.3M17.30 22.90h5.3M240.70 22.90h-5.3M74.27 22.90v5.3M74.27 242.96v-5.3M17.30 77.75h5.3M240.70 77.75h-5.3M129.10 22.90v5.3M129.10 242.96v-5.3M17.30 132.60h5.3M240.70 132.60h-5.3M183.93 22.90v5.3M183.93 242.96v-5.3M17.30 187.45h5.3M240.70 187.45h-5.3M238.75 22.90v5.3M238.75 242.96v-5.3M17.30 242.30h5.3M240.70 242.30h-5.3" stroke="#111" stroke-width="0.9" fill="none"/>
<text x="128.00" y="15.9" text-anchor="middle" font-size="19.8">Gridded Power</text>
<rect x="272.40" y="22.90" width="222.20" height="220.06" fill="none" stroke="#111" stroke-width="1.3"/>
<path d="M273.95 22.90v5.3M273.95 242.96v-5.3M272.40 22.90h5.3M494.60 22.90h-5.3M328.78 22.90v5.3M328.78 242.96v-5.3M272.40 77.75h5.3M494.60 77.75h-5.3M383.60 22.90v5.3M383.60 242.96v-5.3M272.40 132.60h5.3M494.60 132.60h-5.3M438.43 22.90v5.3M438.43 242.96v-5.3M272.40 187.45h5.3M494.60 187.45h-5.3M493.25 22.90v5.3M493.25 242.96v-5.3M272.40 242.30h5.3M494.60 242.30h-5.3" stroke="#111" stroke-width="0.9" fill="none"/>
<text x="383.10" y="15.9" text-anchor="middle" font-size="19.8">Standard Deviation</text>
<rect x="526.60" y="22.90" width="223.40" height="220.06" fill="none" stroke="#111" stroke-width="1.3"/>
<path d="M528.45 22.90v5.3M528.45 242.96v-5.3M526.60 22.90h5.3M750.00 22.90h-5.3M583.27 22.90v5.3M583.27 242.96v-5.3M526.60 77.75h5.3M750.00 77.75h-5.3M638.10 22.90v5.3M638.10 242.96v-5.3M526.60 132.60h5.3M750.00 132.60h-5.3M692.93 22.90v5.3M692.93 242.96v-5.3M526.60 187.45h5.3M750.00 187.45h-5.3M747.75 22.90v5.3M747.75 242.96v-5.3M526.60 242.30h5.3M750.00 242.30h-5.3" stroke="#111" stroke-width="0.9" fill="none"/>
<text x="637.30" y="15.9" text-anchor="middle" font-size="19.8">Sample Count</text>
<defs><linearGradient id="g0" x1="0" x2="1" y1="0" y2="0"><stop offset="0.0000" stop-color="#000080"/><stop offset="0.0312" stop-color="#0000a4"/><stop offset="0.0625" stop-color="#0000c8"/><stop offset="0.0938" stop-color="#0000ed"/><stop offset="0.1250" stop-color="#0000ff"/><stop offset="0.1562" stop-color="#0020ff"/><stop offset="0.1875" stop-color="#0040ff"/><stop offset="0.2188" stop-color="#0060ff"/><stop offset="0.2500" stop-color="#0080ff"/><stop offset="0.2812" stop-color="#00a0ff"/><stop offset="0.3125" stop-color="#00c0ff"/><stop offset="0.3438" stop-color="#00e0fb"/><stop offset="0.3750" stop-color="#16ffe1"/><stop offset="0.4062" stop-color="#30ffc7"/><stop offset="0.4375" stop-color="#49ffad"/><stop offset="0.4688" stop-color="#63ff94"/><stop offset="0.5000" stop-color="#7dff7a"/><stop offset="0.5312" stop-color="#97ff60"/><stop offset="0.5625" stop-color="#b1ff46"/><stop offset="0.5938" stop-color="#caff2c"/><stop offset="0.6250" stop-color="#e4ff13"/><stop offset="0.6562" stop-color="#feed00"/><stop offset="0.6875" stop-color="#ffd000"/><stop offset="0.7188" stop-color="#ffb200"/><stop offset="0.7500" stop-color="#ff9400"/><stop offset="0.7812" stop-color="#ff7700"/><stop offset="0.8125" stop-color="#ff5900"/><stop offset="0.8438" stop-color="#ff3b00"/><stop offset="0.8750" stop-color="#ff1e00"/><stop offset="0.9062" stop-color="#e80000"/><stop offset="0.9375" stop-color="#c40000"/><stop offset="0.9688" stop-color="#9f0000"/><stop offset="1.0000" stop-color="#800000"/></linearGradient></defs>
<rect x="17.30" y="258.50" width="223.50" height="10.80" fill="url(#g0)"/>
<rect x="17.30" y="258.50" width="223.50" height="10.80" fill="none" stroke="#111" stroke-width="1.2"/>
<text x="17.30" y="288.2" text-anchor="middle" font-size="15.8">−40</text>
<text x="62.00" y="288.2" text-anchor="middle" font-size="15.8">−32</text>
<text x="106.70" y="288.2" text-anchor="middle" font-size="15.8">−24</text>
<text x="151.40" y="288.2" text-anchor="middle" font-size="15.8">−16</text>
<text x="196.10" y="288.2" text-anchor="middle" font-size="15.8">−8</text>
<text x="240.80" y="288.2" text-anchor="middle" font-size="15.8">0</text>
<path d="M62.00 269.30v-5M106.70 269.30v-5M151.40 269.30v-5M196.10 269.30v-5" stroke="#111" stroke-width="0.9"/>
<text x="129.00" y="312.6" text-anchor="middle" font-size="16">dB</text>
<defs><linearGradient id="g1" x1="0" x2="1" y1="0" y2="0"><stop offset="0.0000" stop-color="#000080"/><stop offset="0.0312" stop-color="#0000a4"/><stop offset="0.0625" stop-color="#0000c8"/><stop offset="0.0938" stop-color="#0000ed"/><stop offset="0.1250" stop-color="#0000ff"/><stop offset="0.1562" stop-color="#0020ff"/><stop offset="0.1875" stop-color="#0040ff"/><stop offset="0.2188" stop-color="#0060ff"/><stop offset="0.2500" stop-color="#0080ff"/><stop offset="0.2812" stop-color="#00a0ff"/><stop offset="0.3125" stop-color="#00c0ff"/><stop offset="0.3438" stop-color="#00e0fb"/><stop offset="0.3750" stop-color="#16ffe1"/><stop offset="0.4062" stop-color="#30ffc7"/><stop offset="0.4375" stop-color="#49ffad"/><stop offset="0.4688" stop-color="#63ff94"/><stop offset="0.5000" stop-color="#7dff7a"/><stop offset="0.5312" stop-color="#97ff60"/><stop offset="0.5625" stop-color="#b1ff46"/><stop offset="0.5938" stop-color="#caff2c"/><stop offset="0.6250" stop-color="#e4ff13"/><stop offset="0.6562" stop-color="#feed00"/><stop offset="0.6875" stop-color="#ffd000"/><stop offset="0.7188" stop-color="#ffb200"/><stop offset="0.7500" stop-color="#ff9400"/><stop offset="0.7812" stop-color="#ff7700"/><stop offset="0.8125" stop-color="#ff5900"/><stop offset="0.8438" stop-color="#ff3b00"/><stop offset="0.8750" stop-color="#ff1e00"/><stop offset="0.9062" stop-color="#e80000"/><stop offset="0.9375" stop-color="#c40000"/><stop offset="0.9688" stop-color="#9f0000"/><stop offset="1.0000" stop-color="#800000"/></linearGradient></defs>
<rect x="272.40" y="258.50" width="222.30" height="10.80" fill="url(#g1)"/>
<rect x="272.40" y="258.50" width="222.30" height="10.80" fill="none" stroke="#111" stroke-width="1.2"/>
<text x="272.40" y="288.2" text-anchor="middle" font-size="15.8">0.0</text>
<text x="316.86" y="288.2" text-anchor="middle" font-size="15.8">0.4</text>
<text x="361.32" y="288.2" text-anchor="middle" font-size="15.8">0.8</text>
<text x="405.78" y="288.2" text-anchor="middle" font-size="15.8">1.2</text>
<text x="450.24" y="288.2" text-anchor="middle" font-size="15.8">1.6</text>
<text x="494.70" y="288.2" text-anchor="middle" font-size="15.8">2.0</text>
<path d="M316.86 269.30v-5M361.32 269.30v-5M405.78 269.30v-5M450.24 269.30v-5" stroke="#111" stroke-width="0.9"/>
<text x="384.10" y="312.6" text-anchor="middle" font-size="16">dB</text>
<rect x="526.60" y="258.50" width="22.65" height="10.80" fill="#ffffff"/>
<rect x="548.95" y="258.50" width="22.65" height="10.80" fill="#d8e6e6"/>
<rect x="571.30" y="258.50" width="22.65" height="10.80" fill="#b2cdcd"/>
<rect x="593.65" y="258.50" width="22.65" height="10.80" fill="#95aeb5"/>
<rect x="616.00" y="258.50" width="22.65" height="10.80" fill="#7c8c9c"/>
<rect x="638.35" y="258.50" width="22.65" height="10.80" fill="#636a83"/>
<rect x="660.70" y="258.50" width="22.65" height="10.80" fill="#4a4a67"/>
<rect x="683.05" y="258.50" width="22.65" height="10.80" fill="#323245"/>
<rect x="705.40" y="258.50" width="22.65" height="10.80" fill="#191922"/>
<rect x="727.75" y="258.50" width="22.35" height="10.80" fill="#000000"/>
<rect x="526.60" y="258.50" width="223.50" height="10.80" fill="none" stroke="#111" stroke-width="1.2"/>
<text x="526.60" y="288.2" text-anchor="middle" font-size="15.8">1</text>
<text x="551.43" y="288.2" text-anchor="middle" font-size="15.8">2</text>
<text x="576.27" y="288.2" text-anchor="middle" font-size="15.8">3</text>
<text x="601.10" y="288.2" text-anchor="middle" font-size="15.8">4</text>
<text x="625.93" y="288.2" text-anchor="middle" font-size="15.8">5</text>
<text x="650.77" y="288.2" text-anchor="middle" font-size="15.8">6</text>
<text x="675.60" y="288.2" text-anchor="middle" font-size="15.8">7</text>
<text x="700.43" y="288.2" text-anchor="middle" font-size="15.8">8</text>
<text x="725.27" y="288.2" text-anchor="middle" font-size="15.8">9</text>
<text x="750.10" y="288.2" text-anchor="middle" font-size="15.8">10</text>
<path d="M551.43 269.30v-5M576.27 269.30v-5M601.10 269.30v-5M625.93 269.30v-5M650.77 269.30v-5M675.60 269.30v-5M700.43 269.30v-5M725.27 269.30v-5" stroke="#111" stroke-width="0.9"/>
<text x="637.50" y="312.6" text-anchor="middle" font-size="16.2">sample count</text>
</svg>
</body></html>
